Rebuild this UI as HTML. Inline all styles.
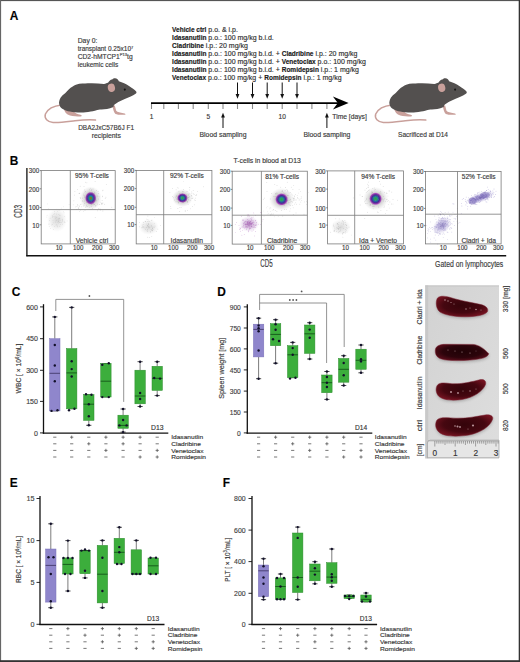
<!DOCTYPE html><html><head><meta charset="utf-8"><style>
html,body{margin:0;padding:0;background:#fff;}
svg{display:block;}
text{font-family:"Liberation Sans",sans-serif;stroke:#3a3a3a;stroke-width:0.15px;}
</style></head><body>
<svg width="520" height="662" viewBox="0 0 520 662">
<rect x="0" y="0" width="520" height="662" fill="#fff"/>
<text x="9.70" y="20.00" font-size="11.9" text-anchor="start" font-weight="bold" fill="#000" >A</text>
<text x="77.70" y="43.40" font-size="6.8" text-anchor="start" font-weight="normal" fill="#3a3a3a" >Day 0:</text>
<text x="77.70" y="51.20" font-size="6.8" text-anchor="start" font-weight="normal" fill="#3a3a3a" textLength="55.60" lengthAdjust="spacingAndGlyphs" >transplant 0.25x10<tspan dy="-2.6" font-size="4.2">7</tspan></text>
<text x="77.70" y="59.00" font-size="6.8" text-anchor="start" font-weight="normal" fill="#3a3a3a" textLength="55.00" lengthAdjust="spacingAndGlyphs" >CD2-hMTCP1<tspan dy="-2.6" font-size="4.2">P13</tspan><tspan dy="2.6">tg</tspan></text>
<text x="77.70" y="66.80" font-size="6.8" text-anchor="start" font-weight="normal" fill="#3a3a3a" textLength="40.60" lengthAdjust="spacingAndGlyphs" >leukemic cells</text>
<text x="106.10" y="129.80" font-size="6.8" text-anchor="middle" font-weight="normal" fill="#3a3a3a" textLength="55.80" lengthAdjust="spacingAndGlyphs" >DBA2JxC57B6J F1</text>
<text x="106.30" y="137.70" font-size="6.8" text-anchor="middle" font-weight="normal" fill="#3a3a3a" textLength="29.20" lengthAdjust="spacingAndGlyphs" >recipients</text>
<text x="172.10" y="31.50" font-size="7.0" text-anchor="start" font-weight="normal" fill="#2a2a2a" ><tspan font-weight="bold" font-size="6.5" fill="#111">Vehicle ctrl</tspan> p.o. &amp; i.p.</text>
<text x="172.10" y="39.57" font-size="7.0" text-anchor="start" font-weight="normal" fill="#2a2a2a" ><tspan font-weight="bold" font-size="6.5" fill="#111">Idasanutlin</tspan> p.o.: 100 mg/kg b.i.d.</text>
<text x="172.10" y="47.64" font-size="7.0" text-anchor="start" font-weight="normal" fill="#2a2a2a" ><tspan font-weight="bold" font-size="6.5" fill="#111">Cladribine</tspan> i.p.: 20 mg/kg</text>
<text x="172.10" y="55.71" font-size="7.0" text-anchor="start" font-weight="normal" fill="#2a2a2a" ><tspan font-weight="bold" font-size="6.5" fill="#111">Idasanutlin</tspan> p.o.: 100 mg/kg b.i.d. + <tspan font-weight="bold" font-size="6.5" fill="#111">Cladribine</tspan> i.p.: 20 mg/kg</text>
<text x="172.10" y="63.78" font-size="7.0" text-anchor="start" font-weight="normal" fill="#2a2a2a" ><tspan font-weight="bold" font-size="6.5" fill="#111">Idasanutlin</tspan> p.o.: 100 mg/kg b.i.d. + <tspan font-weight="bold" font-size="6.5" fill="#111">Venetoclax</tspan> p.o.: 100 mg/kg</text>
<text x="172.10" y="71.85" font-size="7.0" text-anchor="start" font-weight="normal" fill="#2a2a2a" ><tspan font-weight="bold" font-size="6.5" fill="#111">Idasanutlin</tspan> p.o.: 100 mg/kg b.i.d. + <tspan font-weight="bold" font-size="6.5" fill="#111">Romidepsin</tspan> i.p.: 1 mg/kg</text>
<text x="172.10" y="79.92" font-size="7.0" text-anchor="start" font-weight="normal" fill="#2a2a2a" ><tspan font-weight="bold" font-size="6.5" fill="#111">Venetoclax</tspan> p.o.: 100 mg/kg + <tspan font-weight="bold" font-size="6.5" fill="#111">Romidepsin</tspan> i.p.: 1 mg/kg</text>
<line x1="151.50" y1="103.00" x2="151.50" y2="109.00" stroke="#8a8a8a" stroke-width="1.1" />
<line x1="163.80" y1="103.00" x2="163.80" y2="109.00" stroke="#8a8a8a" stroke-width="1.1" />
<line x1="178.40" y1="103.00" x2="178.40" y2="109.00" stroke="#8a8a8a" stroke-width="1.1" />
<line x1="193.20" y1="103.00" x2="193.20" y2="109.00" stroke="#8a8a8a" stroke-width="1.1" />
<line x1="208.30" y1="103.00" x2="208.30" y2="109.00" stroke="#8a8a8a" stroke-width="1.1" />
<line x1="223.00" y1="103.00" x2="223.00" y2="109.00" stroke="#8a8a8a" stroke-width="1.1" />
<line x1="237.50" y1="103.00" x2="237.50" y2="109.00" stroke="#8a8a8a" stroke-width="1.1" />
<line x1="252.50" y1="103.00" x2="252.50" y2="109.00" stroke="#8a8a8a" stroke-width="1.1" />
<line x1="267.20" y1="103.00" x2="267.20" y2="109.00" stroke="#8a8a8a" stroke-width="1.1" />
<line x1="282.20" y1="103.00" x2="282.20" y2="109.00" stroke="#8a8a8a" stroke-width="1.1" />
<line x1="297.00" y1="103.00" x2="297.00" y2="109.00" stroke="#8a8a8a" stroke-width="1.1" />
<line x1="311.90" y1="103.00" x2="311.90" y2="109.00" stroke="#8a8a8a" stroke-width="1.1" />
<line x1="326.90" y1="103.00" x2="326.90" y2="109.00" stroke="#8a8a8a" stroke-width="1.1" />
<line x1="151.00" y1="103.10" x2="340.00" y2="103.10" stroke="#000" stroke-width="1.7" />
<polygon points="332.9,96.6 348.6,103.1 332.9,109.5 337.8,103.1" fill="#000"/>
<line x1="237.50" y1="82.50" x2="237.50" y2="95.00" stroke="#111" stroke-width="1.0" />
<polygon points="235.60,94 239.40,94 237.50,98.8" fill="#111"/>
<line x1="252.50" y1="82.50" x2="252.50" y2="95.00" stroke="#111" stroke-width="1.0" />
<polygon points="250.60,94 254.40,94 252.50,98.8" fill="#111"/>
<line x1="267.20" y1="82.50" x2="267.20" y2="95.00" stroke="#111" stroke-width="1.0" />
<polygon points="265.30,94 269.10,94 267.20,98.8" fill="#111"/>
<line x1="282.20" y1="82.50" x2="282.20" y2="95.00" stroke="#111" stroke-width="1.0" />
<polygon points="280.30,94 284.10,94 282.20,98.8" fill="#111"/>
<line x1="297.00" y1="82.50" x2="297.00" y2="95.00" stroke="#111" stroke-width="1.0" />
<polygon points="295.10,94 298.90,94 297.00,98.8" fill="#111"/>
<line x1="223.00" y1="117.00" x2="223.00" y2="128.00" stroke="#111" stroke-width="1.0" />
<polygon points="221.10,117.6 224.90,117.6 223.00,112.8" fill="#111"/>
<line x1="326.90" y1="117.00" x2="326.90" y2="128.00" stroke="#111" stroke-width="1.0" />
<polygon points="325.00,117.6 328.80,117.6 326.90,112.8" fill="#111"/>
<text x="151.50" y="118.60" font-size="6.6" text-anchor="middle" font-weight="normal" fill="#3a3a3a" >1</text>
<text x="208.30" y="118.60" font-size="6.6" text-anchor="middle" font-weight="normal" fill="#3a3a3a" >5</text>
<text x="282.20" y="118.60" font-size="6.6" text-anchor="middle" font-weight="normal" fill="#3a3a3a" >10</text>
<text x="332.30" y="118.80" font-size="6.8" text-anchor="start" font-weight="normal" fill="#3a3a3a" textLength="34.50" lengthAdjust="spacingAndGlyphs" >Time [days]</text>
<text x="223.00" y="137.20" font-size="6.8" text-anchor="middle" font-weight="normal" fill="#3a3a3a" textLength="47.00" lengthAdjust="spacingAndGlyphs" >Blood sampling</text>
<text x="326.90" y="137.20" font-size="6.8" text-anchor="middle" font-weight="normal" fill="#3a3a3a" textLength="47.00" lengthAdjust="spacingAndGlyphs" >Blood sampling</text>
<text x="423.00" y="137.20" font-size="6.8" text-anchor="middle" font-weight="normal" fill="#3a3a3a" textLength="50.00" lengthAdjust="spacingAndGlyphs" >Sacrificed at D14</text>
<g transform="translate(0,0)"><path d="M61.5,105.1 C54,106 47.5,109.5 45.4,114 C44,118.5 47.5,122 53,122.4 C60,122.8 68,121.5 75,120.7 C82,120 90,119.5 95.5,120.1" fill="none" stroke="#c9a09b" stroke-width="1.5" stroke-linecap="round"/><path d="M63.5,108 C64.5,112 66.5,114.5 70,115.5 C73,116.3 77,116.6 80.5,116.6 C82.2,116.4 82.2,115.3 80.5,114.8 C77.5,114 75,113 73.5,111.2 L72.5,109.5 Z" fill="#c9a09b"/><path d="M112.5,105 L114.8,105.5 L116.2,110.8 C117.5,112.2 120,112.8 123.5,113.2 C125.5,113.5 126,114.3 125,114.7 C121,115 117.5,114.8 115.5,114 C114,112.5 113.2,110 112.5,106 Z" fill="#c9a09b"/><path d="M59,102.8 C59.5,99 61,96 65.4,93 C68,90 70,88 72.3,86.7 C75,85 77,84.2 79.2,83.8 C85,83.2 89,83.1 91.9,83.2 C96,83.3 100,83.5 104,84 C106,83.5 107,82.5 108,82.7 C109.5,80.5 111,79 112.3,79.5 C112.5,78.6 114,78 115,78.2 C117,78.4 118.5,79.6 118.8,81.2 C122.5,82.2 126,84 129,86 C132,88 134.5,89.8 136,91.2 C136.8,92 136.6,93.2 135.6,93.8 C134,95 132.5,95.9 130.7,96.6 C127,98 123.5,99.5 120.4,101 C117.5,102.4 115,104 113.8,105.3 L113.4,107 C108,109.6 104,109.4 100,109.4 C96,110.2 93.5,111.2 90.8,111.5 C87,112 84,112.6 81.5,112.6 C76,112.6 73,112 70,111.5 C67,111 65.5,110.5 64.2,109.7 C62,108.7 60.8,108 60.2,106.8 C59.5,105.5 59,104.2 59,102.8 Z" fill="#53504f"/><ellipse cx="111.4" cy="87.8" rx="3.6" ry="4.2" fill="#c9a09b" transform="rotate(-12 111.4 87.8)"/><circle cx="124.8" cy="89.6" r="1.05" fill="#141414"/></g>
<g transform="translate(330.3,0)"><path d="M61.5,105.1 C54,106 47.5,109.5 45.4,114 C44,118.5 47.5,122 53,122.4 C60,122.8 68,121.5 75,120.7 C82,120 90,119.5 95.5,120.1" fill="none" stroke="#c9a09b" stroke-width="1.5" stroke-linecap="round"/><path d="M63.5,108 C64.5,112 66.5,114.5 70,115.5 C73,116.3 77,116.6 80.5,116.6 C82.2,116.4 82.2,115.3 80.5,114.8 C77.5,114 75,113 73.5,111.2 L72.5,109.5 Z" fill="#c9a09b"/><path d="M112.5,105 L114.8,105.5 L116.2,110.8 C117.5,112.2 120,112.8 123.5,113.2 C125.5,113.5 126,114.3 125,114.7 C121,115 117.5,114.8 115.5,114 C114,112.5 113.2,110 112.5,106 Z" fill="#c9a09b"/><path d="M59,102.8 C59.5,99 61,96 65.4,93 C68,90 70,88 72.3,86.7 C75,85 77,84.2 79.2,83.8 C85,83.2 89,83.1 91.9,83.2 C96,83.3 100,83.5 104,84 C106,83.5 107,82.5 108,82.7 C109.5,80.5 111,79 112.3,79.5 C112.5,78.6 114,78 115,78.2 C117,78.4 118.5,79.6 118.8,81.2 C122.5,82.2 126,84 129,86 C132,88 134.5,89.8 136,91.2 C136.8,92 136.6,93.2 135.6,93.8 C134,95 132.5,95.9 130.7,96.6 C127,98 123.5,99.5 120.4,101 C117.5,102.4 115,104 113.8,105.3 L113.4,107 C108,109.6 104,109.4 100,109.4 C96,110.2 93.5,111.2 90.8,111.5 C87,112 84,112.6 81.5,112.6 C76,112.6 73,112 70,111.5 C67,111 65.5,110.5 64.2,109.7 C62,108.7 60.8,108 60.2,106.8 C59.5,105.5 59,104.2 59,102.8 Z" fill="#53504f"/><ellipse cx="111.4" cy="87.8" rx="3.6" ry="4.2" fill="#c9a09b" transform="rotate(-12 111.4 87.8)"/><circle cx="124.8" cy="89.6" r="1.05" fill="#141414"/></g>
<text x="9.70" y="165.20" font-size="11.9" text-anchor="start" font-weight="bold" fill="#000" >B</text>
<text x="267.10" y="163.40" font-size="6.8" text-anchor="middle" font-weight="normal" fill="#3a3a3a" textLength="67.30" lengthAdjust="spacingAndGlyphs" >T-cells in blood at D13</text>
<line x1="26.90" y1="168.00" x2="26.90" y2="256.30" stroke="#111" stroke-width="1.3" />
<line x1="26.30" y1="255.70" x2="506.20" y2="255.70" stroke="#111" stroke-width="1.4" />
<text x="0.00" y="0.00" font-size="10.2" text-anchor="middle" font-weight="normal" fill="#3a3a3a" textLength="12.70" lengthAdjust="spacingAndGlyphs" transform="translate(21.90,211.30) rotate(-90)">CD3</text>
<text x="266.40" y="266.80" font-size="10.2" text-anchor="middle" font-weight="normal" fill="#3a3a3a" textLength="12.40" lengthAdjust="spacingAndGlyphs" >CD5</text>
<text x="503.30" y="266.50" font-size="8.5" text-anchor="end" font-weight="normal" fill="#3a3a3a" textLength="68.20" lengthAdjust="spacingAndGlyphs" >Gated on lymphocytes</text>
<defs><radialGradient id="blob"><stop offset="0" stop-color="#9a6a20"/><stop offset="0.15" stop-color="#6a7a30"/><stop offset="0.28" stop-color="#1a9a7a"/><stop offset="0.42" stop-color="#2a5aa8"/><stop offset="0.6" stop-color="#5a2a9a"/><stop offset="0.8" stop-color="#9a40b0"/><stop offset="1" stop-color="#c080d0" stop-opacity="0"/></radialGradient><radialGradient id="blobg"><stop offset="0" stop-color="#30a040"/><stop offset="0.25" stop-color="#22a070"/><stop offset="0.42" stop-color="#2a5aa8"/><stop offset="0.6" stop-color="#4a2a90"/><stop offset="0.8" stop-color="#a040b8"/><stop offset="1" stop-color="#d080d8" stop-opacity="0"/></radialGradient><radialGradient id="halo"><stop offset="0.4" stop-color="#666" stop-opacity="0.4"/><stop offset="0.7" stop-color="#888" stop-opacity="0.2"/><stop offset="1" stop-color="#aaa" stop-opacity="0"/></radialGradient><radialGradient id="gcloud"><stop offset="0" stop-color="#a8a8a8" stop-opacity="0.45"/><stop offset="0.6" stop-color="#c0c0c0" stop-opacity="0.25"/><stop offset="1" stop-color="#d0d0d0" stop-opacity="0"/></radialGradient><radialGradient id="pcloud"><stop offset="0" stop-color="#8a3a9a" stop-opacity="0.7"/><stop offset="0.5" stop-color="#b080c0" stop-opacity="0.4"/><stop offset="1" stop-color="#c8b0d8" stop-opacity="0"/></radialGradient><radialGradient id="vcloud"><stop offset="0" stop-color="#5a4aa0" stop-opacity="0.75"/><stop offset="0.5" stop-color="#8070c0" stop-opacity="0.45"/><stop offset="1" stop-color="#b0a8d8" stop-opacity="0"/></radialGradient></defs>
<ellipse cx="57" cy="220" rx="10" ry="12" fill="url(#gcloud)"/>
<circle cx="55.7" cy="222.1" r="0.35" fill="#999" opacity="0.45"/><circle cx="55.9" cy="217.1" r="0.35" fill="#999" opacity="0.45"/><circle cx="52.3" cy="217.7" r="0.35" fill="#999" opacity="0.45"/><circle cx="62.6" cy="221.5" r="0.35" fill="#999" opacity="0.45"/><circle cx="62.2" cy="220.5" r="0.35" fill="#999" opacity="0.45"/><circle cx="59.0" cy="220.1" r="0.35" fill="#999" opacity="0.45"/><circle cx="48.7" cy="224.1" r="0.35" fill="#999" opacity="0.45"/><circle cx="59.5" cy="222.0" r="0.35" fill="#999" opacity="0.45"/><circle cx="48.5" cy="208.5" r="0.35" fill="#999" opacity="0.45"/><circle cx="52.6" cy="216.2" r="0.35" fill="#999" opacity="0.45"/><circle cx="58.5" cy="218.7" r="0.35" fill="#999" opacity="0.45"/><circle cx="59.6" cy="215.1" r="0.35" fill="#999" opacity="0.45"/><circle cx="58.5" cy="221.4" r="0.35" fill="#999" opacity="0.45"/><circle cx="53.7" cy="229.3" r="0.35" fill="#999" opacity="0.45"/><circle cx="59.8" cy="226.2" r="0.35" fill="#999" opacity="0.45"/><circle cx="53.9" cy="214.6" r="0.35" fill="#999" opacity="0.45"/><circle cx="55.3" cy="218.4" r="0.35" fill="#999" opacity="0.45"/><circle cx="60.2" cy="220.5" r="0.35" fill="#999" opacity="0.45"/><circle cx="54.8" cy="213.3" r="0.35" fill="#999" opacity="0.45"/><circle cx="54.4" cy="226.3" r="0.35" fill="#999" opacity="0.45"/><circle cx="53.0" cy="220.5" r="0.35" fill="#999" opacity="0.45"/><circle cx="59.1" cy="210.1" r="0.35" fill="#999" opacity="0.45"/><circle cx="57.2" cy="226.8" r="0.35" fill="#999" opacity="0.45"/><circle cx="46.9" cy="217.1" r="0.35" fill="#999" opacity="0.45"/><circle cx="56.5" cy="214.1" r="0.35" fill="#999" opacity="0.45"/><circle cx="59.5" cy="218.6" r="0.35" fill="#999" opacity="0.45"/><circle cx="49.7" cy="224.0" r="0.35" fill="#999" opacity="0.45"/><circle cx="60.3" cy="224.7" r="0.35" fill="#999" opacity="0.45"/><circle cx="64.2" cy="221.2" r="0.35" fill="#999" opacity="0.45"/><circle cx="57.6" cy="211.2" r="0.35" fill="#999" opacity="0.45"/><circle cx="60.1" cy="215.3" r="0.35" fill="#999" opacity="0.45"/><circle cx="54.7" cy="211.4" r="0.35" fill="#999" opacity="0.45"/><circle cx="52.2" cy="215.8" r="0.35" fill="#999" opacity="0.45"/><circle cx="63.4" cy="206.8" r="0.35" fill="#999" opacity="0.45"/><circle cx="49.7" cy="220.4" r="0.35" fill="#999" opacity="0.45"/><circle cx="64.2" cy="222.5" r="0.35" fill="#999" opacity="0.45"/><circle cx="47.5" cy="203.9" r="0.35" fill="#999" opacity="0.45"/><circle cx="58.8" cy="214.6" r="0.35" fill="#999" opacity="0.45"/><circle cx="51.4" cy="224.9" r="0.35" fill="#999" opacity="0.45"/><circle cx="62.5" cy="219.9" r="0.35" fill="#999" opacity="0.45"/><circle cx="58.2" cy="221.6" r="0.35" fill="#999" opacity="0.45"/><circle cx="65.0" cy="222.7" r="0.35" fill="#999" opacity="0.45"/><circle cx="59.6" cy="222.3" r="0.35" fill="#999" opacity="0.45"/><circle cx="49.2" cy="226.7" r="0.35" fill="#999" opacity="0.45"/><circle cx="61.8" cy="222.2" r="0.35" fill="#999" opacity="0.45"/><circle cx="47.1" cy="215.2" r="0.35" fill="#999" opacity="0.45"/><circle cx="61.2" cy="208.1" r="0.35" fill="#999" opacity="0.45"/><circle cx="56.1" cy="225.1" r="0.35" fill="#999" opacity="0.45"/><circle cx="50.4" cy="228.7" r="0.35" fill="#999" opacity="0.45"/><circle cx="59.8" cy="218.1" r="0.35" fill="#999" opacity="0.45"/><circle cx="58.6" cy="222.9" r="0.35" fill="#999" opacity="0.45"/><circle cx="57.6" cy="225.9" r="0.35" fill="#999" opacity="0.45"/><circle cx="53.7" cy="216.5" r="0.35" fill="#999" opacity="0.45"/><circle cx="62.2" cy="219.2" r="0.35" fill="#999" opacity="0.45"/><circle cx="52.6" cy="224.7" r="0.35" fill="#999" opacity="0.45"/><circle cx="64.3" cy="216.3" r="0.35" fill="#999" opacity="0.45"/><circle cx="50.1" cy="218.2" r="0.35" fill="#999" opacity="0.45"/><circle cx="56.3" cy="217.2" r="0.35" fill="#999" opacity="0.45"/><circle cx="64.0" cy="212.8" r="0.35" fill="#999" opacity="0.45"/><circle cx="63.3" cy="211.4" r="0.35" fill="#999" opacity="0.45"/><circle cx="53.1" cy="222.8" r="0.35" fill="#999" opacity="0.45"/><circle cx="62.6" cy="224.2" r="0.35" fill="#999" opacity="0.45"/><circle cx="58.7" cy="219.9" r="0.35" fill="#999" opacity="0.45"/><circle cx="57.8" cy="222.5" r="0.35" fill="#999" opacity="0.45"/><circle cx="56.1" cy="220.7" r="0.35" fill="#999" opacity="0.45"/><circle cx="59.9" cy="219.0" r="0.35" fill="#999" opacity="0.45"/><circle cx="60.8" cy="222.4" r="0.35" fill="#999" opacity="0.45"/><circle cx="67.1" cy="220.9" r="0.35" fill="#999" opacity="0.45"/><circle cx="54.9" cy="216.8" r="0.35" fill="#999" opacity="0.45"/><circle cx="56.9" cy="224.5" r="0.35" fill="#999" opacity="0.45"/>
<circle cx="78.7" cy="207.4" r="0.35" fill="#999" opacity="0.5"/><circle cx="87.3" cy="197.0" r="0.35" fill="#999" opacity="0.5"/><circle cx="75.5" cy="206.9" r="0.35" fill="#999" opacity="0.5"/><circle cx="81.6" cy="206.8" r="0.35" fill="#999" opacity="0.5"/><circle cx="78.3" cy="208.3" r="0.35" fill="#999" opacity="0.5"/><circle cx="81.1" cy="204.2" r="0.35" fill="#999" opacity="0.5"/><circle cx="89.7" cy="207.2" r="0.35" fill="#999" opacity="0.5"/><circle cx="77.8" cy="205.7" r="0.35" fill="#999" opacity="0.5"/><circle cx="79.1" cy="205.8" r="0.35" fill="#999" opacity="0.5"/><circle cx="69.1" cy="204.3" r="0.35" fill="#999" opacity="0.5"/><circle cx="84.0" cy="201.9" r="0.35" fill="#999" opacity="0.5"/><circle cx="79.7" cy="209.3" r="0.35" fill="#999" opacity="0.5"/><circle cx="83.4" cy="211.2" r="0.35" fill="#999" opacity="0.5"/><circle cx="73.2" cy="204.8" r="0.35" fill="#999" opacity="0.5"/><circle cx="78.6" cy="208.2" r="0.35" fill="#999" opacity="0.5"/><circle cx="84.4" cy="196.6" r="0.35" fill="#999" opacity="0.5"/><circle cx="84.4" cy="200.9" r="0.35" fill="#999" opacity="0.5"/><circle cx="82.7" cy="200.8" r="0.35" fill="#999" opacity="0.5"/><circle cx="80.7" cy="210.2" r="0.35" fill="#999" opacity="0.5"/><circle cx="79.4" cy="206.7" r="0.35" fill="#999" opacity="0.5"/><circle cx="83.2" cy="206.5" r="0.35" fill="#999" opacity="0.5"/><circle cx="79.6" cy="211.4" r="0.35" fill="#999" opacity="0.5"/><circle cx="84.2" cy="205.0" r="0.35" fill="#999" opacity="0.5"/><circle cx="91.0" cy="202.0" r="0.35" fill="#999" opacity="0.5"/><circle cx="83.7" cy="205.1" r="0.35" fill="#999" opacity="0.5"/>
<ellipse cx="90.7" cy="198.2" rx="11.0" ry="11.9" fill="url(#halo)"/>
<circle cx="92.7" cy="203.8" r="0.4" fill="#777" opacity="0.45"/><circle cx="93.4" cy="203.3" r="0.4" fill="#777" opacity="0.45"/><circle cx="80.2" cy="186.2" r="0.4" fill="#777" opacity="0.45"/><circle cx="96.3" cy="190.6" r="0.4" fill="#777" opacity="0.45"/><circle cx="84.0" cy="186.6" r="0.4" fill="#777" opacity="0.45"/><circle cx="101.2" cy="204.1" r="0.4" fill="#777" opacity="0.45"/><circle cx="102.8" cy="190.8" r="0.4" fill="#777" opacity="0.45"/><circle cx="91.7" cy="189.2" r="0.4" fill="#777" opacity="0.45"/><circle cx="97.5" cy="210.8" r="0.4" fill="#777" opacity="0.45"/><circle cx="85.0" cy="210.6" r="0.4" fill="#777" opacity="0.45"/><circle cx="99.1" cy="196.8" r="0.4" fill="#777" opacity="0.45"/><circle cx="76.8" cy="209.3" r="0.4" fill="#777" opacity="0.45"/><circle cx="91.0" cy="193.4" r="0.4" fill="#777" opacity="0.45"/><circle cx="94.7" cy="201.4" r="0.4" fill="#777" opacity="0.45"/><circle cx="103.0" cy="190.1" r="0.4" fill="#777" opacity="0.45"/><circle cx="100.3" cy="210.0" r="0.4" fill="#777" opacity="0.45"/><circle cx="102.6" cy="196.8" r="0.4" fill="#777" opacity="0.45"/><circle cx="86.1" cy="206.3" r="0.4" fill="#777" opacity="0.45"/><circle cx="92.6" cy="199.2" r="0.4" fill="#777" opacity="0.45"/><circle cx="102.4" cy="196.1" r="0.4" fill="#777" opacity="0.45"/><circle cx="74.4" cy="195.1" r="0.4" fill="#777" opacity="0.45"/><circle cx="77.7" cy="204.7" r="0.4" fill="#777" opacity="0.45"/><circle cx="94.1" cy="193.4" r="0.4" fill="#777" opacity="0.45"/><circle cx="91.6" cy="204.8" r="0.4" fill="#777" opacity="0.45"/><circle cx="92.3" cy="208.7" r="0.4" fill="#777" opacity="0.45"/><circle cx="91.2" cy="206.4" r="0.4" fill="#777" opacity="0.45"/><circle cx="102.9" cy="211.0" r="0.4" fill="#777" opacity="0.45"/><circle cx="86.6" cy="205.2" r="0.4" fill="#777" opacity="0.45"/><circle cx="77.6" cy="189.6" r="0.4" fill="#777" opacity="0.45"/><circle cx="76.9" cy="206.7" r="0.4" fill="#777" opacity="0.45"/><circle cx="82.4" cy="198.1" r="0.4" fill="#777" opacity="0.45"/><circle cx="90.3" cy="198.0" r="0.4" fill="#777" opacity="0.45"/><circle cx="87.2" cy="200.1" r="0.4" fill="#777" opacity="0.45"/><circle cx="105.2" cy="198.6" r="0.4" fill="#777" opacity="0.45"/><circle cx="95.7" cy="206.1" r="0.4" fill="#777" opacity="0.45"/><circle cx="90.2" cy="188.2" r="0.4" fill="#777" opacity="0.45"/><circle cx="87.5" cy="206.7" r="0.4" fill="#777" opacity="0.45"/><circle cx="79.3" cy="193.5" r="0.4" fill="#777" opacity="0.45"/><circle cx="99.3" cy="204.5" r="0.4" fill="#777" opacity="0.45"/><circle cx="91.8" cy="204.6" r="0.4" fill="#777" opacity="0.45"/><circle cx="93.0" cy="188.9" r="0.4" fill="#777" opacity="0.45"/><circle cx="79.9" cy="193.1" r="0.4" fill="#777" opacity="0.45"/><circle cx="98.7" cy="193.7" r="0.4" fill="#777" opacity="0.45"/><circle cx="84.9" cy="192.1" r="0.4" fill="#777" opacity="0.45"/><circle cx="80.2" cy="197.3" r="0.4" fill="#777" opacity="0.45"/><circle cx="82.8" cy="201.1" r="0.4" fill="#777" opacity="0.45"/><circle cx="73.9" cy="200.8" r="0.4" fill="#777" opacity="0.45"/><circle cx="86.9" cy="182.8" r="0.4" fill="#777" opacity="0.45"/><circle cx="97.2" cy="196.0" r="0.4" fill="#777" opacity="0.45"/><circle cx="74.9" cy="191.3" r="0.4" fill="#777" opacity="0.45"/><circle cx="93.9" cy="194.6" r="0.4" fill="#777" opacity="0.45"/><circle cx="97.6" cy="204.1" r="0.4" fill="#777" opacity="0.45"/><circle cx="96.7" cy="200.8" r="0.4" fill="#777" opacity="0.45"/><circle cx="101.8" cy="203.4" r="0.4" fill="#777" opacity="0.45"/><circle cx="95.1" cy="181.7" r="0.4" fill="#777" opacity="0.45"/><circle cx="98.5" cy="208.6" r="0.4" fill="#777" opacity="0.45"/><circle cx="89.5" cy="194.5" r="0.4" fill="#777" opacity="0.45"/><circle cx="106.3" cy="184.3" r="0.4" fill="#777" opacity="0.45"/><circle cx="95.2" cy="217.4" r="0.4" fill="#777" opacity="0.45"/><circle cx="84.7" cy="203.7" r="0.4" fill="#777" opacity="0.45"/><circle cx="105.9" cy="197.2" r="0.4" fill="#777" opacity="0.45"/><circle cx="95.9" cy="205.3" r="0.4" fill="#777" opacity="0.45"/><circle cx="84.9" cy="197.5" r="0.4" fill="#777" opacity="0.45"/><circle cx="93.9" cy="204.7" r="0.4" fill="#777" opacity="0.45"/><circle cx="91.4" cy="196.7" r="0.4" fill="#777" opacity="0.45"/><circle cx="84.0" cy="195.4" r="0.4" fill="#777" opacity="0.45"/><circle cx="98.4" cy="199.0" r="0.4" fill="#777" opacity="0.45"/><circle cx="85.3" cy="191.5" r="0.4" fill="#777" opacity="0.45"/><circle cx="111.8" cy="207.2" r="0.4" fill="#777" opacity="0.45"/><circle cx="96.5" cy="177.7" r="0.4" fill="#777" opacity="0.45"/>
<ellipse cx="90.7" cy="198.2" rx="5.8" ry="6.6" fill="url(#blob)"/>
<circle cx="95.7" cy="200.9" r="0.35" fill="#777" opacity="0.5"/><circle cx="102.1" cy="200.6" r="0.35" fill="#777" opacity="0.5"/><circle cx="91.6" cy="201.1" r="0.35" fill="#777" opacity="0.5"/><circle cx="80.3" cy="204.2" r="0.35" fill="#777" opacity="0.5"/><circle cx="93.9" cy="193.8" r="0.35" fill="#777" opacity="0.5"/><circle cx="100.0" cy="208.9" r="0.35" fill="#777" opacity="0.5"/><circle cx="83.6" cy="194.0" r="0.35" fill="#777" opacity="0.5"/><circle cx="93.7" cy="199.1" r="0.35" fill="#777" opacity="0.5"/><circle cx="89.6" cy="192.2" r="0.35" fill="#777" opacity="0.5"/><circle cx="104.7" cy="204.2" r="0.35" fill="#777" opacity="0.5"/><circle cx="84.8" cy="189.9" r="0.35" fill="#777" opacity="0.5"/><circle cx="102.2" cy="203.9" r="0.35" fill="#777" opacity="0.5"/><circle cx="102.9" cy="202.9" r="0.35" fill="#777" opacity="0.5"/><circle cx="86.8" cy="199.6" r="0.35" fill="#777" opacity="0.5"/><circle cx="79.0" cy="193.5" r="0.35" fill="#777" opacity="0.5"/><circle cx="91.6" cy="201.1" r="0.35" fill="#777" opacity="0.5"/><circle cx="87.6" cy="197.3" r="0.35" fill="#777" opacity="0.5"/><circle cx="94.8" cy="200.3" r="0.35" fill="#777" opacity="0.5"/><circle cx="95.8" cy="199.3" r="0.35" fill="#777" opacity="0.5"/><circle cx="90.1" cy="202.7" r="0.35" fill="#777" opacity="0.5"/><circle cx="92.3" cy="193.0" r="0.35" fill="#777" opacity="0.5"/><circle cx="88.2" cy="198.0" r="0.35" fill="#777" opacity="0.5"/><circle cx="91.3" cy="198.9" r="0.35" fill="#777" opacity="0.5"/><circle cx="92.0" cy="199.1" r="0.35" fill="#777" opacity="0.5"/><circle cx="91.2" cy="190.4" r="0.35" fill="#777" opacity="0.5"/><circle cx="94.5" cy="204.3" r="0.35" fill="#777" opacity="0.5"/><circle cx="94.6" cy="196.9" r="0.35" fill="#777" opacity="0.5"/><circle cx="94.7" cy="192.2" r="0.35" fill="#777" opacity="0.5"/><circle cx="80.6" cy="198.4" r="0.35" fill="#777" opacity="0.5"/><circle cx="86.4" cy="202.4" r="0.35" fill="#777" opacity="0.5"/><circle cx="85.5" cy="182.2" r="0.35" fill="#777" opacity="0.5"/><circle cx="85.8" cy="207.5" r="0.35" fill="#777" opacity="0.5"/><circle cx="89.7" cy="189.8" r="0.35" fill="#777" opacity="0.5"/><circle cx="87.4" cy="201.1" r="0.35" fill="#777" opacity="0.5"/><circle cx="95.0" cy="199.1" r="0.35" fill="#777" opacity="0.5"/><circle cx="100.9" cy="202.2" r="0.35" fill="#777" opacity="0.5"/><circle cx="91.9" cy="201.6" r="0.35" fill="#777" opacity="0.5"/><circle cx="101.9" cy="203.8" r="0.35" fill="#777" opacity="0.5"/><circle cx="98.1" cy="191.5" r="0.35" fill="#777" opacity="0.5"/><circle cx="91.1" cy="202.4" r="0.35" fill="#777" opacity="0.5"/>
<rect x="41.2" y="170.6" width="74.00" height="73.30" fill="none" stroke="#7a7a7a" stroke-width="0.8"/>
<line x1="70.30" y1="170.60" x2="70.30" y2="243.90" stroke="#7a7a7a" stroke-width="0.8" />
<line x1="41.20" y1="209.60" x2="115.20" y2="209.60" stroke="#7a7a7a" stroke-width="0.8" />
<text x="39.20" y="173.30" font-size="7.4" text-anchor="end" font-weight="normal" fill="#3a3a3a" textLength="10.41" lengthAdjust="spacingAndGlyphs" >300</text>
<line x1="39.70" y1="170.60" x2="41.20" y2="170.60" stroke="#555" stroke-width="0.7" />
<text x="39.20" y="191.50" font-size="7.4" text-anchor="end" font-weight="normal" fill="#3a3a3a" textLength="10.41" lengthAdjust="spacingAndGlyphs" >200</text>
<line x1="39.70" y1="188.80" x2="41.20" y2="188.80" stroke="#555" stroke-width="0.7" />
<text x="39.20" y="210.20" font-size="7.4" text-anchor="end" font-weight="normal" fill="#3a3a3a" textLength="10.41" lengthAdjust="spacingAndGlyphs" >100</text>
<line x1="39.70" y1="207.50" x2="41.20" y2="207.50" stroke="#555" stroke-width="0.7" />
<text x="39.20" y="227.50" font-size="7.4" text-anchor="end" font-weight="normal" fill="#3a3a3a" textLength="6.94" lengthAdjust="spacingAndGlyphs" >10</text>
<line x1="39.70" y1="224.80" x2="41.20" y2="224.80" stroke="#555" stroke-width="0.7" />
<text x="59.10" y="250.20" font-size="7.2" text-anchor="middle" font-weight="normal" fill="#3a3a3a" textLength="6.94" lengthAdjust="spacingAndGlyphs" >10</text>
<text x="78.20" y="250.20" font-size="7.2" text-anchor="middle" font-weight="normal" fill="#3a3a3a" textLength="10.41" lengthAdjust="spacingAndGlyphs" >100</text>
<text x="97.20" y="250.20" font-size="7.2" text-anchor="middle" font-weight="normal" fill="#3a3a3a" textLength="10.41" lengthAdjust="spacingAndGlyphs" >200</text>
<text x="114.10" y="250.20" font-size="7.2" text-anchor="middle" font-weight="normal" fill="#3a3a3a" textLength="10.41" lengthAdjust="spacingAndGlyphs" >300</text>
<text x="92.00" y="178.40" font-size="6.4" text-anchor="middle" font-weight="normal" fill="#3a3a3a" textLength="33.80" lengthAdjust="spacingAndGlyphs" >95% T-cells</text>
<text x="92.00" y="242.50" font-size="6.6" text-anchor="middle" font-weight="normal" fill="#3a3a3a" textLength="32.55" lengthAdjust="spacingAndGlyphs" >Vehicle ctrl</text>
<ellipse cx="148.8" cy="227" rx="10" ry="8" fill="url(#gcloud)"/>
<circle cx="147.3" cy="231.3" r="0.35" fill="#888" opacity="0.5"/><circle cx="151.8" cy="230.6" r="0.35" fill="#888" opacity="0.5"/><circle cx="147.7" cy="237.2" r="0.35" fill="#888" opacity="0.5"/><circle cx="155.0" cy="226.1" r="0.35" fill="#888" opacity="0.5"/><circle cx="149.3" cy="237.4" r="0.35" fill="#888" opacity="0.5"/><circle cx="147.1" cy="230.5" r="0.35" fill="#888" opacity="0.5"/><circle cx="153.7" cy="227.0" r="0.35" fill="#888" opacity="0.5"/><circle cx="143.0" cy="227.8" r="0.35" fill="#888" opacity="0.5"/><circle cx="150.6" cy="231.5" r="0.35" fill="#888" opacity="0.5"/><circle cx="152.7" cy="227.1" r="0.35" fill="#888" opacity="0.5"/><circle cx="153.1" cy="229.2" r="0.35" fill="#888" opacity="0.5"/><circle cx="149.8" cy="227.2" r="0.35" fill="#888" opacity="0.5"/><circle cx="147.6" cy="229.7" r="0.35" fill="#888" opacity="0.5"/><circle cx="143.5" cy="224.5" r="0.35" fill="#888" opacity="0.5"/><circle cx="148.8" cy="221.1" r="0.35" fill="#888" opacity="0.5"/><circle cx="146.6" cy="219.0" r="0.35" fill="#888" opacity="0.5"/><circle cx="145.4" cy="229.3" r="0.35" fill="#888" opacity="0.5"/><circle cx="151.6" cy="226.8" r="0.35" fill="#888" opacity="0.5"/><circle cx="147.6" cy="221.3" r="0.35" fill="#888" opacity="0.5"/><circle cx="157.9" cy="229.1" r="0.35" fill="#888" opacity="0.5"/><circle cx="154.3" cy="223.5" r="0.35" fill="#888" opacity="0.5"/><circle cx="147.9" cy="219.7" r="0.35" fill="#888" opacity="0.5"/><circle cx="152.7" cy="230.7" r="0.35" fill="#888" opacity="0.5"/><circle cx="139.3" cy="226.8" r="0.35" fill="#888" opacity="0.5"/><circle cx="152.0" cy="220.0" r="0.35" fill="#888" opacity="0.5"/><circle cx="139.7" cy="222.7" r="0.35" fill="#888" opacity="0.5"/><circle cx="145.7" cy="221.4" r="0.35" fill="#888" opacity="0.5"/><circle cx="149.0" cy="228.0" r="0.35" fill="#888" opacity="0.5"/><circle cx="152.0" cy="229.8" r="0.35" fill="#888" opacity="0.5"/><circle cx="156.3" cy="231.7" r="0.35" fill="#888" opacity="0.5"/><circle cx="142.2" cy="225.0" r="0.35" fill="#888" opacity="0.5"/><circle cx="143.5" cy="222.7" r="0.35" fill="#888" opacity="0.5"/><circle cx="148.4" cy="227.0" r="0.35" fill="#888" opacity="0.5"/><circle cx="151.3" cy="220.7" r="0.35" fill="#888" opacity="0.5"/><circle cx="142.6" cy="226.9" r="0.35" fill="#888" opacity="0.5"/><circle cx="147.8" cy="225.8" r="0.35" fill="#888" opacity="0.5"/><circle cx="148.5" cy="224.0" r="0.35" fill="#888" opacity="0.5"/><circle cx="152.3" cy="228.4" r="0.35" fill="#888" opacity="0.5"/><circle cx="148.4" cy="224.3" r="0.35" fill="#888" opacity="0.5"/><circle cx="147.9" cy="216.1" r="0.35" fill="#888" opacity="0.5"/><circle cx="143.9" cy="227.1" r="0.35" fill="#888" opacity="0.5"/><circle cx="141.3" cy="227.8" r="0.35" fill="#888" opacity="0.5"/><circle cx="149.5" cy="221.5" r="0.35" fill="#888" opacity="0.5"/><circle cx="147.5" cy="225.7" r="0.35" fill="#888" opacity="0.5"/><circle cx="151.1" cy="229.4" r="0.35" fill="#888" opacity="0.5"/><circle cx="148.6" cy="223.6" r="0.35" fill="#888" opacity="0.5"/><circle cx="148.1" cy="226.7" r="0.35" fill="#888" opacity="0.5"/><circle cx="152.5" cy="228.2" r="0.35" fill="#888" opacity="0.5"/><circle cx="145.2" cy="221.6" r="0.35" fill="#888" opacity="0.5"/><circle cx="146.9" cy="224.0" r="0.35" fill="#888" opacity="0.5"/><circle cx="143.2" cy="226.5" r="0.35" fill="#888" opacity="0.5"/><circle cx="146.3" cy="227.4" r="0.35" fill="#888" opacity="0.5"/><circle cx="151.4" cy="225.3" r="0.35" fill="#888" opacity="0.5"/><circle cx="160.4" cy="225.7" r="0.35" fill="#888" opacity="0.5"/><circle cx="154.3" cy="227.5" r="0.35" fill="#888" opacity="0.5"/><circle cx="154.4" cy="217.5" r="0.35" fill="#888" opacity="0.5"/><circle cx="145.0" cy="228.0" r="0.35" fill="#888" opacity="0.5"/><circle cx="151.8" cy="236.3" r="0.35" fill="#888" opacity="0.5"/><circle cx="150.4" cy="232.1" r="0.35" fill="#888" opacity="0.5"/><circle cx="152.6" cy="230.8" r="0.35" fill="#888" opacity="0.5"/>
<ellipse cx="182.4" cy="198" rx="10.4" ry="9.0" fill="url(#halo)"/>
<circle cx="187.0" cy="197.1" r="0.4" fill="#777" opacity="0.45"/><circle cx="187.0" cy="191.5" r="0.4" fill="#777" opacity="0.45"/><circle cx="191.8" cy="191.9" r="0.4" fill="#777" opacity="0.45"/><circle cx="185.2" cy="210.7" r="0.4" fill="#777" opacity="0.45"/><circle cx="181.8" cy="198.1" r="0.4" fill="#777" opacity="0.45"/><circle cx="191.7" cy="198.2" r="0.4" fill="#777" opacity="0.45"/><circle cx="177.6" cy="199.5" r="0.4" fill="#777" opacity="0.45"/><circle cx="187.6" cy="202.3" r="0.4" fill="#777" opacity="0.45"/><circle cx="177.9" cy="208.5" r="0.4" fill="#777" opacity="0.45"/><circle cx="195.3" cy="198.1" r="0.4" fill="#777" opacity="0.45"/><circle cx="185.3" cy="195.4" r="0.4" fill="#777" opacity="0.45"/><circle cx="193.5" cy="193.8" r="0.4" fill="#777" opacity="0.45"/><circle cx="188.2" cy="195.1" r="0.4" fill="#777" opacity="0.45"/><circle cx="178.4" cy="202.3" r="0.4" fill="#777" opacity="0.45"/><circle cx="192.9" cy="197.9" r="0.4" fill="#777" opacity="0.45"/><circle cx="178.6" cy="202.9" r="0.4" fill="#777" opacity="0.45"/><circle cx="183.0" cy="199.9" r="0.4" fill="#777" opacity="0.45"/><circle cx="194.3" cy="204.8" r="0.4" fill="#777" opacity="0.45"/><circle cx="179.7" cy="211.7" r="0.4" fill="#777" opacity="0.45"/><circle cx="183.4" cy="202.7" r="0.4" fill="#777" opacity="0.45"/><circle cx="178.8" cy="197.7" r="0.4" fill="#777" opacity="0.45"/><circle cx="170.9" cy="208.7" r="0.4" fill="#777" opacity="0.45"/><circle cx="193.2" cy="190.7" r="0.4" fill="#777" opacity="0.45"/><circle cx="172.6" cy="188.3" r="0.4" fill="#777" opacity="0.45"/><circle cx="191.8" cy="195.2" r="0.4" fill="#777" opacity="0.45"/><circle cx="183.0" cy="196.1" r="0.4" fill="#777" opacity="0.45"/><circle cx="182.5" cy="191.5" r="0.4" fill="#777" opacity="0.45"/><circle cx="183.6" cy="189.4" r="0.4" fill="#777" opacity="0.45"/><circle cx="182.9" cy="199.9" r="0.4" fill="#777" opacity="0.45"/><circle cx="186.7" cy="196.6" r="0.4" fill="#777" opacity="0.45"/><circle cx="176.9" cy="199.0" r="0.4" fill="#777" opacity="0.45"/><circle cx="179.9" cy="207.4" r="0.4" fill="#777" opacity="0.45"/><circle cx="188.9" cy="197.3" r="0.4" fill="#777" opacity="0.45"/><circle cx="180.0" cy="193.8" r="0.4" fill="#777" opacity="0.45"/><circle cx="176.7" cy="195.9" r="0.4" fill="#777" opacity="0.45"/><circle cx="185.5" cy="201.1" r="0.4" fill="#777" opacity="0.45"/><circle cx="187.5" cy="210.6" r="0.4" fill="#777" opacity="0.45"/><circle cx="178.4" cy="198.1" r="0.4" fill="#777" opacity="0.45"/><circle cx="203.4" cy="186.8" r="0.4" fill="#777" opacity="0.45"/><circle cx="179.7" cy="199.0" r="0.4" fill="#777" opacity="0.45"/><circle cx="184.5" cy="200.4" r="0.4" fill="#777" opacity="0.45"/><circle cx="181.7" cy="200.2" r="0.4" fill="#777" opacity="0.45"/><circle cx="183.8" cy="202.6" r="0.4" fill="#777" opacity="0.45"/><circle cx="169.9" cy="192.7" r="0.4" fill="#777" opacity="0.45"/><circle cx="183.4" cy="191.8" r="0.4" fill="#777" opacity="0.45"/><circle cx="175.9" cy="201.8" r="0.4" fill="#777" opacity="0.45"/><circle cx="178.8" cy="201.8" r="0.4" fill="#777" opacity="0.45"/><circle cx="188.7" cy="199.8" r="0.4" fill="#777" opacity="0.45"/><circle cx="187.0" cy="197.4" r="0.4" fill="#777" opacity="0.45"/><circle cx="173.3" cy="197.8" r="0.4" fill="#777" opacity="0.45"/><circle cx="186.6" cy="194.8" r="0.4" fill="#777" opacity="0.45"/><circle cx="182.7" cy="202.5" r="0.4" fill="#777" opacity="0.45"/><circle cx="177.1" cy="201.8" r="0.4" fill="#777" opacity="0.45"/><circle cx="196.7" cy="194.7" r="0.4" fill="#777" opacity="0.45"/><circle cx="184.4" cy="197.1" r="0.4" fill="#777" opacity="0.45"/><circle cx="194.4" cy="199.9" r="0.4" fill="#777" opacity="0.45"/><circle cx="189.8" cy="193.9" r="0.4" fill="#777" opacity="0.45"/><circle cx="183.3" cy="197.9" r="0.4" fill="#777" opacity="0.45"/><circle cx="170.7" cy="206.6" r="0.4" fill="#777" opacity="0.45"/><circle cx="189.8" cy="187.5" r="0.4" fill="#777" opacity="0.45"/><circle cx="188.7" cy="197.2" r="0.4" fill="#777" opacity="0.45"/><circle cx="186.6" cy="200.2" r="0.4" fill="#777" opacity="0.45"/><circle cx="172.7" cy="196.7" r="0.4" fill="#777" opacity="0.45"/><circle cx="194.1" cy="194.6" r="0.4" fill="#777" opacity="0.45"/><circle cx="176.1" cy="189.8" r="0.4" fill="#777" opacity="0.45"/><circle cx="174.7" cy="200.0" r="0.4" fill="#777" opacity="0.45"/><circle cx="195.5" cy="200.6" r="0.4" fill="#777" opacity="0.45"/><circle cx="185.2" cy="211.4" r="0.4" fill="#777" opacity="0.45"/><circle cx="179.7" cy="194.0" r="0.4" fill="#777" opacity="0.45"/><circle cx="187.2" cy="201.3" r="0.4" fill="#777" opacity="0.45"/>
<ellipse cx="182.4" cy="198" rx="5.5" ry="5.0" fill="url(#blobg)"/>
<circle cx="178.9" cy="191.7" r="0.35" fill="#888" opacity="0.5"/><circle cx="188.0" cy="198.1" r="0.35" fill="#888" opacity="0.5"/><circle cx="176.9" cy="196.1" r="0.35" fill="#888" opacity="0.5"/><circle cx="182.2" cy="199.1" r="0.35" fill="#888" opacity="0.5"/><circle cx="185.2" cy="196.6" r="0.35" fill="#888" opacity="0.5"/><circle cx="183.5" cy="201.7" r="0.35" fill="#888" opacity="0.5"/><circle cx="195.7" cy="195.3" r="0.35" fill="#888" opacity="0.5"/><circle cx="191.9" cy="193.6" r="0.35" fill="#888" opacity="0.5"/><circle cx="186.5" cy="200.4" r="0.35" fill="#888" opacity="0.5"/><circle cx="196.6" cy="195.3" r="0.35" fill="#888" opacity="0.5"/><circle cx="185.5" cy="197.9" r="0.35" fill="#888" opacity="0.5"/><circle cx="175.5" cy="197.1" r="0.35" fill="#888" opacity="0.5"/><circle cx="181.3" cy="198.7" r="0.35" fill="#888" opacity="0.5"/><circle cx="178.1" cy="188.1" r="0.35" fill="#888" opacity="0.5"/><circle cx="186.3" cy="198.2" r="0.35" fill="#888" opacity="0.5"/><circle cx="182.2" cy="201.0" r="0.35" fill="#888" opacity="0.5"/><circle cx="184.1" cy="194.3" r="0.35" fill="#888" opacity="0.5"/><circle cx="189.3" cy="189.9" r="0.35" fill="#888" opacity="0.5"/><circle cx="181.3" cy="196.9" r="0.35" fill="#888" opacity="0.5"/><circle cx="191.9" cy="196.3" r="0.35" fill="#888" opacity="0.5"/><circle cx="188.2" cy="194.1" r="0.35" fill="#888" opacity="0.5"/><circle cx="188.1" cy="204.5" r="0.35" fill="#888" opacity="0.5"/><circle cx="181.2" cy="207.6" r="0.35" fill="#888" opacity="0.5"/><circle cx="181.5" cy="197.1" r="0.35" fill="#888" opacity="0.5"/><circle cx="187.2" cy="201.6" r="0.35" fill="#888" opacity="0.5"/><circle cx="177.3" cy="187.5" r="0.35" fill="#888" opacity="0.5"/><circle cx="190.2" cy="200.6" r="0.35" fill="#888" opacity="0.5"/><circle cx="190.4" cy="208.8" r="0.35" fill="#888" opacity="0.5"/><circle cx="187.4" cy="198.1" r="0.35" fill="#888" opacity="0.5"/><circle cx="192.5" cy="198.7" r="0.35" fill="#888" opacity="0.5"/><circle cx="197.6" cy="191.4" r="0.35" fill="#888" opacity="0.5"/><circle cx="183.4" cy="181.5" r="0.35" fill="#888" opacity="0.5"/><circle cx="191.7" cy="195.3" r="0.35" fill="#888" opacity="0.5"/><circle cx="192.5" cy="206.7" r="0.35" fill="#888" opacity="0.5"/><circle cx="186.0" cy="195.9" r="0.35" fill="#888" opacity="0.5"/><circle cx="182.5" cy="193.2" r="0.35" fill="#888" opacity="0.5"/><circle cx="181.6" cy="199.9" r="0.35" fill="#888" opacity="0.5"/><circle cx="186.3" cy="197.3" r="0.35" fill="#888" opacity="0.5"/><circle cx="184.8" cy="201.1" r="0.35" fill="#888" opacity="0.5"/><circle cx="189.5" cy="196.4" r="0.35" fill="#888" opacity="0.5"/>
<rect x="136.2" y="170.4" width="75.70" height="73.50" fill="none" stroke="#7a7a7a" stroke-width="0.8"/>
<line x1="163.70" y1="170.40" x2="163.70" y2="243.90" stroke="#7a7a7a" stroke-width="0.8" />
<line x1="136.20" y1="214.70" x2="211.90" y2="214.70" stroke="#7a7a7a" stroke-width="0.8" />
<text x="134.20" y="173.10" font-size="7.4" text-anchor="end" font-weight="normal" fill="#3a3a3a" textLength="10.41" lengthAdjust="spacingAndGlyphs" >300</text>
<line x1="134.70" y1="170.40" x2="136.20" y2="170.40" stroke="#555" stroke-width="0.7" />
<text x="134.20" y="191.30" font-size="7.4" text-anchor="end" font-weight="normal" fill="#3a3a3a" textLength="10.41" lengthAdjust="spacingAndGlyphs" >200</text>
<line x1="134.70" y1="188.60" x2="136.20" y2="188.60" stroke="#555" stroke-width="0.7" />
<text x="134.20" y="210.00" font-size="7.4" text-anchor="end" font-weight="normal" fill="#3a3a3a" textLength="10.41" lengthAdjust="spacingAndGlyphs" >100</text>
<line x1="134.70" y1="207.30" x2="136.20" y2="207.30" stroke="#555" stroke-width="0.7" />
<text x="134.20" y="227.30" font-size="7.4" text-anchor="end" font-weight="normal" fill="#3a3a3a" textLength="6.94" lengthAdjust="spacingAndGlyphs" >10</text>
<line x1="134.70" y1="224.60" x2="136.20" y2="224.60" stroke="#555" stroke-width="0.7" />
<text x="154.10" y="250.20" font-size="7.2" text-anchor="middle" font-weight="normal" fill="#3a3a3a" textLength="6.94" lengthAdjust="spacingAndGlyphs" >10</text>
<text x="173.20" y="250.20" font-size="7.2" text-anchor="middle" font-weight="normal" fill="#3a3a3a" textLength="10.41" lengthAdjust="spacingAndGlyphs" >100</text>
<text x="192.20" y="250.20" font-size="7.2" text-anchor="middle" font-weight="normal" fill="#3a3a3a" textLength="10.41" lengthAdjust="spacingAndGlyphs" >200</text>
<text x="209.10" y="250.20" font-size="7.2" text-anchor="middle" font-weight="normal" fill="#3a3a3a" textLength="10.41" lengthAdjust="spacingAndGlyphs" >300</text>
<text x="186.80" y="178.20" font-size="6.4" text-anchor="middle" font-weight="normal" fill="#3a3a3a" textLength="33.80" lengthAdjust="spacingAndGlyphs" >92% T-cells</text>
<text x="186.80" y="242.50" font-size="6.6" text-anchor="middle" font-weight="normal" fill="#3a3a3a" textLength="32.56" lengthAdjust="spacingAndGlyphs" >Idasanutlin</text>
<ellipse cx="249" cy="224" rx="10" ry="8" fill="url(#pcloud)"/>
<circle cx="252.7" cy="223.3" r="0.35" fill="#9a3aa8" opacity="0.6"/><circle cx="242.7" cy="230.5" r="0.35" fill="#9a3aa8" opacity="0.6"/><circle cx="251.6" cy="219.7" r="0.35" fill="#9a3aa8" opacity="0.6"/><circle cx="254.9" cy="225.6" r="0.35" fill="#9a3aa8" opacity="0.6"/><circle cx="240.4" cy="231.2" r="0.35" fill="#9a3aa8" opacity="0.6"/><circle cx="250.8" cy="228.0" r="0.35" fill="#9a3aa8" opacity="0.6"/><circle cx="250.1" cy="223.3" r="0.35" fill="#9a3aa8" opacity="0.6"/><circle cx="240.5" cy="228.4" r="0.35" fill="#9a3aa8" opacity="0.6"/><circle cx="249.2" cy="222.7" r="0.35" fill="#9a3aa8" opacity="0.6"/><circle cx="250.9" cy="224.4" r="0.35" fill="#9a3aa8" opacity="0.6"/><circle cx="252.7" cy="222.3" r="0.35" fill="#9a3aa8" opacity="0.6"/><circle cx="248.8" cy="214.4" r="0.35" fill="#9a3aa8" opacity="0.6"/><circle cx="246.7" cy="227.0" r="0.35" fill="#9a3aa8" opacity="0.6"/><circle cx="256.4" cy="222.4" r="0.35" fill="#9a3aa8" opacity="0.6"/><circle cx="248.3" cy="231.1" r="0.35" fill="#9a3aa8" opacity="0.6"/><circle cx="247.2" cy="227.3" r="0.35" fill="#9a3aa8" opacity="0.6"/><circle cx="258.2" cy="224.2" r="0.35" fill="#9a3aa8" opacity="0.6"/><circle cx="255.7" cy="220.8" r="0.35" fill="#9a3aa8" opacity="0.6"/><circle cx="250.1" cy="223.7" r="0.35" fill="#9a3aa8" opacity="0.6"/><circle cx="249.6" cy="229.1" r="0.35" fill="#9a3aa8" opacity="0.6"/><circle cx="262.1" cy="221.0" r="0.35" fill="#9a3aa8" opacity="0.6"/><circle cx="245.8" cy="226.2" r="0.35" fill="#9a3aa8" opacity="0.6"/><circle cx="243.2" cy="226.2" r="0.35" fill="#9a3aa8" opacity="0.6"/><circle cx="252.1" cy="222.8" r="0.35" fill="#9a3aa8" opacity="0.6"/><circle cx="251.9" cy="217.0" r="0.35" fill="#9a3aa8" opacity="0.6"/><circle cx="253.2" cy="217.0" r="0.35" fill="#9a3aa8" opacity="0.6"/><circle cx="245.2" cy="221.5" r="0.35" fill="#9a3aa8" opacity="0.6"/><circle cx="246.8" cy="227.9" r="0.35" fill="#9a3aa8" opacity="0.6"/><circle cx="249.4" cy="222.2" r="0.35" fill="#9a3aa8" opacity="0.6"/><circle cx="252.0" cy="231.1" r="0.35" fill="#9a3aa8" opacity="0.6"/><circle cx="249.0" cy="225.6" r="0.35" fill="#9a3aa8" opacity="0.6"/><circle cx="255.8" cy="225.2" r="0.35" fill="#9a3aa8" opacity="0.6"/><circle cx="241.9" cy="235.2" r="0.35" fill="#9a3aa8" opacity="0.6"/><circle cx="261.1" cy="215.1" r="0.35" fill="#9a3aa8" opacity="0.6"/><circle cx="248.8" cy="225.9" r="0.35" fill="#9a3aa8" opacity="0.6"/><circle cx="254.3" cy="227.0" r="0.35" fill="#9a3aa8" opacity="0.6"/><circle cx="247.5" cy="219.3" r="0.35" fill="#9a3aa8" opacity="0.6"/><circle cx="249.6" cy="228.7" r="0.35" fill="#9a3aa8" opacity="0.6"/><circle cx="243.0" cy="219.4" r="0.35" fill="#9a3aa8" opacity="0.6"/><circle cx="248.9" cy="215.3" r="0.35" fill="#9a3aa8" opacity="0.6"/><circle cx="247.6" cy="222.0" r="0.35" fill="#9a3aa8" opacity="0.6"/><circle cx="251.5" cy="220.8" r="0.35" fill="#9a3aa8" opacity="0.6"/><circle cx="244.1" cy="222.2" r="0.35" fill="#9a3aa8" opacity="0.6"/><circle cx="248.7" cy="221.0" r="0.35" fill="#9a3aa8" opacity="0.6"/><circle cx="249.1" cy="227.4" r="0.35" fill="#9a3aa8" opacity="0.6"/><circle cx="255.5" cy="231.7" r="0.35" fill="#9a3aa8" opacity="0.6"/><circle cx="244.7" cy="222.1" r="0.35" fill="#9a3aa8" opacity="0.6"/><circle cx="235.3" cy="232.5" r="0.35" fill="#9a3aa8" opacity="0.6"/><circle cx="245.0" cy="223.8" r="0.35" fill="#9a3aa8" opacity="0.6"/><circle cx="251.9" cy="217.9" r="0.35" fill="#9a3aa8" opacity="0.6"/><circle cx="251.6" cy="223.9" r="0.35" fill="#9a3aa8" opacity="0.6"/><circle cx="239.0" cy="225.3" r="0.35" fill="#9a3aa8" opacity="0.6"/><circle cx="255.6" cy="215.6" r="0.35" fill="#9a3aa8" opacity="0.6"/><circle cx="253.4" cy="224.9" r="0.35" fill="#9a3aa8" opacity="0.6"/><circle cx="251.6" cy="226.0" r="0.35" fill="#9a3aa8" opacity="0.6"/><circle cx="256.2" cy="223.0" r="0.35" fill="#9a3aa8" opacity="0.6"/><circle cx="253.8" cy="222.2" r="0.35" fill="#9a3aa8" opacity="0.6"/><circle cx="253.0" cy="220.3" r="0.35" fill="#9a3aa8" opacity="0.6"/><circle cx="248.4" cy="231.8" r="0.35" fill="#9a3aa8" opacity="0.6"/><circle cx="251.5" cy="223.3" r="0.35" fill="#9a3aa8" opacity="0.6"/><circle cx="242.7" cy="220.4" r="0.35" fill="#9a3aa8" opacity="0.6"/><circle cx="250.1" cy="228.2" r="0.35" fill="#9a3aa8" opacity="0.6"/><circle cx="251.3" cy="226.4" r="0.35" fill="#9a3aa8" opacity="0.6"/><circle cx="248.8" cy="230.1" r="0.35" fill="#9a3aa8" opacity="0.6"/><circle cx="246.9" cy="221.5" r="0.35" fill="#9a3aa8" opacity="0.6"/><circle cx="253.9" cy="224.3" r="0.35" fill="#9a3aa8" opacity="0.6"/><circle cx="247.5" cy="221.4" r="0.35" fill="#9a3aa8" opacity="0.6"/><circle cx="247.6" cy="226.8" r="0.35" fill="#9a3aa8" opacity="0.6"/><circle cx="250.9" cy="218.6" r="0.35" fill="#9a3aa8" opacity="0.6"/><circle cx="251.3" cy="224.8" r="0.35" fill="#9a3aa8" opacity="0.6"/><circle cx="243.5" cy="227.5" r="0.35" fill="#9a3aa8" opacity="0.6"/><circle cx="247.5" cy="222.5" r="0.35" fill="#9a3aa8" opacity="0.6"/><circle cx="253.4" cy="229.9" r="0.35" fill="#9a3aa8" opacity="0.6"/><circle cx="245.2" cy="226.0" r="0.35" fill="#9a3aa8" opacity="0.6"/><circle cx="244.2" cy="234.4" r="0.35" fill="#9a3aa8" opacity="0.6"/><circle cx="246.3" cy="229.4" r="0.35" fill="#9a3aa8" opacity="0.6"/><circle cx="245.4" cy="227.7" r="0.35" fill="#9a3aa8" opacity="0.6"/><circle cx="261.2" cy="212.6" r="0.35" fill="#9a3aa8" opacity="0.6"/><circle cx="246.6" cy="226.3" r="0.35" fill="#9a3aa8" opacity="0.6"/><circle cx="248.5" cy="221.0" r="0.35" fill="#9a3aa8" opacity="0.6"/><circle cx="260.8" cy="224.4" r="0.35" fill="#9a3aa8" opacity="0.6"/><circle cx="240.0" cy="227.8" r="0.35" fill="#9a3aa8" opacity="0.6"/><circle cx="239.5" cy="229.2" r="0.35" fill="#9a3aa8" opacity="0.6"/><circle cx="245.8" cy="224.7" r="0.35" fill="#9a3aa8" opacity="0.6"/><circle cx="255.9" cy="224.5" r="0.35" fill="#9a3aa8" opacity="0.6"/><circle cx="241.3" cy="216.4" r="0.35" fill="#9a3aa8" opacity="0.6"/><circle cx="255.5" cy="227.3" r="0.35" fill="#9a3aa8" opacity="0.6"/><circle cx="244.5" cy="227.9" r="0.35" fill="#9a3aa8" opacity="0.6"/><circle cx="251.7" cy="226.9" r="0.35" fill="#9a3aa8" opacity="0.6"/><circle cx="236.6" cy="222.6" r="0.35" fill="#9a3aa8" opacity="0.6"/><circle cx="254.0" cy="227.3" r="0.35" fill="#9a3aa8" opacity="0.6"/><circle cx="253.8" cy="212.9" r="0.35" fill="#9a3aa8" opacity="0.6"/><circle cx="249.9" cy="226.2" r="0.35" fill="#9a3aa8" opacity="0.6"/><circle cx="263.0" cy="219.7" r="0.35" fill="#9a3aa8" opacity="0.6"/><circle cx="247.2" cy="224.2" r="0.35" fill="#9a3aa8" opacity="0.6"/><circle cx="253.9" cy="222.0" r="0.35" fill="#9a3aa8" opacity="0.6"/><circle cx="255.3" cy="220.5" r="0.35" fill="#9a3aa8" opacity="0.6"/><circle cx="250.5" cy="221.6" r="0.35" fill="#9a3aa8" opacity="0.6"/><circle cx="249.9" cy="220.9" r="0.35" fill="#9a3aa8" opacity="0.6"/><circle cx="240.2" cy="228.9" r="0.35" fill="#9a3aa8" opacity="0.6"/><circle cx="250.7" cy="221.5" r="0.35" fill="#9a3aa8" opacity="0.6"/><circle cx="250.1" cy="228.5" r="0.35" fill="#9a3aa8" opacity="0.6"/><circle cx="243.6" cy="223.5" r="0.35" fill="#9a3aa8" opacity="0.6"/><circle cx="252.0" cy="226.4" r="0.35" fill="#9a3aa8" opacity="0.6"/><circle cx="247.2" cy="214.5" r="0.35" fill="#9a3aa8" opacity="0.6"/><circle cx="255.8" cy="225.5" r="0.35" fill="#9a3aa8" opacity="0.6"/><circle cx="249.1" cy="222.7" r="0.35" fill="#9a3aa8" opacity="0.6"/><circle cx="250.4" cy="222.1" r="0.35" fill="#9a3aa8" opacity="0.6"/><circle cx="243.4" cy="220.7" r="0.35" fill="#9a3aa8" opacity="0.6"/><circle cx="245.7" cy="221.2" r="0.35" fill="#9a3aa8" opacity="0.6"/><circle cx="242.6" cy="226.9" r="0.35" fill="#9a3aa8" opacity="0.6"/><circle cx="241.8" cy="227.0" r="0.35" fill="#9a3aa8" opacity="0.6"/><circle cx="243.4" cy="225.6" r="0.35" fill="#9a3aa8" opacity="0.6"/><circle cx="256.6" cy="224.9" r="0.35" fill="#9a3aa8" opacity="0.6"/><circle cx="245.0" cy="224.2" r="0.35" fill="#9a3aa8" opacity="0.6"/><circle cx="249.8" cy="216.2" r="0.35" fill="#9a3aa8" opacity="0.6"/><circle cx="245.7" cy="224.7" r="0.35" fill="#9a3aa8" opacity="0.6"/><circle cx="246.4" cy="224.4" r="0.35" fill="#9a3aa8" opacity="0.6"/><circle cx="253.0" cy="227.4" r="0.35" fill="#9a3aa8" opacity="0.6"/><circle cx="254.0" cy="226.6" r="0.35" fill="#9a3aa8" opacity="0.6"/><circle cx="247.4" cy="223.9" r="0.35" fill="#9a3aa8" opacity="0.6"/><circle cx="247.5" cy="222.6" r="0.35" fill="#9a3aa8" opacity="0.6"/><circle cx="248.0" cy="216.2" r="0.35" fill="#9a3aa8" opacity="0.6"/><circle cx="247.2" cy="223.9" r="0.35" fill="#9a3aa8" opacity="0.6"/><circle cx="243.6" cy="223.9" r="0.35" fill="#9a3aa8" opacity="0.6"/><circle cx="251.8" cy="223.3" r="0.35" fill="#9a3aa8" opacity="0.6"/><circle cx="260.4" cy="212.3" r="0.35" fill="#9a3aa8" opacity="0.6"/><circle cx="247.9" cy="215.8" r="0.35" fill="#9a3aa8" opacity="0.6"/><circle cx="254.4" cy="235.9" r="0.35" fill="#9a3aa8" opacity="0.6"/><circle cx="235.2" cy="224.6" r="0.35" fill="#9a3aa8" opacity="0.6"/>
<ellipse cx="281.6" cy="199.4" rx="12.5" ry="11.5" fill="url(#halo)"/>
<circle cx="287.1" cy="197.1" r="0.4" fill="#777" opacity="0.45"/><circle cx="287.3" cy="182.2" r="0.4" fill="#777" opacity="0.45"/><circle cx="289.9" cy="202.3" r="0.4" fill="#777" opacity="0.45"/><circle cx="282.8" cy="194.9" r="0.4" fill="#777" opacity="0.45"/><circle cx="288.1" cy="195.7" r="0.4" fill="#777" opacity="0.45"/><circle cx="284.5" cy="195.5" r="0.4" fill="#777" opacity="0.45"/><circle cx="263.3" cy="199.2" r="0.4" fill="#777" opacity="0.45"/><circle cx="284.3" cy="205.2" r="0.4" fill="#777" opacity="0.45"/><circle cx="275.1" cy="199.1" r="0.4" fill="#777" opacity="0.45"/><circle cx="287.9" cy="200.5" r="0.4" fill="#777" opacity="0.45"/><circle cx="293.3" cy="214.7" r="0.4" fill="#777" opacity="0.45"/><circle cx="274.8" cy="184.6" r="0.4" fill="#777" opacity="0.45"/><circle cx="289.9" cy="211.1" r="0.4" fill="#777" opacity="0.45"/><circle cx="290.5" cy="205.7" r="0.4" fill="#777" opacity="0.45"/><circle cx="277.3" cy="193.9" r="0.4" fill="#777" opacity="0.45"/><circle cx="290.2" cy="192.4" r="0.4" fill="#777" opacity="0.45"/><circle cx="267.0" cy="191.7" r="0.4" fill="#777" opacity="0.45"/><circle cx="304.0" cy="214.2" r="0.4" fill="#777" opacity="0.45"/><circle cx="276.7" cy="193.8" r="0.4" fill="#777" opacity="0.45"/><circle cx="284.6" cy="193.6" r="0.4" fill="#777" opacity="0.45"/><circle cx="293.8" cy="198.8" r="0.4" fill="#777" opacity="0.45"/><circle cx="273.3" cy="209.5" r="0.4" fill="#777" opacity="0.45"/><circle cx="277.6" cy="201.1" r="0.4" fill="#777" opacity="0.45"/><circle cx="282.5" cy="197.0" r="0.4" fill="#777" opacity="0.45"/><circle cx="285.4" cy="194.1" r="0.4" fill="#777" opacity="0.45"/><circle cx="266.8" cy="182.4" r="0.4" fill="#777" opacity="0.45"/><circle cx="271.7" cy="193.6" r="0.4" fill="#777" opacity="0.45"/><circle cx="282.4" cy="199.8" r="0.4" fill="#777" opacity="0.45"/><circle cx="287.4" cy="200.3" r="0.4" fill="#777" opacity="0.45"/><circle cx="275.8" cy="194.0" r="0.4" fill="#777" opacity="0.45"/><circle cx="264.4" cy="198.1" r="0.4" fill="#777" opacity="0.45"/><circle cx="286.8" cy="203.5" r="0.4" fill="#777" opacity="0.45"/><circle cx="281.6" cy="198.1" r="0.4" fill="#777" opacity="0.45"/><circle cx="290.6" cy="199.5" r="0.4" fill="#777" opacity="0.45"/><circle cx="288.9" cy="203.9" r="0.4" fill="#777" opacity="0.45"/><circle cx="284.4" cy="209.4" r="0.4" fill="#777" opacity="0.45"/><circle cx="277.7" cy="196.6" r="0.4" fill="#777" opacity="0.45"/><circle cx="275.7" cy="193.3" r="0.4" fill="#777" opacity="0.45"/><circle cx="296.0" cy="212.9" r="0.4" fill="#777" opacity="0.45"/><circle cx="282.8" cy="203.8" r="0.4" fill="#777" opacity="0.45"/><circle cx="292.7" cy="205.6" r="0.4" fill="#777" opacity="0.45"/><circle cx="292.9" cy="189.7" r="0.4" fill="#777" opacity="0.45"/><circle cx="277.1" cy="202.9" r="0.4" fill="#777" opacity="0.45"/><circle cx="294.9" cy="200.2" r="0.4" fill="#777" opacity="0.45"/><circle cx="275.2" cy="196.7" r="0.4" fill="#777" opacity="0.45"/><circle cx="276.9" cy="192.8" r="0.4" fill="#777" opacity="0.45"/><circle cx="295.5" cy="194.6" r="0.4" fill="#777" opacity="0.45"/><circle cx="282.8" cy="216.0" r="0.4" fill="#777" opacity="0.45"/><circle cx="292.8" cy="202.0" r="0.4" fill="#777" opacity="0.45"/><circle cx="277.4" cy="202.6" r="0.4" fill="#777" opacity="0.45"/><circle cx="296.5" cy="204.2" r="0.4" fill="#777" opacity="0.45"/><circle cx="293.4" cy="200.2" r="0.4" fill="#777" opacity="0.45"/><circle cx="287.0" cy="197.9" r="0.4" fill="#777" opacity="0.45"/><circle cx="286.3" cy="209.4" r="0.4" fill="#777" opacity="0.45"/><circle cx="270.3" cy="198.9" r="0.4" fill="#777" opacity="0.45"/><circle cx="284.7" cy="195.0" r="0.4" fill="#777" opacity="0.45"/><circle cx="280.0" cy="205.4" r="0.4" fill="#777" opacity="0.45"/><circle cx="299.8" cy="204.2" r="0.4" fill="#777" opacity="0.45"/><circle cx="285.4" cy="187.5" r="0.4" fill="#777" opacity="0.45"/><circle cx="299.1" cy="200.0" r="0.4" fill="#777" opacity="0.45"/><circle cx="282.3" cy="190.8" r="0.4" fill="#777" opacity="0.45"/><circle cx="282.1" cy="191.0" r="0.4" fill="#777" opacity="0.45"/><circle cx="283.2" cy="203.0" r="0.4" fill="#777" opacity="0.45"/><circle cx="282.9" cy="201.5" r="0.4" fill="#777" opacity="0.45"/><circle cx="275.3" cy="210.4" r="0.4" fill="#777" opacity="0.45"/><circle cx="277.0" cy="185.4" r="0.4" fill="#777" opacity="0.45"/><circle cx="281.0" cy="193.5" r="0.4" fill="#777" opacity="0.45"/><circle cx="273.9" cy="196.7" r="0.4" fill="#777" opacity="0.45"/><circle cx="285.1" cy="190.3" r="0.4" fill="#777" opacity="0.45"/><circle cx="281.4" cy="210.4" r="0.4" fill="#777" opacity="0.45"/>
<ellipse cx="281.6" cy="199.4" rx="6.6" ry="6.4" fill="url(#blobg)"/>
<circle cx="297.5" cy="197.3" r="0.35" fill="#888" opacity="0.5"/><circle cx="293.0" cy="197.5" r="0.35" fill="#888" opacity="0.5"/><circle cx="291.6" cy="201.3" r="0.35" fill="#888" opacity="0.5"/><circle cx="291.3" cy="187.2" r="0.35" fill="#888" opacity="0.5"/><circle cx="291.8" cy="194.0" r="0.35" fill="#888" opacity="0.5"/><circle cx="297.2" cy="195.3" r="0.35" fill="#888" opacity="0.5"/><circle cx="293.2" cy="207.8" r="0.35" fill="#888" opacity="0.5"/><circle cx="283.6" cy="192.9" r="0.35" fill="#888" opacity="0.5"/><circle cx="280.7" cy="187.2" r="0.35" fill="#888" opacity="0.5"/><circle cx="277.0" cy="199.6" r="0.35" fill="#888" opacity="0.5"/><circle cx="286.9" cy="189.6" r="0.35" fill="#888" opacity="0.5"/><circle cx="280.1" cy="200.8" r="0.35" fill="#888" opacity="0.5"/><circle cx="285.8" cy="196.3" r="0.35" fill="#888" opacity="0.5"/><circle cx="294.6" cy="204.1" r="0.35" fill="#888" opacity="0.5"/><circle cx="307.5" cy="202.6" r="0.35" fill="#888" opacity="0.5"/><circle cx="293.1" cy="198.8" r="0.35" fill="#888" opacity="0.5"/><circle cx="306.4" cy="204.4" r="0.35" fill="#888" opacity="0.5"/><circle cx="289.5" cy="200.1" r="0.35" fill="#888" opacity="0.5"/><circle cx="294.3" cy="198.2" r="0.35" fill="#888" opacity="0.5"/><circle cx="288.0" cy="192.0" r="0.35" fill="#888" opacity="0.5"/><circle cx="287.7" cy="191.1" r="0.35" fill="#888" opacity="0.5"/><circle cx="301.8" cy="200.4" r="0.35" fill="#888" opacity="0.5"/><circle cx="282.4" cy="204.3" r="0.35" fill="#888" opacity="0.5"/><circle cx="299.1" cy="189.4" r="0.35" fill="#888" opacity="0.5"/><circle cx="306.7" cy="201.6" r="0.35" fill="#888" opacity="0.5"/><circle cx="308.5" cy="192.5" r="0.35" fill="#888" opacity="0.5"/><circle cx="296.2" cy="199.9" r="0.35" fill="#888" opacity="0.5"/><circle cx="293.6" cy="198.8" r="0.35" fill="#888" opacity="0.5"/><circle cx="300.4" cy="191.3" r="0.35" fill="#888" opacity="0.5"/><circle cx="282.1" cy="191.7" r="0.35" fill="#888" opacity="0.5"/><circle cx="287.5" cy="195.3" r="0.35" fill="#888" opacity="0.5"/><circle cx="294.9" cy="199.2" r="0.35" fill="#888" opacity="0.5"/><circle cx="292.3" cy="195.0" r="0.35" fill="#888" opacity="0.5"/><circle cx="288.5" cy="202.3" r="0.35" fill="#888" opacity="0.5"/><circle cx="298.1" cy="198.5" r="0.35" fill="#888" opacity="0.5"/><circle cx="289.4" cy="205.0" r="0.35" fill="#888" opacity="0.5"/><circle cx="287.2" cy="200.9" r="0.35" fill="#888" opacity="0.5"/><circle cx="301.2" cy="196.8" r="0.35" fill="#888" opacity="0.5"/><circle cx="298.6" cy="193.0" r="0.35" fill="#888" opacity="0.5"/><circle cx="300.1" cy="198.9" r="0.35" fill="#888" opacity="0.5"/><circle cx="279.3" cy="201.0" r="0.35" fill="#888" opacity="0.5"/><circle cx="284.9" cy="203.8" r="0.35" fill="#888" opacity="0.5"/><circle cx="286.6" cy="197.3" r="0.35" fill="#888" opacity="0.5"/><circle cx="294.3" cy="196.5" r="0.35" fill="#888" opacity="0.5"/><circle cx="294.1" cy="195.5" r="0.35" fill="#888" opacity="0.5"/><circle cx="297.4" cy="198.0" r="0.35" fill="#888" opacity="0.5"/><circle cx="293.7" cy="185.6" r="0.35" fill="#888" opacity="0.5"/><circle cx="301.3" cy="198.1" r="0.35" fill="#888" opacity="0.5"/><circle cx="277.7" cy="198.4" r="0.35" fill="#888" opacity="0.5"/><circle cx="295.7" cy="202.8" r="0.35" fill="#888" opacity="0.5"/><circle cx="283.3" cy="205.0" r="0.35" fill="#888" opacity="0.5"/><circle cx="290.7" cy="208.8" r="0.35" fill="#888" opacity="0.5"/><circle cx="290.8" cy="201.1" r="0.35" fill="#888" opacity="0.5"/><circle cx="289.1" cy="193.0" r="0.35" fill="#888" opacity="0.5"/><circle cx="300.8" cy="202.1" r="0.35" fill="#888" opacity="0.5"/><circle cx="304.3" cy="201.9" r="0.35" fill="#888" opacity="0.5"/><circle cx="287.4" cy="190.5" r="0.35" fill="#888" opacity="0.5"/><circle cx="286.8" cy="195.0" r="0.35" fill="#888" opacity="0.5"/><circle cx="285.5" cy="200.6" r="0.35" fill="#888" opacity="0.5"/><circle cx="294.6" cy="196.8" r="0.35" fill="#888" opacity="0.5"/>
<circle cx="270.7" cy="211.6" r="0.35" fill="#aaa" opacity="0.5"/><circle cx="270.9" cy="214.3" r="0.35" fill="#aaa" opacity="0.5"/><circle cx="273.8" cy="209.9" r="0.35" fill="#aaa" opacity="0.5"/><circle cx="264.0" cy="216.3" r="0.35" fill="#aaa" opacity="0.5"/><circle cx="270.5" cy="215.3" r="0.35" fill="#aaa" opacity="0.5"/><circle cx="263.4" cy="211.0" r="0.35" fill="#aaa" opacity="0.5"/><circle cx="270.1" cy="207.7" r="0.35" fill="#aaa" opacity="0.5"/><circle cx="267.9" cy="214.2" r="0.35" fill="#aaa" opacity="0.5"/><circle cx="274.3" cy="216.8" r="0.35" fill="#aaa" opacity="0.5"/><circle cx="266.5" cy="207.8" r="0.35" fill="#aaa" opacity="0.5"/><circle cx="272.1" cy="214.8" r="0.35" fill="#aaa" opacity="0.5"/><circle cx="270.8" cy="208.1" r="0.35" fill="#aaa" opacity="0.5"/><circle cx="273.1" cy="214.4" r="0.35" fill="#aaa" opacity="0.5"/><circle cx="272.2" cy="210.5" r="0.35" fill="#aaa" opacity="0.5"/><circle cx="271.2" cy="214.4" r="0.35" fill="#aaa" opacity="0.5"/><circle cx="267.8" cy="206.5" r="0.35" fill="#aaa" opacity="0.5"/><circle cx="271.3" cy="213.4" r="0.35" fill="#aaa" opacity="0.5"/><circle cx="270.1" cy="214.7" r="0.35" fill="#aaa" opacity="0.5"/><circle cx="267.7" cy="211.8" r="0.35" fill="#aaa" opacity="0.5"/><circle cx="268.8" cy="213.7" r="0.35" fill="#aaa" opacity="0.5"/><circle cx="276.4" cy="211.2" r="0.35" fill="#aaa" opacity="0.5"/><circle cx="278.2" cy="216.6" r="0.35" fill="#aaa" opacity="0.5"/><circle cx="273.2" cy="213.8" r="0.35" fill="#aaa" opacity="0.5"/><circle cx="277.1" cy="211.5" r="0.35" fill="#aaa" opacity="0.5"/><circle cx="269.6" cy="208.8" r="0.35" fill="#aaa" opacity="0.5"/>
<rect x="232.2" y="171.2" width="75.10" height="72.90" fill="none" stroke="#7a7a7a" stroke-width="0.8"/>
<line x1="261.40" y1="171.20" x2="261.40" y2="244.10" stroke="#7a7a7a" stroke-width="0.8" />
<line x1="232.20" y1="215.20" x2="307.30" y2="215.20" stroke="#7a7a7a" stroke-width="0.8" />
<text x="230.20" y="173.90" font-size="7.4" text-anchor="end" font-weight="normal" fill="#3a3a3a" textLength="10.41" lengthAdjust="spacingAndGlyphs" >300</text>
<line x1="230.70" y1="171.20" x2="232.20" y2="171.20" stroke="#555" stroke-width="0.7" />
<text x="230.20" y="192.10" font-size="7.4" text-anchor="end" font-weight="normal" fill="#3a3a3a" textLength="10.41" lengthAdjust="spacingAndGlyphs" >200</text>
<line x1="230.70" y1="189.40" x2="232.20" y2="189.40" stroke="#555" stroke-width="0.7" />
<text x="230.20" y="210.80" font-size="7.4" text-anchor="end" font-weight="normal" fill="#3a3a3a" textLength="10.41" lengthAdjust="spacingAndGlyphs" >100</text>
<line x1="230.70" y1="208.10" x2="232.20" y2="208.10" stroke="#555" stroke-width="0.7" />
<text x="230.20" y="228.10" font-size="7.4" text-anchor="end" font-weight="normal" fill="#3a3a3a" textLength="6.94" lengthAdjust="spacingAndGlyphs" >10</text>
<line x1="230.70" y1="225.40" x2="232.20" y2="225.40" stroke="#555" stroke-width="0.7" />
<text x="250.10" y="250.40" font-size="7.2" text-anchor="middle" font-weight="normal" fill="#3a3a3a" textLength="6.94" lengthAdjust="spacingAndGlyphs" >10</text>
<text x="269.20" y="250.40" font-size="7.2" text-anchor="middle" font-weight="normal" fill="#3a3a3a" textLength="10.41" lengthAdjust="spacingAndGlyphs" >100</text>
<text x="288.20" y="250.40" font-size="7.2" text-anchor="middle" font-weight="normal" fill="#3a3a3a" textLength="10.41" lengthAdjust="spacingAndGlyphs" >200</text>
<text x="305.10" y="250.40" font-size="7.2" text-anchor="middle" font-weight="normal" fill="#3a3a3a" textLength="10.41" lengthAdjust="spacingAndGlyphs" >300</text>
<text x="282.05" y="179.00" font-size="6.4" text-anchor="middle" font-weight="normal" fill="#3a3a3a" textLength="33.80" lengthAdjust="spacingAndGlyphs" >81% T-cells</text>
<text x="282.05" y="242.70" font-size="6.6" text-anchor="middle" font-weight="normal" fill="#3a3a3a" textLength="30.31" lengthAdjust="spacingAndGlyphs" >Cladribine</text>
<ellipse cx="341" cy="227" rx="10" ry="8" fill="url(#gcloud)"/>
<circle cx="343.4" cy="232.4" r="0.35" fill="#888" opacity="0.5"/><circle cx="343.7" cy="228.7" r="0.35" fill="#888" opacity="0.5"/><circle cx="340.0" cy="227.7" r="0.35" fill="#888" opacity="0.5"/><circle cx="333.9" cy="231.2" r="0.35" fill="#888" opacity="0.5"/><circle cx="339.0" cy="222.6" r="0.35" fill="#888" opacity="0.5"/><circle cx="337.2" cy="223.7" r="0.35" fill="#888" opacity="0.5"/><circle cx="345.3" cy="231.2" r="0.35" fill="#888" opacity="0.5"/><circle cx="334.2" cy="230.7" r="0.35" fill="#888" opacity="0.5"/><circle cx="345.4" cy="224.7" r="0.35" fill="#888" opacity="0.5"/><circle cx="333.6" cy="224.0" r="0.35" fill="#888" opacity="0.5"/><circle cx="337.8" cy="228.4" r="0.35" fill="#888" opacity="0.5"/><circle cx="339.2" cy="218.9" r="0.35" fill="#888" opacity="0.5"/><circle cx="342.2" cy="220.9" r="0.35" fill="#888" opacity="0.5"/><circle cx="345.5" cy="222.2" r="0.35" fill="#888" opacity="0.5"/><circle cx="337.5" cy="223.6" r="0.35" fill="#888" opacity="0.5"/><circle cx="338.3" cy="232.2" r="0.35" fill="#888" opacity="0.5"/><circle cx="345.3" cy="229.4" r="0.35" fill="#888" opacity="0.5"/><circle cx="342.6" cy="220.8" r="0.35" fill="#888" opacity="0.5"/><circle cx="338.4" cy="224.8" r="0.35" fill="#888" opacity="0.5"/><circle cx="336.1" cy="229.0" r="0.35" fill="#888" opacity="0.5"/><circle cx="337.3" cy="224.2" r="0.35" fill="#888" opacity="0.5"/><circle cx="335.8" cy="218.8" r="0.35" fill="#888" opacity="0.5"/><circle cx="344.0" cy="232.3" r="0.35" fill="#888" opacity="0.5"/><circle cx="341.9" cy="223.1" r="0.35" fill="#888" opacity="0.5"/><circle cx="327.5" cy="227.7" r="0.35" fill="#888" opacity="0.5"/><circle cx="347.1" cy="228.2" r="0.35" fill="#888" opacity="0.5"/><circle cx="345.6" cy="232.9" r="0.35" fill="#888" opacity="0.5"/><circle cx="346.6" cy="225.2" r="0.35" fill="#888" opacity="0.5"/><circle cx="346.3" cy="230.1" r="0.35" fill="#888" opacity="0.5"/><circle cx="333.3" cy="225.4" r="0.35" fill="#888" opacity="0.5"/><circle cx="333.9" cy="226.6" r="0.35" fill="#888" opacity="0.5"/><circle cx="343.9" cy="222.7" r="0.35" fill="#888" opacity="0.5"/><circle cx="330.7" cy="232.2" r="0.35" fill="#888" opacity="0.5"/><circle cx="342.9" cy="232.9" r="0.35" fill="#888" opacity="0.5"/><circle cx="334.4" cy="231.2" r="0.35" fill="#888" opacity="0.5"/><circle cx="351.4" cy="235.0" r="0.35" fill="#888" opacity="0.5"/><circle cx="339.9" cy="228.1" r="0.35" fill="#888" opacity="0.5"/><circle cx="340.2" cy="231.0" r="0.35" fill="#888" opacity="0.5"/><circle cx="346.2" cy="227.3" r="0.35" fill="#888" opacity="0.5"/><circle cx="334.2" cy="230.0" r="0.35" fill="#888" opacity="0.5"/><circle cx="338.7" cy="229.5" r="0.35" fill="#888" opacity="0.5"/><circle cx="342.3" cy="233.5" r="0.35" fill="#888" opacity="0.5"/><circle cx="346.7" cy="225.2" r="0.35" fill="#888" opacity="0.5"/><circle cx="342.7" cy="234.1" r="0.35" fill="#888" opacity="0.5"/><circle cx="338.3" cy="228.7" r="0.35" fill="#888" opacity="0.5"/><circle cx="347.0" cy="232.0" r="0.35" fill="#888" opacity="0.5"/><circle cx="343.6" cy="221.7" r="0.35" fill="#888" opacity="0.5"/><circle cx="334.7" cy="228.0" r="0.35" fill="#888" opacity="0.5"/><circle cx="342.9" cy="237.2" r="0.35" fill="#888" opacity="0.5"/><circle cx="336.7" cy="231.6" r="0.35" fill="#888" opacity="0.5"/><circle cx="344.9" cy="220.3" r="0.35" fill="#888" opacity="0.5"/><circle cx="336.9" cy="227.7" r="0.35" fill="#888" opacity="0.5"/><circle cx="338.5" cy="226.4" r="0.35" fill="#888" opacity="0.5"/><circle cx="343.4" cy="223.8" r="0.35" fill="#888" opacity="0.5"/><circle cx="343.3" cy="224.5" r="0.35" fill="#888" opacity="0.5"/><circle cx="338.3" cy="229.1" r="0.35" fill="#888" opacity="0.5"/><circle cx="338.1" cy="228.1" r="0.35" fill="#888" opacity="0.5"/><circle cx="349.0" cy="227.1" r="0.35" fill="#888" opacity="0.5"/><circle cx="340.3" cy="229.9" r="0.35" fill="#888" opacity="0.5"/><circle cx="339.2" cy="231.3" r="0.35" fill="#888" opacity="0.5"/>
<ellipse cx="375.6" cy="198.8" rx="12.5" ry="11.9" fill="url(#halo)"/>
<circle cx="365.6" cy="203.7" r="0.4" fill="#777" opacity="0.45"/><circle cx="372.2" cy="192.5" r="0.4" fill="#777" opacity="0.45"/><circle cx="391.8" cy="192.1" r="0.4" fill="#777" opacity="0.45"/><circle cx="391.7" cy="204.0" r="0.4" fill="#777" opacity="0.45"/><circle cx="389.1" cy="191.1" r="0.4" fill="#777" opacity="0.45"/><circle cx="386.9" cy="210.3" r="0.4" fill="#777" opacity="0.45"/><circle cx="375.6" cy="197.8" r="0.4" fill="#777" opacity="0.45"/><circle cx="397.7" cy="200.2" r="0.4" fill="#777" opacity="0.45"/><circle cx="373.0" cy="193.8" r="0.4" fill="#777" opacity="0.45"/><circle cx="380.4" cy="201.4" r="0.4" fill="#777" opacity="0.45"/><circle cx="378.1" cy="212.4" r="0.4" fill="#777" opacity="0.45"/><circle cx="373.8" cy="202.5" r="0.4" fill="#777" opacity="0.45"/><circle cx="389.1" cy="190.8" r="0.4" fill="#777" opacity="0.45"/><circle cx="385.5" cy="213.3" r="0.4" fill="#777" opacity="0.45"/><circle cx="365.0" cy="190.1" r="0.4" fill="#777" opacity="0.45"/><circle cx="367.7" cy="184.2" r="0.4" fill="#777" opacity="0.45"/><circle cx="380.5" cy="184.1" r="0.4" fill="#777" opacity="0.45"/><circle cx="380.9" cy="210.3" r="0.4" fill="#777" opacity="0.45"/><circle cx="362.7" cy="196.3" r="0.4" fill="#777" opacity="0.45"/><circle cx="360.1" cy="205.0" r="0.4" fill="#777" opacity="0.45"/><circle cx="370.3" cy="196.7" r="0.4" fill="#777" opacity="0.45"/><circle cx="377.1" cy="203.1" r="0.4" fill="#777" opacity="0.45"/><circle cx="373.6" cy="198.9" r="0.4" fill="#777" opacity="0.45"/><circle cx="371.9" cy="199.7" r="0.4" fill="#777" opacity="0.45"/><circle cx="366.5" cy="199.3" r="0.4" fill="#777" opacity="0.45"/><circle cx="360.0" cy="194.9" r="0.4" fill="#777" opacity="0.45"/><circle cx="393.0" cy="199.4" r="0.4" fill="#777" opacity="0.45"/><circle cx="365.8" cy="200.8" r="0.4" fill="#777" opacity="0.45"/><circle cx="368.3" cy="185.7" r="0.4" fill="#777" opacity="0.45"/><circle cx="370.3" cy="204.6" r="0.4" fill="#777" opacity="0.45"/><circle cx="379.9" cy="198.0" r="0.4" fill="#777" opacity="0.45"/><circle cx="368.6" cy="190.3" r="0.4" fill="#777" opacity="0.45"/><circle cx="388.2" cy="200.7" r="0.4" fill="#777" opacity="0.45"/><circle cx="368.4" cy="182.1" r="0.4" fill="#777" opacity="0.45"/><circle cx="364.8" cy="218.4" r="0.4" fill="#777" opacity="0.45"/><circle cx="366.7" cy="198.2" r="0.4" fill="#777" opacity="0.45"/><circle cx="378.4" cy="197.6" r="0.4" fill="#777" opacity="0.45"/><circle cx="374.2" cy="187.9" r="0.4" fill="#777" opacity="0.45"/><circle cx="367.6" cy="212.2" r="0.4" fill="#777" opacity="0.45"/><circle cx="370.1" cy="205.5" r="0.4" fill="#777" opacity="0.45"/><circle cx="362.1" cy="196.6" r="0.4" fill="#777" opacity="0.45"/><circle cx="378.8" cy="207.0" r="0.4" fill="#777" opacity="0.45"/><circle cx="367.0" cy="203.5" r="0.4" fill="#777" opacity="0.45"/><circle cx="379.9" cy="193.0" r="0.4" fill="#777" opacity="0.45"/><circle cx="380.7" cy="191.7" r="0.4" fill="#777" opacity="0.45"/><circle cx="369.8" cy="198.7" r="0.4" fill="#777" opacity="0.45"/><circle cx="353.3" cy="197.9" r="0.4" fill="#777" opacity="0.45"/><circle cx="368.0" cy="187.2" r="0.4" fill="#777" opacity="0.45"/><circle cx="373.0" cy="204.8" r="0.4" fill="#777" opacity="0.45"/><circle cx="373.1" cy="208.8" r="0.4" fill="#777" opacity="0.45"/><circle cx="366.7" cy="188.4" r="0.4" fill="#777" opacity="0.45"/><circle cx="389.9" cy="202.0" r="0.4" fill="#777" opacity="0.45"/><circle cx="384.7" cy="192.3" r="0.4" fill="#777" opacity="0.45"/><circle cx="383.5" cy="200.9" r="0.4" fill="#777" opacity="0.45"/><circle cx="382.2" cy="199.0" r="0.4" fill="#777" opacity="0.45"/><circle cx="387.0" cy="193.7" r="0.4" fill="#777" opacity="0.45"/><circle cx="368.3" cy="187.1" r="0.4" fill="#777" opacity="0.45"/><circle cx="386.6" cy="193.0" r="0.4" fill="#777" opacity="0.45"/><circle cx="367.6" cy="191.4" r="0.4" fill="#777" opacity="0.45"/><circle cx="372.8" cy="188.7" r="0.4" fill="#777" opacity="0.45"/><circle cx="374.1" cy="193.8" r="0.4" fill="#777" opacity="0.45"/><circle cx="371.9" cy="191.2" r="0.4" fill="#777" opacity="0.45"/><circle cx="376.9" cy="195.1" r="0.4" fill="#777" opacity="0.45"/><circle cx="377.6" cy="200.8" r="0.4" fill="#777" opacity="0.45"/><circle cx="379.5" cy="181.5" r="0.4" fill="#777" opacity="0.45"/><circle cx="372.0" cy="192.5" r="0.4" fill="#777" opacity="0.45"/><circle cx="383.2" cy="186.3" r="0.4" fill="#777" opacity="0.45"/><circle cx="370.5" cy="196.5" r="0.4" fill="#777" opacity="0.45"/><circle cx="373.7" cy="206.7" r="0.4" fill="#777" opacity="0.45"/><circle cx="372.8" cy="206.4" r="0.4" fill="#777" opacity="0.45"/>
<ellipse cx="375.6" cy="198.8" rx="6.6" ry="6.6" fill="url(#blobg)"/>
<circle cx="369.2" cy="189.9" r="0.35" fill="#888" opacity="0.5"/><circle cx="385.3" cy="201.2" r="0.35" fill="#888" opacity="0.5"/><circle cx="380.9" cy="199.6" r="0.35" fill="#888" opacity="0.5"/><circle cx="380.9" cy="192.9" r="0.35" fill="#888" opacity="0.5"/><circle cx="383.7" cy="196.3" r="0.35" fill="#888" opacity="0.5"/><circle cx="383.9" cy="199.4" r="0.35" fill="#888" opacity="0.5"/><circle cx="366.2" cy="192.6" r="0.35" fill="#888" opacity="0.5"/><circle cx="384.8" cy="198.3" r="0.35" fill="#888" opacity="0.5"/><circle cx="375.6" cy="200.2" r="0.35" fill="#888" opacity="0.5"/><circle cx="375.4" cy="196.3" r="0.35" fill="#888" opacity="0.5"/><circle cx="378.6" cy="199.7" r="0.35" fill="#888" opacity="0.5"/><circle cx="387.1" cy="199.2" r="0.35" fill="#888" opacity="0.5"/><circle cx="389.3" cy="208.0" r="0.35" fill="#888" opacity="0.5"/><circle cx="388.3" cy="204.3" r="0.35" fill="#888" opacity="0.5"/><circle cx="378.8" cy="199.7" r="0.35" fill="#888" opacity="0.5"/><circle cx="377.1" cy="195.3" r="0.35" fill="#888" opacity="0.5"/><circle cx="377.6" cy="195.8" r="0.35" fill="#888" opacity="0.5"/><circle cx="387.8" cy="201.7" r="0.35" fill="#888" opacity="0.5"/><circle cx="375.3" cy="189.4" r="0.35" fill="#888" opacity="0.5"/><circle cx="377.7" cy="196.9" r="0.35" fill="#888" opacity="0.5"/><circle cx="371.5" cy="193.3" r="0.35" fill="#888" opacity="0.5"/><circle cx="364.5" cy="201.8" r="0.35" fill="#888" opacity="0.5"/><circle cx="377.6" cy="211.9" r="0.35" fill="#888" opacity="0.5"/><circle cx="377.8" cy="198.3" r="0.35" fill="#888" opacity="0.5"/><circle cx="386.7" cy="199.7" r="0.35" fill="#888" opacity="0.5"/><circle cx="379.0" cy="197.1" r="0.35" fill="#888" opacity="0.5"/><circle cx="374.4" cy="206.5" r="0.35" fill="#888" opacity="0.5"/><circle cx="384.0" cy="207.6" r="0.35" fill="#888" opacity="0.5"/><circle cx="375.9" cy="199.2" r="0.35" fill="#888" opacity="0.5"/><circle cx="372.7" cy="203.8" r="0.35" fill="#888" opacity="0.5"/><circle cx="369.6" cy="201.8" r="0.35" fill="#888" opacity="0.5"/><circle cx="384.6" cy="206.1" r="0.35" fill="#888" opacity="0.5"/><circle cx="372.4" cy="204.4" r="0.35" fill="#888" opacity="0.5"/><circle cx="373.7" cy="195.2" r="0.35" fill="#888" opacity="0.5"/><circle cx="370.1" cy="204.8" r="0.35" fill="#888" opacity="0.5"/><circle cx="387.9" cy="196.0" r="0.35" fill="#888" opacity="0.5"/><circle cx="373.4" cy="197.3" r="0.35" fill="#888" opacity="0.5"/><circle cx="393.0" cy="204.0" r="0.35" fill="#888" opacity="0.5"/><circle cx="374.7" cy="190.0" r="0.35" fill="#888" opacity="0.5"/><circle cx="374.0" cy="204.9" r="0.35" fill="#888" opacity="0.5"/>
<rect x="327.6" y="170.9" width="75.80" height="73.00" fill="none" stroke="#7a7a7a" stroke-width="0.8"/>
<line x1="354.70" y1="170.90" x2="354.70" y2="243.90" stroke="#7a7a7a" stroke-width="0.8" />
<line x1="327.60" y1="215.30" x2="403.40" y2="215.30" stroke="#7a7a7a" stroke-width="0.8" />
<text x="325.60" y="173.60" font-size="7.4" text-anchor="end" font-weight="normal" fill="#3a3a3a" textLength="10.41" lengthAdjust="spacingAndGlyphs" >300</text>
<line x1="326.10" y1="170.90" x2="327.60" y2="170.90" stroke="#555" stroke-width="0.7" />
<text x="325.60" y="191.80" font-size="7.4" text-anchor="end" font-weight="normal" fill="#3a3a3a" textLength="10.41" lengthAdjust="spacingAndGlyphs" >200</text>
<line x1="326.10" y1="189.10" x2="327.60" y2="189.10" stroke="#555" stroke-width="0.7" />
<text x="325.60" y="210.50" font-size="7.4" text-anchor="end" font-weight="normal" fill="#3a3a3a" textLength="10.41" lengthAdjust="spacingAndGlyphs" >100</text>
<line x1="326.10" y1="207.80" x2="327.60" y2="207.80" stroke="#555" stroke-width="0.7" />
<text x="325.60" y="227.80" font-size="7.4" text-anchor="end" font-weight="normal" fill="#3a3a3a" textLength="6.94" lengthAdjust="spacingAndGlyphs" >10</text>
<line x1="326.10" y1="225.10" x2="327.60" y2="225.10" stroke="#555" stroke-width="0.7" />
<text x="345.50" y="250.20" font-size="7.2" text-anchor="middle" font-weight="normal" fill="#3a3a3a" textLength="6.94" lengthAdjust="spacingAndGlyphs" >10</text>
<text x="364.60" y="250.20" font-size="7.2" text-anchor="middle" font-weight="normal" fill="#3a3a3a" textLength="10.41" lengthAdjust="spacingAndGlyphs" >100</text>
<text x="383.60" y="250.20" font-size="7.2" text-anchor="middle" font-weight="normal" fill="#3a3a3a" textLength="10.41" lengthAdjust="spacingAndGlyphs" >200</text>
<text x="400.50" y="250.20" font-size="7.2" text-anchor="middle" font-weight="normal" fill="#3a3a3a" textLength="10.41" lengthAdjust="spacingAndGlyphs" >300</text>
<text x="378.05" y="178.70" font-size="6.4" text-anchor="middle" font-weight="normal" fill="#3a3a3a" textLength="33.80" lengthAdjust="spacingAndGlyphs" >94% T-cells</text>
<text x="378.05" y="242.50" font-size="6.6" text-anchor="middle" font-weight="normal" fill="#3a3a3a" textLength="37.99" lengthAdjust="spacingAndGlyphs" >Ida + Veneto</text>
<circle cx="451.9" cy="215.4" r="0.4" fill="#6a5ab0" opacity="0.45"/><circle cx="436.4" cy="226.8" r="0.4" fill="#6a5ab0" opacity="0.45"/><circle cx="434.1" cy="238.0" r="0.4" fill="#6a5ab0" opacity="0.45"/><circle cx="439.2" cy="234.7" r="0.4" fill="#6a5ab0" opacity="0.45"/><circle cx="428.1" cy="228.8" r="0.4" fill="#6a5ab0" opacity="0.45"/><circle cx="441.2" cy="221.1" r="0.4" fill="#6a5ab0" opacity="0.45"/><circle cx="446.5" cy="221.7" r="0.4" fill="#6a5ab0" opacity="0.45"/><circle cx="437.2" cy="233.4" r="0.4" fill="#6a5ab0" opacity="0.45"/><circle cx="440.7" cy="214.0" r="0.4" fill="#6a5ab0" opacity="0.45"/><circle cx="454.1" cy="218.5" r="0.4" fill="#6a5ab0" opacity="0.45"/><circle cx="440.4" cy="214.6" r="0.4" fill="#6a5ab0" opacity="0.45"/><circle cx="436.7" cy="227.5" r="0.4" fill="#6a5ab0" opacity="0.45"/><circle cx="443.5" cy="214.6" r="0.4" fill="#6a5ab0" opacity="0.45"/><circle cx="430.4" cy="221.9" r="0.4" fill="#6a5ab0" opacity="0.45"/><circle cx="441.7" cy="227.9" r="0.4" fill="#6a5ab0" opacity="0.45"/><circle cx="430.4" cy="231.3" r="0.4" fill="#6a5ab0" opacity="0.45"/><circle cx="450.0" cy="229.0" r="0.4" fill="#6a5ab0" opacity="0.45"/><circle cx="444.8" cy="221.0" r="0.4" fill="#6a5ab0" opacity="0.45"/><circle cx="432.2" cy="227.5" r="0.4" fill="#6a5ab0" opacity="0.45"/><circle cx="438.7" cy="229.2" r="0.4" fill="#6a5ab0" opacity="0.45"/><circle cx="447.1" cy="232.0" r="0.4" fill="#6a5ab0" opacity="0.45"/><circle cx="440.2" cy="219.9" r="0.4" fill="#6a5ab0" opacity="0.45"/><circle cx="453.9" cy="221.6" r="0.4" fill="#6a5ab0" opacity="0.45"/><circle cx="440.3" cy="222.2" r="0.4" fill="#6a5ab0" opacity="0.45"/><circle cx="428.0" cy="230.5" r="0.4" fill="#6a5ab0" opacity="0.45"/><circle cx="444.7" cy="217.9" r="0.4" fill="#6a5ab0" opacity="0.45"/><circle cx="435.0" cy="232.5" r="0.4" fill="#6a5ab0" opacity="0.45"/><circle cx="445.3" cy="226.5" r="0.4" fill="#6a5ab0" opacity="0.45"/><circle cx="450.3" cy="227.6" r="0.4" fill="#6a5ab0" opacity="0.45"/><circle cx="440.3" cy="233.2" r="0.4" fill="#6a5ab0" opacity="0.45"/><circle cx="438.6" cy="232.8" r="0.4" fill="#6a5ab0" opacity="0.45"/><circle cx="443.8" cy="225.5" r="0.4" fill="#6a5ab0" opacity="0.45"/><circle cx="447.5" cy="220.7" r="0.4" fill="#6a5ab0" opacity="0.45"/><circle cx="451.2" cy="223.4" r="0.4" fill="#6a5ab0" opacity="0.45"/><circle cx="441.0" cy="222.6" r="0.4" fill="#6a5ab0" opacity="0.45"/><circle cx="436.0" cy="227.0" r="0.4" fill="#6a5ab0" opacity="0.45"/><circle cx="440.8" cy="226.3" r="0.4" fill="#6a5ab0" opacity="0.45"/><circle cx="461.2" cy="213.5" r="0.4" fill="#6a5ab0" opacity="0.45"/><circle cx="443.7" cy="218.4" r="0.4" fill="#6a5ab0" opacity="0.45"/><circle cx="436.9" cy="227.6" r="0.4" fill="#6a5ab0" opacity="0.45"/><circle cx="439.8" cy="220.5" r="0.4" fill="#6a5ab0" opacity="0.45"/><circle cx="449.5" cy="215.5" r="0.4" fill="#6a5ab0" opacity="0.45"/><circle cx="440.7" cy="211.3" r="0.4" fill="#6a5ab0" opacity="0.45"/><circle cx="442.9" cy="226.5" r="0.4" fill="#6a5ab0" opacity="0.45"/><circle cx="445.0" cy="226.8" r="0.4" fill="#6a5ab0" opacity="0.45"/><circle cx="444.1" cy="224.7" r="0.4" fill="#6a5ab0" opacity="0.45"/><circle cx="428.8" cy="231.8" r="0.4" fill="#6a5ab0" opacity="0.45"/><circle cx="430.6" cy="239.1" r="0.4" fill="#6a5ab0" opacity="0.45"/><circle cx="443.1" cy="223.2" r="0.4" fill="#6a5ab0" opacity="0.45"/><circle cx="435.4" cy="227.1" r="0.4" fill="#6a5ab0" opacity="0.45"/><circle cx="458.2" cy="223.1" r="0.4" fill="#6a5ab0" opacity="0.45"/><circle cx="445.8" cy="230.6" r="0.4" fill="#6a5ab0" opacity="0.45"/><circle cx="426.7" cy="225.6" r="0.4" fill="#6a5ab0" opacity="0.45"/><circle cx="436.4" cy="224.4" r="0.4" fill="#6a5ab0" opacity="0.45"/><circle cx="439.4" cy="228.8" r="0.4" fill="#6a5ab0" opacity="0.45"/><circle cx="457.3" cy="208.3" r="0.4" fill="#6a5ab0" opacity="0.45"/><circle cx="443.2" cy="226.2" r="0.4" fill="#6a5ab0" opacity="0.45"/><circle cx="444.8" cy="229.1" r="0.4" fill="#6a5ab0" opacity="0.45"/><circle cx="448.2" cy="212.1" r="0.4" fill="#6a5ab0" opacity="0.45"/><circle cx="442.1" cy="223.6" r="0.4" fill="#6a5ab0" opacity="0.45"/><circle cx="439.1" cy="217.8" r="0.4" fill="#6a5ab0" opacity="0.45"/><circle cx="424.5" cy="225.0" r="0.4" fill="#6a5ab0" opacity="0.45"/><circle cx="445.6" cy="223.6" r="0.4" fill="#6a5ab0" opacity="0.45"/><circle cx="434.8" cy="216.0" r="0.4" fill="#6a5ab0" opacity="0.45"/><circle cx="437.4" cy="224.3" r="0.4" fill="#6a5ab0" opacity="0.45"/><circle cx="430.9" cy="228.7" r="0.4" fill="#6a5ab0" opacity="0.45"/><circle cx="447.8" cy="224.1" r="0.4" fill="#6a5ab0" opacity="0.45"/><circle cx="443.5" cy="227.5" r="0.4" fill="#6a5ab0" opacity="0.45"/><circle cx="438.8" cy="228.6" r="0.4" fill="#6a5ab0" opacity="0.45"/><circle cx="444.0" cy="227.3" r="0.4" fill="#6a5ab0" opacity="0.45"/><circle cx="441.1" cy="225.2" r="0.4" fill="#6a5ab0" opacity="0.45"/><circle cx="439.2" cy="223.6" r="0.4" fill="#6a5ab0" opacity="0.45"/><circle cx="456.5" cy="216.6" r="0.4" fill="#6a5ab0" opacity="0.45"/><circle cx="451.8" cy="232.1" r="0.4" fill="#6a5ab0" opacity="0.45"/><circle cx="445.1" cy="212.7" r="0.4" fill="#6a5ab0" opacity="0.45"/><circle cx="448.7" cy="225.3" r="0.4" fill="#6a5ab0" opacity="0.45"/><circle cx="457.1" cy="221.4" r="0.4" fill="#6a5ab0" opacity="0.45"/><circle cx="442.6" cy="217.2" r="0.4" fill="#6a5ab0" opacity="0.45"/><circle cx="437.9" cy="230.6" r="0.4" fill="#6a5ab0" opacity="0.45"/><circle cx="441.6" cy="219.1" r="0.4" fill="#6a5ab0" opacity="0.45"/><circle cx="438.5" cy="225.7" r="0.4" fill="#6a5ab0" opacity="0.45"/><circle cx="443.4" cy="226.4" r="0.4" fill="#6a5ab0" opacity="0.45"/><circle cx="436.4" cy="222.0" r="0.4" fill="#6a5ab0" opacity="0.45"/><circle cx="454.3" cy="225.5" r="0.4" fill="#6a5ab0" opacity="0.45"/><circle cx="444.7" cy="229.8" r="0.4" fill="#6a5ab0" opacity="0.45"/><circle cx="446.7" cy="225.8" r="0.4" fill="#6a5ab0" opacity="0.45"/><circle cx="442.3" cy="220.2" r="0.4" fill="#6a5ab0" opacity="0.45"/><circle cx="448.5" cy="226.5" r="0.4" fill="#6a5ab0" opacity="0.45"/><circle cx="443.2" cy="237.3" r="0.4" fill="#6a5ab0" opacity="0.45"/><circle cx="459.9" cy="222.3" r="0.4" fill="#6a5ab0" opacity="0.45"/><circle cx="455.8" cy="218.7" r="0.4" fill="#6a5ab0" opacity="0.45"/><circle cx="438.1" cy="224.7" r="0.4" fill="#6a5ab0" opacity="0.45"/><circle cx="437.7" cy="229.8" r="0.4" fill="#6a5ab0" opacity="0.45"/><circle cx="444.0" cy="228.1" r="0.4" fill="#6a5ab0" opacity="0.45"/><circle cx="437.8" cy="244.0" r="0.4" fill="#6a5ab0" opacity="0.45"/><circle cx="455.0" cy="214.3" r="0.4" fill="#6a5ab0" opacity="0.45"/><circle cx="447.4" cy="224.0" r="0.4" fill="#6a5ab0" opacity="0.45"/><circle cx="442.9" cy="223.3" r="0.4" fill="#6a5ab0" opacity="0.45"/><circle cx="438.6" cy="222.8" r="0.4" fill="#6a5ab0" opacity="0.45"/><circle cx="442.9" cy="224.4" r="0.4" fill="#6a5ab0" opacity="0.45"/><circle cx="441.1" cy="220.6" r="0.4" fill="#6a5ab0" opacity="0.45"/><circle cx="442.4" cy="225.4" r="0.4" fill="#6a5ab0" opacity="0.45"/><circle cx="442.1" cy="218.4" r="0.4" fill="#6a5ab0" opacity="0.45"/><circle cx="447.6" cy="227.1" r="0.4" fill="#6a5ab0" opacity="0.45"/><circle cx="444.2" cy="221.1" r="0.4" fill="#6a5ab0" opacity="0.45"/><circle cx="438.4" cy="226.9" r="0.4" fill="#6a5ab0" opacity="0.45"/><circle cx="451.2" cy="227.8" r="0.4" fill="#6a5ab0" opacity="0.45"/><circle cx="439.0" cy="223.7" r="0.4" fill="#6a5ab0" opacity="0.45"/><circle cx="444.8" cy="224.4" r="0.4" fill="#6a5ab0" opacity="0.45"/><circle cx="434.4" cy="227.0" r="0.4" fill="#6a5ab0" opacity="0.45"/><circle cx="443.6" cy="228.5" r="0.4" fill="#6a5ab0" opacity="0.45"/><circle cx="431.9" cy="227.3" r="0.4" fill="#6a5ab0" opacity="0.45"/><circle cx="440.9" cy="218.3" r="0.4" fill="#6a5ab0" opacity="0.45"/><circle cx="443.8" cy="226.2" r="0.4" fill="#6a5ab0" opacity="0.45"/><circle cx="438.1" cy="222.0" r="0.4" fill="#6a5ab0" opacity="0.45"/><circle cx="440.6" cy="224.4" r="0.4" fill="#6a5ab0" opacity="0.45"/><circle cx="441.2" cy="220.6" r="0.4" fill="#6a5ab0" opacity="0.45"/><circle cx="442.9" cy="213.7" r="0.4" fill="#6a5ab0" opacity="0.45"/><circle cx="441.0" cy="226.3" r="0.4" fill="#6a5ab0" opacity="0.45"/><circle cx="445.6" cy="218.4" r="0.4" fill="#6a5ab0" opacity="0.45"/><circle cx="443.3" cy="220.6" r="0.4" fill="#6a5ab0" opacity="0.45"/><circle cx="451.8" cy="228.5" r="0.4" fill="#6a5ab0" opacity="0.45"/><circle cx="441.1" cy="229.0" r="0.4" fill="#6a5ab0" opacity="0.45"/><circle cx="439.8" cy="233.6" r="0.4" fill="#6a5ab0" opacity="0.45"/><circle cx="449.1" cy="219.7" r="0.4" fill="#6a5ab0" opacity="0.45"/><circle cx="436.8" cy="232.4" r="0.4" fill="#6a5ab0" opacity="0.45"/><circle cx="452.1" cy="224.0" r="0.4" fill="#6a5ab0" opacity="0.45"/><circle cx="440.8" cy="214.5" r="0.4" fill="#6a5ab0" opacity="0.45"/><circle cx="442.7" cy="234.1" r="0.4" fill="#6a5ab0" opacity="0.45"/><circle cx="438.6" cy="235.6" r="0.4" fill="#6a5ab0" opacity="0.45"/><circle cx="455.3" cy="219.2" r="0.4" fill="#6a5ab0" opacity="0.45"/><circle cx="447.4" cy="218.7" r="0.4" fill="#6a5ab0" opacity="0.45"/><circle cx="434.6" cy="230.9" r="0.4" fill="#6a5ab0" opacity="0.45"/><circle cx="440.7" cy="226.2" r="0.4" fill="#6a5ab0" opacity="0.45"/><circle cx="445.5" cy="221.5" r="0.4" fill="#6a5ab0" opacity="0.45"/><circle cx="444.5" cy="226.1" r="0.4" fill="#6a5ab0" opacity="0.45"/><circle cx="447.9" cy="232.5" r="0.4" fill="#6a5ab0" opacity="0.45"/><circle cx="444.8" cy="223.6" r="0.4" fill="#6a5ab0" opacity="0.45"/><circle cx="438.8" cy="224.0" r="0.4" fill="#6a5ab0" opacity="0.45"/><circle cx="450.2" cy="219.5" r="0.4" fill="#6a5ab0" opacity="0.45"/><circle cx="434.0" cy="228.4" r="0.4" fill="#6a5ab0" opacity="0.45"/><circle cx="439.8" cy="224.4" r="0.4" fill="#6a5ab0" opacity="0.45"/><circle cx="444.5" cy="215.7" r="0.4" fill="#6a5ab0" opacity="0.45"/><circle cx="445.3" cy="223.6" r="0.4" fill="#6a5ab0" opacity="0.45"/><circle cx="435.4" cy="231.3" r="0.4" fill="#6a5ab0" opacity="0.45"/><circle cx="443.1" cy="227.8" r="0.4" fill="#6a5ab0" opacity="0.45"/><circle cx="440.4" cy="228.7" r="0.4" fill="#6a5ab0" opacity="0.45"/><circle cx="428.9" cy="229.3" r="0.4" fill="#6a5ab0" opacity="0.45"/><circle cx="449.9" cy="225.6" r="0.4" fill="#6a5ab0" opacity="0.45"/><circle cx="440.0" cy="223.2" r="0.4" fill="#6a5ab0" opacity="0.45"/><circle cx="441.5" cy="212.2" r="0.4" fill="#6a5ab0" opacity="0.45"/><circle cx="439.6" cy="231.8" r="0.4" fill="#6a5ab0" opacity="0.45"/><circle cx="442.4" cy="218.3" r="0.4" fill="#6a5ab0" opacity="0.45"/><circle cx="435.8" cy="240.1" r="0.4" fill="#6a5ab0" opacity="0.45"/><circle cx="440.0" cy="221.2" r="0.4" fill="#6a5ab0" opacity="0.45"/><circle cx="445.2" cy="228.6" r="0.4" fill="#6a5ab0" opacity="0.45"/><circle cx="430.7" cy="242.1" r="0.4" fill="#6a5ab0" opacity="0.45"/><circle cx="439.6" cy="213.9" r="0.4" fill="#6a5ab0" opacity="0.45"/><circle cx="440.7" cy="214.9" r="0.4" fill="#6a5ab0" opacity="0.45"/><circle cx="449.8" cy="221.4" r="0.4" fill="#6a5ab0" opacity="0.45"/><circle cx="453.0" cy="212.2" r="0.4" fill="#6a5ab0" opacity="0.45"/><circle cx="445.4" cy="229.4" r="0.4" fill="#6a5ab0" opacity="0.45"/><circle cx="436.1" cy="225.8" r="0.4" fill="#6a5ab0" opacity="0.45"/><circle cx="439.6" cy="226.9" r="0.4" fill="#6a5ab0" opacity="0.45"/><circle cx="437.3" cy="232.5" r="0.4" fill="#6a5ab0" opacity="0.45"/><circle cx="445.4" cy="223.1" r="0.4" fill="#6a5ab0" opacity="0.45"/><circle cx="450.7" cy="215.9" r="0.4" fill="#6a5ab0" opacity="0.45"/><circle cx="447.7" cy="217.0" r="0.4" fill="#6a5ab0" opacity="0.45"/><circle cx="440.1" cy="214.3" r="0.4" fill="#6a5ab0" opacity="0.45"/><circle cx="442.6" cy="223.8" r="0.4" fill="#6a5ab0" opacity="0.45"/><circle cx="437.2" cy="225.4" r="0.4" fill="#6a5ab0" opacity="0.45"/><circle cx="437.7" cy="224.3" r="0.4" fill="#6a5ab0" opacity="0.45"/><circle cx="427.5" cy="233.7" r="0.4" fill="#6a5ab0" opacity="0.45"/><circle cx="437.2" cy="226.0" r="0.4" fill="#6a5ab0" opacity="0.45"/><circle cx="435.5" cy="230.0" r="0.4" fill="#6a5ab0" opacity="0.45"/><circle cx="445.7" cy="220.7" r="0.4" fill="#6a5ab0" opacity="0.45"/><circle cx="443.5" cy="233.0" r="0.4" fill="#6a5ab0" opacity="0.45"/><circle cx="450.6" cy="224.2" r="0.4" fill="#6a5ab0" opacity="0.45"/><circle cx="447.6" cy="218.6" r="0.4" fill="#6a5ab0" opacity="0.45"/><circle cx="444.8" cy="230.3" r="0.4" fill="#6a5ab0" opacity="0.45"/><circle cx="438.4" cy="227.6" r="0.4" fill="#6a5ab0" opacity="0.45"/><circle cx="445.4" cy="225.0" r="0.4" fill="#6a5ab0" opacity="0.45"/><circle cx="443.6" cy="230.5" r="0.4" fill="#6a5ab0" opacity="0.45"/><circle cx="443.3" cy="229.0" r="0.4" fill="#6a5ab0" opacity="0.45"/><circle cx="450.3" cy="222.8" r="0.4" fill="#6a5ab0" opacity="0.45"/><circle cx="442.5" cy="217.4" r="0.4" fill="#6a5ab0" opacity="0.45"/><circle cx="432.5" cy="229.4" r="0.4" fill="#6a5ab0" opacity="0.45"/><circle cx="449.6" cy="228.9" r="0.4" fill="#6a5ab0" opacity="0.45"/><circle cx="436.0" cy="232.5" r="0.4" fill="#6a5ab0" opacity="0.45"/><circle cx="434.7" cy="226.7" r="0.4" fill="#6a5ab0" opacity="0.45"/><circle cx="442.6" cy="229.4" r="0.4" fill="#6a5ab0" opacity="0.45"/><circle cx="447.0" cy="228.9" r="0.4" fill="#6a5ab0" opacity="0.45"/><circle cx="439.2" cy="233.6" r="0.4" fill="#6a5ab0" opacity="0.45"/><circle cx="447.6" cy="221.2" r="0.4" fill="#6a5ab0" opacity="0.45"/><circle cx="442.9" cy="220.9" r="0.4" fill="#6a5ab0" opacity="0.45"/><circle cx="434.4" cy="229.1" r="0.4" fill="#6a5ab0" opacity="0.45"/><circle cx="447.6" cy="239.6" r="0.4" fill="#6a5ab0" opacity="0.45"/><circle cx="444.5" cy="234.1" r="0.4" fill="#6a5ab0" opacity="0.45"/><circle cx="444.2" cy="225.6" r="0.4" fill="#6a5ab0" opacity="0.45"/><circle cx="443.8" cy="218.8" r="0.4" fill="#6a5ab0" opacity="0.45"/><circle cx="448.5" cy="222.4" r="0.4" fill="#6a5ab0" opacity="0.45"/><circle cx="435.2" cy="235.0" r="0.4" fill="#6a5ab0" opacity="0.45"/><circle cx="446.6" cy="224.5" r="0.4" fill="#6a5ab0" opacity="0.45"/><circle cx="449.8" cy="216.2" r="0.4" fill="#6a5ab0" opacity="0.45"/><circle cx="447.3" cy="225.8" r="0.4" fill="#6a5ab0" opacity="0.45"/><circle cx="440.7" cy="234.3" r="0.4" fill="#6a5ab0" opacity="0.45"/><circle cx="429.5" cy="227.4" r="0.4" fill="#6a5ab0" opacity="0.45"/><circle cx="441.5" cy="218.7" r="0.4" fill="#6a5ab0" opacity="0.45"/><circle cx="436.0" cy="219.7" r="0.4" fill="#6a5ab0" opacity="0.45"/><circle cx="438.8" cy="220.7" r="0.4" fill="#6a5ab0" opacity="0.45"/><circle cx="439.0" cy="217.9" r="0.4" fill="#6a5ab0" opacity="0.45"/><circle cx="443.7" cy="222.2" r="0.4" fill="#6a5ab0" opacity="0.45"/><circle cx="442.2" cy="224.8" r="0.4" fill="#6a5ab0" opacity="0.45"/><circle cx="438.5" cy="219.7" r="0.4" fill="#6a5ab0" opacity="0.45"/><circle cx="427.4" cy="237.9" r="0.4" fill="#6a5ab0" opacity="0.45"/><circle cx="435.2" cy="228.2" r="0.4" fill="#6a5ab0" opacity="0.45"/><circle cx="438.1" cy="215.7" r="0.4" fill="#6a5ab0" opacity="0.45"/><circle cx="435.7" cy="226.7" r="0.4" fill="#6a5ab0" opacity="0.45"/><circle cx="437.0" cy="231.7" r="0.4" fill="#6a5ab0" opacity="0.45"/><circle cx="438.6" cy="222.9" r="0.4" fill="#6a5ab0" opacity="0.45"/>
<ellipse cx="442" cy="225.4" rx="11" ry="7.5" fill="url(#vcloud)" opacity="0.8" transform="rotate(-40 442 225.4)"/>
<circle cx="473.2" cy="202.0" r="0.4" fill="#6a5ab0" opacity="0.55"/><circle cx="475.5" cy="200.7" r="0.4" fill="#6a5ab0" opacity="0.55"/><circle cx="481.8" cy="191.4" r="0.4" fill="#6a5ab0" opacity="0.55"/><circle cx="471.8" cy="200.2" r="0.4" fill="#6a5ab0" opacity="0.55"/><circle cx="483.3" cy="198.7" r="0.4" fill="#6a5ab0" opacity="0.55"/><circle cx="487.0" cy="198.2" r="0.4" fill="#6a5ab0" opacity="0.55"/><circle cx="477.0" cy="197.9" r="0.4" fill="#6a5ab0" opacity="0.55"/><circle cx="485.5" cy="194.5" r="0.4" fill="#6a5ab0" opacity="0.55"/><circle cx="486.7" cy="190.7" r="0.4" fill="#6a5ab0" opacity="0.55"/><circle cx="484.8" cy="195.4" r="0.4" fill="#6a5ab0" opacity="0.55"/><circle cx="465.9" cy="204.9" r="0.4" fill="#6a5ab0" opacity="0.55"/><circle cx="482.4" cy="196.8" r="0.4" fill="#6a5ab0" opacity="0.55"/><circle cx="471.4" cy="198.9" r="0.4" fill="#6a5ab0" opacity="0.55"/><circle cx="490.8" cy="191.6" r="0.4" fill="#6a5ab0" opacity="0.55"/><circle cx="452.9" cy="203.8" r="0.4" fill="#6a5ab0" opacity="0.55"/><circle cx="470.8" cy="200.1" r="0.4" fill="#6a5ab0" opacity="0.55"/><circle cx="476.2" cy="196.1" r="0.4" fill="#6a5ab0" opacity="0.55"/><circle cx="474.5" cy="202.3" r="0.4" fill="#6a5ab0" opacity="0.55"/><circle cx="470.7" cy="206.2" r="0.4" fill="#6a5ab0" opacity="0.55"/><circle cx="474.9" cy="196.0" r="0.4" fill="#6a5ab0" opacity="0.55"/><circle cx="486.5" cy="197.0" r="0.4" fill="#6a5ab0" opacity="0.55"/><circle cx="472.7" cy="202.0" r="0.4" fill="#6a5ab0" opacity="0.55"/><circle cx="465.2" cy="199.6" r="0.4" fill="#6a5ab0" opacity="0.55"/><circle cx="488.4" cy="194.0" r="0.4" fill="#6a5ab0" opacity="0.55"/><circle cx="470.5" cy="202.1" r="0.4" fill="#6a5ab0" opacity="0.55"/><circle cx="487.0" cy="195.2" r="0.4" fill="#6a5ab0" opacity="0.55"/><circle cx="466.0" cy="201.1" r="0.4" fill="#6a5ab0" opacity="0.55"/><circle cx="483.8" cy="198.5" r="0.4" fill="#6a5ab0" opacity="0.55"/><circle cx="493.9" cy="192.3" r="0.4" fill="#6a5ab0" opacity="0.55"/><circle cx="476.3" cy="198.6" r="0.4" fill="#6a5ab0" opacity="0.55"/><circle cx="488.4" cy="192.1" r="0.4" fill="#6a5ab0" opacity="0.55"/><circle cx="487.6" cy="187.1" r="0.4" fill="#6a5ab0" opacity="0.55"/><circle cx="485.5" cy="193.8" r="0.4" fill="#6a5ab0" opacity="0.55"/><circle cx="484.1" cy="198.2" r="0.4" fill="#6a5ab0" opacity="0.55"/><circle cx="470.9" cy="200.2" r="0.4" fill="#6a5ab0" opacity="0.55"/><circle cx="482.3" cy="198.4" r="0.4" fill="#6a5ab0" opacity="0.55"/><circle cx="472.1" cy="197.2" r="0.4" fill="#6a5ab0" opacity="0.55"/><circle cx="467.5" cy="208.9" r="0.4" fill="#6a5ab0" opacity="0.55"/><circle cx="478.3" cy="197.4" r="0.4" fill="#6a5ab0" opacity="0.55"/><circle cx="469.4" cy="203.6" r="0.4" fill="#6a5ab0" opacity="0.55"/><circle cx="477.2" cy="202.6" r="0.4" fill="#6a5ab0" opacity="0.55"/><circle cx="486.5" cy="195.4" r="0.4" fill="#6a5ab0" opacity="0.55"/><circle cx="484.6" cy="192.8" r="0.4" fill="#6a5ab0" opacity="0.55"/><circle cx="477.0" cy="196.8" r="0.4" fill="#6a5ab0" opacity="0.55"/><circle cx="470.4" cy="200.7" r="0.4" fill="#6a5ab0" opacity="0.55"/><circle cx="480.1" cy="201.6" r="0.4" fill="#6a5ab0" opacity="0.55"/><circle cx="453.9" cy="204.0" r="0.4" fill="#6a5ab0" opacity="0.55"/><circle cx="472.6" cy="198.6" r="0.4" fill="#6a5ab0" opacity="0.55"/><circle cx="483.6" cy="197.5" r="0.4" fill="#6a5ab0" opacity="0.55"/><circle cx="479.8" cy="196.2" r="0.4" fill="#6a5ab0" opacity="0.55"/><circle cx="484.1" cy="197.2" r="0.4" fill="#6a5ab0" opacity="0.55"/><circle cx="465.8" cy="201.4" r="0.4" fill="#6a5ab0" opacity="0.55"/><circle cx="468.5" cy="197.8" r="0.4" fill="#6a5ab0" opacity="0.55"/><circle cx="481.2" cy="197.3" r="0.4" fill="#6a5ab0" opacity="0.55"/><circle cx="480.1" cy="194.9" r="0.4" fill="#6a5ab0" opacity="0.55"/><circle cx="477.7" cy="195.6" r="0.4" fill="#6a5ab0" opacity="0.55"/><circle cx="483.5" cy="198.4" r="0.4" fill="#6a5ab0" opacity="0.55"/><circle cx="494.4" cy="196.5" r="0.4" fill="#6a5ab0" opacity="0.55"/><circle cx="473.5" cy="198.3" r="0.4" fill="#6a5ab0" opacity="0.55"/><circle cx="473.1" cy="200.6" r="0.4" fill="#6a5ab0" opacity="0.55"/><circle cx="495.7" cy="194.5" r="0.4" fill="#6a5ab0" opacity="0.55"/><circle cx="462.2" cy="199.6" r="0.4" fill="#6a5ab0" opacity="0.55"/><circle cx="470.6" cy="202.0" r="0.4" fill="#6a5ab0" opacity="0.55"/><circle cx="480.3" cy="198.3" r="0.4" fill="#6a5ab0" opacity="0.55"/><circle cx="492.9" cy="190.9" r="0.4" fill="#6a5ab0" opacity="0.55"/><circle cx="475.2" cy="204.7" r="0.4" fill="#6a5ab0" opacity="0.55"/><circle cx="481.9" cy="194.6" r="0.4" fill="#6a5ab0" opacity="0.55"/><circle cx="463.3" cy="198.5" r="0.4" fill="#6a5ab0" opacity="0.55"/><circle cx="461.5" cy="203.7" r="0.4" fill="#6a5ab0" opacity="0.55"/><circle cx="481.2" cy="200.0" r="0.4" fill="#6a5ab0" opacity="0.55"/><circle cx="478.4" cy="196.0" r="0.4" fill="#6a5ab0" opacity="0.55"/><circle cx="476.0" cy="204.3" r="0.4" fill="#6a5ab0" opacity="0.55"/><circle cx="466.7" cy="202.3" r="0.4" fill="#6a5ab0" opacity="0.55"/><circle cx="480.7" cy="199.0" r="0.4" fill="#6a5ab0" opacity="0.55"/><circle cx="477.3" cy="199.8" r="0.4" fill="#6a5ab0" opacity="0.55"/><circle cx="486.1" cy="195.1" r="0.4" fill="#6a5ab0" opacity="0.55"/><circle cx="476.4" cy="198.1" r="0.4" fill="#6a5ab0" opacity="0.55"/><circle cx="472.5" cy="199.3" r="0.4" fill="#6a5ab0" opacity="0.55"/><circle cx="477.9" cy="198.8" r="0.4" fill="#6a5ab0" opacity="0.55"/><circle cx="491.3" cy="197.6" r="0.4" fill="#6a5ab0" opacity="0.55"/><circle cx="477.1" cy="200.2" r="0.4" fill="#6a5ab0" opacity="0.55"/><circle cx="482.9" cy="198.8" r="0.4" fill="#6a5ab0" opacity="0.55"/><circle cx="480.4" cy="198.1" r="0.4" fill="#6a5ab0" opacity="0.55"/><circle cx="475.8" cy="196.6" r="0.4" fill="#6a5ab0" opacity="0.55"/><circle cx="487.7" cy="198.7" r="0.4" fill="#6a5ab0" opacity="0.55"/><circle cx="485.4" cy="197.0" r="0.4" fill="#6a5ab0" opacity="0.55"/><circle cx="481.6" cy="195.7" r="0.4" fill="#6a5ab0" opacity="0.55"/><circle cx="467.0" cy="203.6" r="0.4" fill="#6a5ab0" opacity="0.55"/><circle cx="481.0" cy="195.6" r="0.4" fill="#6a5ab0" opacity="0.55"/><circle cx="473.7" cy="203.2" r="0.4" fill="#6a5ab0" opacity="0.55"/><circle cx="467.8" cy="206.6" r="0.4" fill="#6a5ab0" opacity="0.55"/><circle cx="486.9" cy="202.1" r="0.4" fill="#6a5ab0" opacity="0.55"/><circle cx="474.5" cy="199.2" r="0.4" fill="#6a5ab0" opacity="0.55"/><circle cx="476.3" cy="199.2" r="0.4" fill="#6a5ab0" opacity="0.55"/><circle cx="477.8" cy="196.1" r="0.4" fill="#6a5ab0" opacity="0.55"/><circle cx="487.5" cy="192.8" r="0.4" fill="#6a5ab0" opacity="0.55"/><circle cx="476.6" cy="200.2" r="0.4" fill="#6a5ab0" opacity="0.55"/><circle cx="475.5" cy="197.7" r="0.4" fill="#6a5ab0" opacity="0.55"/><circle cx="482.4" cy="195.7" r="0.4" fill="#6a5ab0" opacity="0.55"/><circle cx="470.4" cy="200.3" r="0.4" fill="#6a5ab0" opacity="0.55"/><circle cx="479.8" cy="202.5" r="0.4" fill="#6a5ab0" opacity="0.55"/><circle cx="472.5" cy="202.7" r="0.4" fill="#6a5ab0" opacity="0.55"/><circle cx="473.7" cy="198.5" r="0.4" fill="#6a5ab0" opacity="0.55"/><circle cx="477.7" cy="199.0" r="0.4" fill="#6a5ab0" opacity="0.55"/><circle cx="488.1" cy="199.9" r="0.4" fill="#6a5ab0" opacity="0.55"/><circle cx="476.3" cy="202.6" r="0.4" fill="#6a5ab0" opacity="0.55"/><circle cx="488.3" cy="197.2" r="0.4" fill="#6a5ab0" opacity="0.55"/><circle cx="475.0" cy="201.7" r="0.4" fill="#6a5ab0" opacity="0.55"/><circle cx="479.5" cy="198.7" r="0.4" fill="#6a5ab0" opacity="0.55"/><circle cx="478.5" cy="199.9" r="0.4" fill="#6a5ab0" opacity="0.55"/><circle cx="489.4" cy="197.7" r="0.4" fill="#6a5ab0" opacity="0.55"/><circle cx="479.3" cy="200.6" r="0.4" fill="#6a5ab0" opacity="0.55"/><circle cx="490.3" cy="191.5" r="0.4" fill="#6a5ab0" opacity="0.55"/><circle cx="490.1" cy="190.4" r="0.4" fill="#6a5ab0" opacity="0.55"/><circle cx="484.6" cy="197.7" r="0.4" fill="#6a5ab0" opacity="0.55"/><circle cx="491.5" cy="194.6" r="0.4" fill="#6a5ab0" opacity="0.55"/><circle cx="475.7" cy="196.6" r="0.4" fill="#6a5ab0" opacity="0.55"/><circle cx="471.1" cy="202.6" r="0.4" fill="#6a5ab0" opacity="0.55"/><circle cx="477.6" cy="196.2" r="0.4" fill="#6a5ab0" opacity="0.55"/><circle cx="483.4" cy="194.2" r="0.4" fill="#6a5ab0" opacity="0.55"/><circle cx="476.3" cy="197.4" r="0.4" fill="#6a5ab0" opacity="0.55"/><circle cx="493.8" cy="197.2" r="0.4" fill="#6a5ab0" opacity="0.55"/><circle cx="477.5" cy="193.8" r="0.4" fill="#6a5ab0" opacity="0.55"/><circle cx="482.2" cy="197.0" r="0.4" fill="#6a5ab0" opacity="0.55"/><circle cx="483.1" cy="198.1" r="0.4" fill="#6a5ab0" opacity="0.55"/><circle cx="478.3" cy="200.7" r="0.4" fill="#6a5ab0" opacity="0.55"/><circle cx="486.5" cy="196.0" r="0.4" fill="#6a5ab0" opacity="0.55"/><circle cx="476.5" cy="197.2" r="0.4" fill="#6a5ab0" opacity="0.55"/><circle cx="484.3" cy="192.9" r="0.4" fill="#6a5ab0" opacity="0.55"/><circle cx="478.1" cy="195.9" r="0.4" fill="#6a5ab0" opacity="0.55"/><circle cx="469.9" cy="202.5" r="0.4" fill="#6a5ab0" opacity="0.55"/><circle cx="479.8" cy="197.7" r="0.4" fill="#6a5ab0" opacity="0.55"/><circle cx="485.4" cy="191.4" r="0.4" fill="#6a5ab0" opacity="0.55"/><circle cx="479.7" cy="198.4" r="0.4" fill="#6a5ab0" opacity="0.55"/><circle cx="485.4" cy="192.6" r="0.4" fill="#6a5ab0" opacity="0.55"/><circle cx="485.6" cy="196.3" r="0.4" fill="#6a5ab0" opacity="0.55"/><circle cx="491.3" cy="197.1" r="0.4" fill="#6a5ab0" opacity="0.55"/><circle cx="486.0" cy="201.8" r="0.4" fill="#6a5ab0" opacity="0.55"/><circle cx="479.6" cy="196.4" r="0.4" fill="#6a5ab0" opacity="0.55"/><circle cx="476.6" cy="195.9" r="0.4" fill="#6a5ab0" opacity="0.55"/><circle cx="478.2" cy="192.7" r="0.4" fill="#6a5ab0" opacity="0.55"/><circle cx="479.7" cy="198.8" r="0.4" fill="#6a5ab0" opacity="0.55"/><circle cx="487.2" cy="194.1" r="0.4" fill="#6a5ab0" opacity="0.55"/><circle cx="490.0" cy="192.4" r="0.4" fill="#6a5ab0" opacity="0.55"/><circle cx="477.4" cy="192.9" r="0.4" fill="#6a5ab0" opacity="0.55"/><circle cx="473.5" cy="197.3" r="0.4" fill="#6a5ab0" opacity="0.55"/><circle cx="491.5" cy="195.2" r="0.4" fill="#6a5ab0" opacity="0.55"/><circle cx="472.2" cy="201.5" r="0.4" fill="#6a5ab0" opacity="0.55"/><circle cx="483.4" cy="195.7" r="0.4" fill="#6a5ab0" opacity="0.55"/><circle cx="479.9" cy="196.7" r="0.4" fill="#6a5ab0" opacity="0.55"/><circle cx="474.5" cy="194.3" r="0.4" fill="#6a5ab0" opacity="0.55"/><circle cx="480.4" cy="201.0" r="0.4" fill="#6a5ab0" opacity="0.55"/><circle cx="490.4" cy="193.3" r="0.4" fill="#6a5ab0" opacity="0.55"/><circle cx="474.3" cy="198.8" r="0.4" fill="#6a5ab0" opacity="0.55"/><circle cx="487.0" cy="196.2" r="0.4" fill="#6a5ab0" opacity="0.55"/><circle cx="476.0" cy="199.8" r="0.4" fill="#6a5ab0" opacity="0.55"/><circle cx="478.9" cy="199.3" r="0.4" fill="#6a5ab0" opacity="0.55"/><circle cx="475.8" cy="194.7" r="0.4" fill="#6a5ab0" opacity="0.55"/><circle cx="481.1" cy="199.3" r="0.4" fill="#6a5ab0" opacity="0.55"/><circle cx="471.7" cy="199.9" r="0.4" fill="#6a5ab0" opacity="0.55"/><circle cx="486.2" cy="194.4" r="0.4" fill="#6a5ab0" opacity="0.55"/><circle cx="476.9" cy="204.2" r="0.4" fill="#6a5ab0" opacity="0.55"/><circle cx="487.0" cy="198.1" r="0.4" fill="#6a5ab0" opacity="0.55"/><circle cx="474.3" cy="203.9" r="0.4" fill="#6a5ab0" opacity="0.55"/><circle cx="467.3" cy="200.2" r="0.4" fill="#6a5ab0" opacity="0.55"/><circle cx="486.6" cy="199.1" r="0.4" fill="#6a5ab0" opacity="0.55"/><circle cx="472.6" cy="198.0" r="0.4" fill="#6a5ab0" opacity="0.55"/><circle cx="479.9" cy="192.1" r="0.4" fill="#6a5ab0" opacity="0.55"/><circle cx="485.2" cy="197.4" r="0.4" fill="#6a5ab0" opacity="0.55"/><circle cx="477.1" cy="199.9" r="0.4" fill="#6a5ab0" opacity="0.55"/><circle cx="486.0" cy="196.4" r="0.4" fill="#6a5ab0" opacity="0.55"/><circle cx="485.1" cy="200.1" r="0.4" fill="#6a5ab0" opacity="0.55"/><circle cx="476.6" cy="199.1" r="0.4" fill="#6a5ab0" opacity="0.55"/><circle cx="477.0" cy="201.4" r="0.4" fill="#6a5ab0" opacity="0.55"/><circle cx="477.4" cy="199.7" r="0.4" fill="#6a5ab0" opacity="0.55"/><circle cx="481.1" cy="197.3" r="0.4" fill="#6a5ab0" opacity="0.55"/><circle cx="492.6" cy="193.2" r="0.4" fill="#6a5ab0" opacity="0.55"/><circle cx="491.1" cy="196.2" r="0.4" fill="#6a5ab0" opacity="0.55"/><circle cx="489.6" cy="193.9" r="0.4" fill="#6a5ab0" opacity="0.55"/><circle cx="487.5" cy="197.2" r="0.4" fill="#6a5ab0" opacity="0.55"/><circle cx="475.7" cy="199.7" r="0.4" fill="#6a5ab0" opacity="0.55"/><circle cx="479.0" cy="197.7" r="0.4" fill="#6a5ab0" opacity="0.55"/><circle cx="489.0" cy="192.6" r="0.4" fill="#6a5ab0" opacity="0.55"/><circle cx="466.2" cy="197.1" r="0.4" fill="#6a5ab0" opacity="0.55"/><circle cx="476.1" cy="197.0" r="0.4" fill="#6a5ab0" opacity="0.55"/><circle cx="480.6" cy="198.9" r="0.4" fill="#6a5ab0" opacity="0.55"/><circle cx="493.2" cy="194.1" r="0.4" fill="#6a5ab0" opacity="0.55"/><circle cx="482.8" cy="194.5" r="0.4" fill="#6a5ab0" opacity="0.55"/><circle cx="485.4" cy="199.5" r="0.4" fill="#6a5ab0" opacity="0.55"/><circle cx="488.2" cy="189.4" r="0.4" fill="#6a5ab0" opacity="0.55"/><circle cx="487.8" cy="199.4" r="0.4" fill="#6a5ab0" opacity="0.55"/><circle cx="484.8" cy="191.8" r="0.4" fill="#6a5ab0" opacity="0.55"/><circle cx="478.2" cy="199.7" r="0.4" fill="#6a5ab0" opacity="0.55"/><circle cx="482.4" cy="194.5" r="0.4" fill="#6a5ab0" opacity="0.55"/><circle cx="474.3" cy="202.1" r="0.4" fill="#6a5ab0" opacity="0.55"/><circle cx="471.4" cy="204.3" r="0.4" fill="#6a5ab0" opacity="0.55"/><circle cx="480.4" cy="198.2" r="0.4" fill="#6a5ab0" opacity="0.55"/><circle cx="469.7" cy="199.2" r="0.4" fill="#6a5ab0" opacity="0.55"/><circle cx="483.8" cy="192.2" r="0.4" fill="#6a5ab0" opacity="0.55"/><circle cx="494.0" cy="189.0" r="0.4" fill="#6a5ab0" opacity="0.55"/><circle cx="471.1" cy="200.5" r="0.4" fill="#6a5ab0" opacity="0.55"/><circle cx="484.1" cy="198.2" r="0.4" fill="#6a5ab0" opacity="0.55"/><circle cx="477.1" cy="197.9" r="0.4" fill="#6a5ab0" opacity="0.55"/><circle cx="477.8" cy="196.6" r="0.4" fill="#6a5ab0" opacity="0.55"/><circle cx="461.9" cy="206.0" r="0.4" fill="#6a5ab0" opacity="0.55"/><circle cx="482.0" cy="197.3" r="0.4" fill="#6a5ab0" opacity="0.55"/><circle cx="475.6" cy="199.6" r="0.4" fill="#6a5ab0" opacity="0.55"/><circle cx="479.8" cy="197.3" r="0.4" fill="#6a5ab0" opacity="0.55"/><circle cx="486.7" cy="190.5" r="0.4" fill="#6a5ab0" opacity="0.55"/><circle cx="481.0" cy="194.2" r="0.4" fill="#6a5ab0" opacity="0.55"/><circle cx="478.9" cy="202.0" r="0.4" fill="#6a5ab0" opacity="0.55"/><circle cx="472.0" cy="199.8" r="0.4" fill="#6a5ab0" opacity="0.55"/><circle cx="476.5" cy="201.3" r="0.4" fill="#6a5ab0" opacity="0.55"/><circle cx="471.5" cy="195.6" r="0.4" fill="#6a5ab0" opacity="0.55"/><circle cx="483.5" cy="195.4" r="0.4" fill="#6a5ab0" opacity="0.55"/><circle cx="478.5" cy="201.0" r="0.4" fill="#6a5ab0" opacity="0.55"/><circle cx="473.2" cy="198.7" r="0.4" fill="#6a5ab0" opacity="0.55"/><circle cx="481.4" cy="198.2" r="0.4" fill="#6a5ab0" opacity="0.55"/><circle cx="477.1" cy="201.3" r="0.4" fill="#6a5ab0" opacity="0.55"/><circle cx="496.0" cy="191.2" r="0.4" fill="#6a5ab0" opacity="0.55"/>
<ellipse cx="480.5" cy="197.5" rx="15" ry="5" fill="url(#vcloud)" transform="rotate(-18 480.5 197.5)"/>
<ellipse cx="472.5" cy="201" rx="4" ry="3.5" fill="#6a58b0" opacity="0.5"/>
<ellipse cx="485" cy="195" rx="5" ry="3" fill="#6a58b0" opacity="0.4"/>
<rect x="425.4" y="171.5" width="75.70" height="72.40" fill="none" stroke="#7a7a7a" stroke-width="0.8"/>
<line x1="457.50" y1="171.50" x2="457.50" y2="243.90" stroke="#7a7a7a" stroke-width="0.8" />
<line x1="425.40" y1="214.20" x2="501.10" y2="214.20" stroke="#7a7a7a" stroke-width="0.8" />
<text x="423.40" y="174.20" font-size="7.4" text-anchor="end" font-weight="normal" fill="#3a3a3a" textLength="10.41" lengthAdjust="spacingAndGlyphs" >300</text>
<line x1="423.90" y1="171.50" x2="425.40" y2="171.50" stroke="#555" stroke-width="0.7" />
<text x="423.40" y="192.40" font-size="7.4" text-anchor="end" font-weight="normal" fill="#3a3a3a" textLength="10.41" lengthAdjust="spacingAndGlyphs" >200</text>
<line x1="423.90" y1="189.70" x2="425.40" y2="189.70" stroke="#555" stroke-width="0.7" />
<text x="423.40" y="211.10" font-size="7.4" text-anchor="end" font-weight="normal" fill="#3a3a3a" textLength="10.41" lengthAdjust="spacingAndGlyphs" >100</text>
<line x1="423.90" y1="208.40" x2="425.40" y2="208.40" stroke="#555" stroke-width="0.7" />
<text x="423.40" y="228.40" font-size="7.4" text-anchor="end" font-weight="normal" fill="#3a3a3a" textLength="6.94" lengthAdjust="spacingAndGlyphs" >10</text>
<line x1="423.90" y1="225.70" x2="425.40" y2="225.70" stroke="#555" stroke-width="0.7" />
<text x="443.30" y="250.20" font-size="7.2" text-anchor="middle" font-weight="normal" fill="#3a3a3a" textLength="6.94" lengthAdjust="spacingAndGlyphs" >10</text>
<text x="462.40" y="250.20" font-size="7.2" text-anchor="middle" font-weight="normal" fill="#3a3a3a" textLength="10.41" lengthAdjust="spacingAndGlyphs" >100</text>
<text x="481.40" y="250.20" font-size="7.2" text-anchor="middle" font-weight="normal" fill="#3a3a3a" textLength="10.41" lengthAdjust="spacingAndGlyphs" >200</text>
<text x="498.30" y="250.20" font-size="7.2" text-anchor="middle" font-weight="normal" fill="#3a3a3a" textLength="10.41" lengthAdjust="spacingAndGlyphs" >300</text>
<text x="478.70" y="179.30" font-size="6.4" text-anchor="middle" font-weight="normal" fill="#3a3a3a" textLength="33.80" lengthAdjust="spacingAndGlyphs" >52% T-cells</text>
<text x="478.70" y="242.50" font-size="6.6" text-anchor="middle" font-weight="normal" fill="#3a3a3a" textLength="34.61" lengthAdjust="spacingAndGlyphs" >Cladri + Ida</text>
<text x="11.70" y="295.60" font-size="11.9" text-anchor="start" font-weight="bold" fill="#000" >C</text>
<line x1="43.50" y1="304.20" x2="43.50" y2="433.70" stroke="#111" stroke-width="1.3" />
<line x1="40.00" y1="306.90" x2="43.50" y2="306.90" stroke="#111" stroke-width="0.9" />
<text x="37.90" y="309.60" font-size="7.5" text-anchor="end" font-weight="normal" fill="#444" textLength="11.70" lengthAdjust="spacingAndGlyphs" >600</text>
<line x1="40.00" y1="338.70" x2="43.50" y2="338.70" stroke="#111" stroke-width="0.9" />
<text x="37.90" y="341.40" font-size="7.5" text-anchor="end" font-weight="normal" fill="#444" textLength="11.70" lengthAdjust="spacingAndGlyphs" >450</text>
<line x1="40.00" y1="370.30" x2="43.50" y2="370.30" stroke="#111" stroke-width="0.9" />
<text x="37.90" y="373.00" font-size="7.5" text-anchor="end" font-weight="normal" fill="#444" textLength="11.70" lengthAdjust="spacingAndGlyphs" >300</text>
<line x1="40.00" y1="401.40" x2="43.50" y2="401.40" stroke="#111" stroke-width="0.9" />
<text x="37.90" y="404.10" font-size="7.5" text-anchor="end" font-weight="normal" fill="#444" textLength="11.70" lengthAdjust="spacingAndGlyphs" >150</text>
<line x1="40.00" y1="432.90" x2="43.50" y2="432.90" stroke="#111" stroke-width="0.9" />
<text x="37.90" y="435.60" font-size="7.5" text-anchor="end" font-weight="normal" fill="#444" textLength="3.90" lengthAdjust="spacingAndGlyphs" >0</text>
<line x1="42.80" y1="433.10" x2="168.30" y2="433.10" stroke="#111" stroke-width="1.4" />
<text transform="translate(21.2,368.5) rotate(-90)" text-anchor="middle" font-size="7.8" fill="#333" textLength="49.8" lengthAdjust="spacingAndGlyphs">WBC [ × 10<tspan dy="-2.6" font-size="5">6</tspan><tspan dy="2.6">/mL]</tspan></text>
<polyline points="55.8,311 55.8,299.4 123.7,299.4 123.7,401.9" fill="none" stroke="#777" stroke-width="0.8"/>
<circle cx="89.4" cy="296" r="0.9" fill="#555"/>
<text x="157.30" y="430.20" font-size="7.0" text-anchor="middle" font-weight="normal" fill="#333" textLength="12.50" lengthAdjust="spacingAndGlyphs" >D13</text>
<line x1="54.80" y1="316.90" x2="54.80" y2="338.70" stroke="#444" stroke-width="0.7" />
<line x1="52.20" y1="316.90" x2="57.40" y2="316.90" stroke="#222" stroke-width="0.8" />
<line x1="52.20" y1="410.90" x2="57.40" y2="410.90" stroke="#222" stroke-width="0.8" />
<rect x="49.60" y="338.7" width="10.4" height="72.20" fill="#8f86cc" stroke="#7a70b8" stroke-width="0.5"/>
<line x1="49.60" y1="373.30" x2="60.00" y2="373.30" stroke="#3a3060" stroke-width="0.8" />
<circle cx="54.8" cy="345" r="1.2" fill="#12102a"/>
<circle cx="54.8" cy="365.5" r="1.2" fill="#12102a"/>
<circle cx="54.8" cy="381.3" r="1.2" fill="#12102a"/>
<circle cx="51.5" cy="410.9" r="1.2" fill="#12102a"/>
<circle cx="57.5" cy="410.3" r="1.2" fill="#12102a"/>
<circle cx="54.8" cy="316.9" r="1.2" fill="#12102a"/>
<line x1="71.70" y1="307.40" x2="71.70" y2="348.60" stroke="#444" stroke-width="0.7" />
<line x1="69.10" y1="307.40" x2="74.30" y2="307.40" stroke="#222" stroke-width="0.8" />
<line x1="69.10" y1="408.80" x2="74.30" y2="408.80" stroke="#222" stroke-width="0.8" />
<rect x="66.50" y="348.6" width="10.4" height="60.20" fill="#3cae3c" stroke="#2a8a2a" stroke-width="0.5"/>
<line x1="66.50" y1="372.90" x2="76.90" y2="372.90" stroke="#0f4a14" stroke-width="0.8" />
<circle cx="71.7" cy="307.4" r="1.2" fill="#12102a"/>
<circle cx="71.7" cy="361.3" r="1.2" fill="#12102a"/>
<circle cx="71.7" cy="369.1" r="1.2" fill="#12102a"/>
<circle cx="71.7" cy="376.5" r="1.2" fill="#12102a"/>
<circle cx="69" cy="410.3" r="1.2" fill="#12102a"/>
<circle cx="74.5" cy="408.8" r="1.2" fill="#12102a"/>
<line x1="88.80" y1="420.40" x2="88.80" y2="425.30" stroke="#444" stroke-width="0.7" />
<line x1="86.20" y1="394.70" x2="91.40" y2="394.70" stroke="#222" stroke-width="0.8" />
<line x1="86.20" y1="425.30" x2="91.40" y2="425.30" stroke="#222" stroke-width="0.8" />
<rect x="83.60" y="394.7" width="10.4" height="25.70" fill="#3cae3c" stroke="#2a8a2a" stroke-width="0.5"/>
<line x1="83.60" y1="404.20" x2="94.00" y2="404.20" stroke="#0f4a14" stroke-width="0.8" />
<circle cx="86" cy="394.2" r="1.2" fill="#12102a"/>
<circle cx="91.5" cy="394.7" r="1.2" fill="#12102a"/>
<circle cx="88.8" cy="404.2" r="1.2" fill="#12102a"/>
<circle cx="88.8" cy="416.2" r="1.2" fill="#12102a"/>
<circle cx="88.8" cy="425.3" r="1.2" fill="#12102a"/>
<line x1="103.30" y1="363.50" x2="108.50" y2="363.50" stroke="#222" stroke-width="0.8" />
<line x1="103.30" y1="397.00" x2="108.50" y2="397.00" stroke="#222" stroke-width="0.8" />
<rect x="100.70" y="363.5" width="10.4" height="33.50" fill="#3cae3c" stroke="#2a8a2a" stroke-width="0.5"/>
<line x1="100.70" y1="381.20" x2="111.10" y2="381.20" stroke="#0f4a14" stroke-width="0.8" />
<circle cx="102.3" cy="364.8" r="1.2" fill="#12102a"/>
<circle cx="108.8" cy="363.3" r="1.2" fill="#12102a"/>
<circle cx="102.3" cy="397.1" r="1.2" fill="#12102a"/>
<circle cx="108.8" cy="397.1" r="1.2" fill="#12102a"/>
<line x1="123.10" y1="409.00" x2="123.10" y2="415.20" stroke="#444" stroke-width="0.7" />
<line x1="123.10" y1="428.30" x2="123.10" y2="432.10" stroke="#444" stroke-width="0.7" />
<line x1="120.50" y1="409.00" x2="125.70" y2="409.00" stroke="#222" stroke-width="0.8" />
<line x1="120.50" y1="432.10" x2="125.70" y2="432.10" stroke="#222" stroke-width="0.8" />
<rect x="117.90" y="415.2" width="10.4" height="13.10" fill="#3cae3c" stroke="#2a8a2a" stroke-width="0.5"/>
<line x1="117.90" y1="425.40" x2="128.30" y2="425.40" stroke="#0f4a14" stroke-width="0.8" />
<circle cx="123.1" cy="409" r="1.2" fill="#12102a"/>
<circle cx="123.1" cy="420" r="1.2" fill="#12102a"/>
<circle cx="119.4" cy="425.4" r="1.2" fill="#12102a"/>
<circle cx="126.6" cy="425.4" r="1.2" fill="#12102a"/>
<circle cx="123.1" cy="432.1" r="1.2" fill="#12102a"/>
<line x1="140.10" y1="361.70" x2="140.10" y2="370.20" stroke="#444" stroke-width="0.7" />
<line x1="140.10" y1="403.80" x2="140.10" y2="406.50" stroke="#444" stroke-width="0.7" />
<line x1="137.50" y1="361.70" x2="142.70" y2="361.70" stroke="#222" stroke-width="0.8" />
<line x1="137.50" y1="406.50" x2="142.70" y2="406.50" stroke="#222" stroke-width="0.8" />
<rect x="134.90" y="370.2" width="10.4" height="33.60" fill="#3cae3c" stroke="#2a8a2a" stroke-width="0.5"/>
<line x1="134.90" y1="396.00" x2="145.30" y2="396.00" stroke="#0f4a14" stroke-width="0.8" />
<circle cx="140.1" cy="361.7" r="1.2" fill="#12102a"/>
<circle cx="140.1" cy="393" r="1.2" fill="#12102a"/>
<circle cx="140.1" cy="399" r="1.2" fill="#12102a"/>
<circle cx="140.1" cy="406.5" r="1.2" fill="#12102a"/>
<line x1="157.20" y1="361.70" x2="157.20" y2="366.30" stroke="#444" stroke-width="0.7" />
<line x1="157.20" y1="390.40" x2="157.20" y2="395.60" stroke="#444" stroke-width="0.7" />
<line x1="154.60" y1="361.70" x2="159.80" y2="361.70" stroke="#222" stroke-width="0.8" />
<line x1="154.60" y1="395.60" x2="159.80" y2="395.60" stroke="#222" stroke-width="0.8" />
<rect x="152.00" y="366.3" width="10.4" height="24.10" fill="#3cae3c" stroke="#2a8a2a" stroke-width="0.5"/>
<line x1="152.00" y1="378.30" x2="162.40" y2="378.30" stroke="#0f4a14" stroke-width="0.8" />
<circle cx="157.2" cy="361.7" r="1.2" fill="#12102a"/>
<circle cx="154.2" cy="378" r="1.2" fill="#12102a"/>
<circle cx="160" cy="378.6" r="1.2" fill="#12102a"/>
<circle cx="157.2" cy="395.6" r="1.2" fill="#12102a"/>
<line x1="53.20" y1="437.20" x2="56.40" y2="437.20" stroke="#555" stroke-width="0.8" />
<line x1="70.10" y1="437.20" x2="73.30" y2="437.20" stroke="#555" stroke-width="0.8" />
<line x1="71.70" y1="435.60" x2="71.70" y2="438.80" stroke="#555" stroke-width="0.8" />
<line x1="87.20" y1="437.20" x2="90.40" y2="437.20" stroke="#555" stroke-width="0.8" />
<line x1="104.30" y1="437.20" x2="107.50" y2="437.20" stroke="#555" stroke-width="0.8" />
<line x1="105.90" y1="435.60" x2="105.90" y2="438.80" stroke="#555" stroke-width="0.8" />
<line x1="121.50" y1="437.20" x2="124.70" y2="437.20" stroke="#555" stroke-width="0.8" />
<line x1="123.10" y1="435.60" x2="123.10" y2="438.80" stroke="#555" stroke-width="0.8" />
<line x1="138.50" y1="437.20" x2="141.70" y2="437.20" stroke="#555" stroke-width="0.8" />
<line x1="140.10" y1="435.60" x2="140.10" y2="438.80" stroke="#555" stroke-width="0.8" />
<line x1="155.60" y1="437.20" x2="158.80" y2="437.20" stroke="#555" stroke-width="0.8" />
<text x="171.20" y="439.30" font-size="6.2" text-anchor="start" font-weight="normal" fill="#333" textLength="31.94" lengthAdjust="spacingAndGlyphs" >Idasanutlin</text>
<line x1="53.20" y1="443.80" x2="56.40" y2="443.80" stroke="#555" stroke-width="0.8" />
<line x1="70.10" y1="443.80" x2="73.30" y2="443.80" stroke="#555" stroke-width="0.8" />
<line x1="87.20" y1="443.80" x2="90.40" y2="443.80" stroke="#555" stroke-width="0.8" />
<line x1="88.80" y1="442.20" x2="88.80" y2="445.40" stroke="#555" stroke-width="0.8" />
<line x1="104.30" y1="443.80" x2="107.50" y2="443.80" stroke="#555" stroke-width="0.8" />
<line x1="121.50" y1="443.80" x2="124.70" y2="443.80" stroke="#555" stroke-width="0.8" />
<line x1="123.10" y1="442.20" x2="123.10" y2="445.40" stroke="#555" stroke-width="0.8" />
<line x1="138.50" y1="443.80" x2="141.70" y2="443.80" stroke="#555" stroke-width="0.8" />
<line x1="155.60" y1="443.80" x2="158.80" y2="443.80" stroke="#555" stroke-width="0.8" />
<text x="171.20" y="445.90" font-size="6.2" text-anchor="start" font-weight="normal" fill="#333" textLength="29.73" lengthAdjust="spacingAndGlyphs" >Cladribine</text>
<line x1="53.20" y1="450.40" x2="56.40" y2="450.40" stroke="#555" stroke-width="0.8" />
<line x1="70.10" y1="450.40" x2="73.30" y2="450.40" stroke="#555" stroke-width="0.8" />
<line x1="87.20" y1="450.40" x2="90.40" y2="450.40" stroke="#555" stroke-width="0.8" />
<line x1="104.30" y1="450.40" x2="107.50" y2="450.40" stroke="#555" stroke-width="0.8" />
<line x1="105.90" y1="448.80" x2="105.90" y2="452.00" stroke="#555" stroke-width="0.8" />
<line x1="121.50" y1="450.40" x2="124.70" y2="450.40" stroke="#555" stroke-width="0.8" />
<line x1="138.50" y1="450.40" x2="141.70" y2="450.40" stroke="#555" stroke-width="0.8" />
<line x1="155.60" y1="450.40" x2="158.80" y2="450.40" stroke="#555" stroke-width="0.8" />
<line x1="157.20" y1="448.80" x2="157.20" y2="452.00" stroke="#555" stroke-width="0.8" />
<text x="171.20" y="452.50" font-size="6.2" text-anchor="start" font-weight="normal" fill="#333" textLength="32.30" lengthAdjust="spacingAndGlyphs" >Venetoclax</text>
<line x1="53.20" y1="457.00" x2="56.40" y2="457.00" stroke="#555" stroke-width="0.8" />
<line x1="70.10" y1="457.00" x2="73.30" y2="457.00" stroke="#555" stroke-width="0.8" />
<line x1="87.20" y1="457.00" x2="90.40" y2="457.00" stroke="#555" stroke-width="0.8" />
<line x1="104.30" y1="457.00" x2="107.50" y2="457.00" stroke="#555" stroke-width="0.8" />
<line x1="121.50" y1="457.00" x2="124.70" y2="457.00" stroke="#555" stroke-width="0.8" />
<line x1="138.50" y1="457.00" x2="141.70" y2="457.00" stroke="#555" stroke-width="0.8" />
<line x1="140.10" y1="455.40" x2="140.10" y2="458.60" stroke="#555" stroke-width="0.8" />
<line x1="155.60" y1="457.00" x2="158.80" y2="457.00" stroke="#555" stroke-width="0.8" />
<line x1="157.20" y1="455.40" x2="157.20" y2="458.60" stroke="#555" stroke-width="0.8" />
<text x="171.20" y="459.10" font-size="6.2" text-anchor="start" font-weight="normal" fill="#333" textLength="34.86" lengthAdjust="spacingAndGlyphs" >Romidepsin</text>
<text x="217.20" y="295.60" font-size="11.9" text-anchor="start" font-weight="bold" fill="#000" >D</text>
<line x1="247.30" y1="304.20" x2="247.30" y2="433.70" stroke="#111" stroke-width="1.3" />
<line x1="243.80" y1="306.90" x2="247.30" y2="306.90" stroke="#111" stroke-width="0.9" />
<text x="240.80" y="309.60" font-size="7.5" text-anchor="end" font-weight="normal" fill="#444" textLength="11.10" lengthAdjust="spacingAndGlyphs" >900</text>
<line x1="243.80" y1="328.00" x2="247.30" y2="328.00" stroke="#111" stroke-width="0.9" />
<text x="240.80" y="330.70" font-size="7.5" text-anchor="end" font-weight="normal" fill="#444" textLength="11.10" lengthAdjust="spacingAndGlyphs" >750</text>
<line x1="243.80" y1="348.90" x2="247.30" y2="348.90" stroke="#111" stroke-width="0.9" />
<text x="240.80" y="351.60" font-size="7.5" text-anchor="end" font-weight="normal" fill="#444" textLength="11.10" lengthAdjust="spacingAndGlyphs" >600</text>
<line x1="243.80" y1="369.90" x2="247.30" y2="369.90" stroke="#111" stroke-width="0.9" />
<text x="240.80" y="372.60" font-size="7.5" text-anchor="end" font-weight="normal" fill="#444" textLength="11.10" lengthAdjust="spacingAndGlyphs" >450</text>
<line x1="243.80" y1="391.10" x2="247.30" y2="391.10" stroke="#111" stroke-width="0.9" />
<text x="240.80" y="393.80" font-size="7.5" text-anchor="end" font-weight="normal" fill="#444" textLength="11.10" lengthAdjust="spacingAndGlyphs" >300</text>
<line x1="243.80" y1="412.00" x2="247.30" y2="412.00" stroke="#111" stroke-width="0.9" />
<text x="240.80" y="414.70" font-size="7.5" text-anchor="end" font-weight="normal" fill="#444" textLength="11.10" lengthAdjust="spacingAndGlyphs" >150</text>
<line x1="243.80" y1="432.90" x2="247.30" y2="432.90" stroke="#111" stroke-width="0.9" />
<text x="240.80" y="435.60" font-size="7.5" text-anchor="end" font-weight="normal" fill="#444" textLength="3.70" lengthAdjust="spacingAndGlyphs" >0</text>
<line x1="246.60" y1="433.10" x2="372.30" y2="433.10" stroke="#111" stroke-width="1.4" />
<text x="0.00" y="0.00" font-size="7.4" text-anchor="middle" font-weight="normal" fill="#333" textLength="60.90" lengthAdjust="spacingAndGlyphs" transform="translate(223.70,368.30) rotate(-90)">Spleen weight [mg]</text>
<polyline points="259.6,310 259.6,294.4 344.2,294.4 344.2,347" fill="none" stroke="#777" stroke-width="0.8"/>
<polyline points="259.6,303 326.6,303 326.6,363" fill="none" stroke="#777" stroke-width="0.8"/>
<circle cx="301.6" cy="291.4" r="0.9" fill="#555"/>
<circle cx="289.8" cy="300" r="0.9" fill="#555"/><circle cx="293.1" cy="300" r="0.9" fill="#555"/><circle cx="296.4" cy="300" r="0.9" fill="#555"/>
<text x="361.10" y="430.30" font-size="7.0" text-anchor="middle" font-weight="normal" fill="#333" textLength="12.10" lengthAdjust="spacingAndGlyphs" >D14</text>
<line x1="258.60" y1="318.20" x2="258.60" y2="324.20" stroke="#444" stroke-width="0.7" />
<line x1="258.60" y1="356.90" x2="258.60" y2="378.70" stroke="#444" stroke-width="0.7" />
<line x1="256.00" y1="318.20" x2="261.20" y2="318.20" stroke="#222" stroke-width="0.8" />
<line x1="256.00" y1="378.70" x2="261.20" y2="378.70" stroke="#222" stroke-width="0.8" />
<rect x="253.40" y="324.2" width="10.4" height="32.70" fill="#8f86cc" stroke="#7a70b8" stroke-width="0.5"/>
<line x1="253.40" y1="329.40" x2="263.80" y2="329.40" stroke="#3a3060" stroke-width="0.8" />
<circle cx="258.6" cy="318.2" r="1.2" fill="#12102a"/>
<circle cx="258.6" cy="325.5" r="1.2" fill="#12102a"/>
<circle cx="258.6" cy="328.3" r="1.2" fill="#12102a"/>
<circle cx="258.6" cy="331.2" r="1.2" fill="#12102a"/>
<circle cx="258.6" cy="350.5" r="1.2" fill="#12102a"/>
<circle cx="258.6" cy="378.7" r="1.2" fill="#12102a"/>
<line x1="275.60" y1="319.70" x2="275.60" y2="323.70" stroke="#444" stroke-width="0.7" />
<line x1="275.60" y1="345.70" x2="275.60" y2="363.20" stroke="#444" stroke-width="0.7" />
<line x1="273.00" y1="319.70" x2="278.20" y2="319.70" stroke="#222" stroke-width="0.8" />
<line x1="273.00" y1="363.20" x2="278.20" y2="363.20" stroke="#222" stroke-width="0.8" />
<rect x="270.40" y="323.7" width="10.4" height="22.00" fill="#3cae3c" stroke="#2a8a2a" stroke-width="0.5"/>
<line x1="270.40" y1="334.40" x2="280.80" y2="334.40" stroke="#0f4a14" stroke-width="0.8" />
<circle cx="275.6" cy="319.7" r="1.2" fill="#12102a"/>
<circle cx="275.6" cy="324.2" r="1.2" fill="#12102a"/>
<circle cx="275.6" cy="329.7" r="1.2" fill="#12102a"/>
<circle cx="273" cy="339.3" r="1.2" fill="#12102a"/>
<circle cx="279" cy="341" r="1.2" fill="#12102a"/>
<circle cx="275.6" cy="363.2" r="1.2" fill="#12102a"/>
<line x1="292.70" y1="342.40" x2="292.70" y2="345.70" stroke="#444" stroke-width="0.7" />
<line x1="290.10" y1="342.40" x2="295.30" y2="342.40" stroke="#222" stroke-width="0.8" />
<line x1="290.10" y1="377.70" x2="295.30" y2="377.70" stroke="#222" stroke-width="0.8" />
<rect x="287.50" y="345.7" width="10.4" height="32.00" fill="#3cae3c" stroke="#2a8a2a" stroke-width="0.5"/>
<line x1="287.50" y1="354.80" x2="297.90" y2="354.80" stroke="#0f4a14" stroke-width="0.8" />
<circle cx="292.7" cy="342.4" r="1.2" fill="#12102a"/>
<circle cx="292.7" cy="348.1" r="1.2" fill="#12102a"/>
<circle cx="292.7" cy="354.8" r="1.2" fill="#12102a"/>
<circle cx="290" cy="378.6" r="1.2" fill="#12102a"/>
<circle cx="295.5" cy="377.7" r="1.2" fill="#12102a"/>
<line x1="309.70" y1="322.70" x2="309.70" y2="325.00" stroke="#444" stroke-width="0.7" />
<line x1="309.70" y1="353.40" x2="309.70" y2="359.00" stroke="#444" stroke-width="0.7" />
<line x1="307.10" y1="322.70" x2="312.30" y2="322.70" stroke="#222" stroke-width="0.8" />
<line x1="307.10" y1="359.00" x2="312.30" y2="359.00" stroke="#222" stroke-width="0.8" />
<rect x="304.50" y="325" width="10.4" height="28.40" fill="#3cae3c" stroke="#2a8a2a" stroke-width="0.5"/>
<line x1="304.50" y1="333.80" x2="314.90" y2="333.80" stroke="#0f4a14" stroke-width="0.8" />
<circle cx="309.7" cy="322.7" r="1.2" fill="#12102a"/>
<circle cx="309.7" cy="329.6" r="1.2" fill="#12102a"/>
<circle cx="309.7" cy="337.7" r="1.2" fill="#12102a"/>
<circle cx="309.7" cy="359" r="1.2" fill="#12102a"/>
<line x1="326.90" y1="371.50" x2="326.90" y2="375.00" stroke="#444" stroke-width="0.7" />
<line x1="326.90" y1="392.70" x2="326.90" y2="399.40" stroke="#444" stroke-width="0.7" />
<line x1="324.30" y1="371.50" x2="329.50" y2="371.50" stroke="#222" stroke-width="0.8" />
<line x1="324.30" y1="399.40" x2="329.50" y2="399.40" stroke="#222" stroke-width="0.8" />
<rect x="321.70" y="375" width="10.4" height="17.70" fill="#3cae3c" stroke="#2a8a2a" stroke-width="0.5"/>
<line x1="321.70" y1="382.70" x2="332.10" y2="382.70" stroke="#0f4a14" stroke-width="0.8" />
<circle cx="326.9" cy="371.5" r="1.2" fill="#12102a"/>
<circle cx="326.9" cy="377" r="1.2" fill="#12102a"/>
<circle cx="326.9" cy="382.7" r="1.2" fill="#12102a"/>
<circle cx="326.9" cy="387" r="1.2" fill="#12102a"/>
<circle cx="326.9" cy="399.4" r="1.2" fill="#12102a"/>
<line x1="343.70" y1="355.70" x2="343.70" y2="358.50" stroke="#444" stroke-width="0.7" />
<line x1="343.70" y1="382.20" x2="343.70" y2="385.50" stroke="#444" stroke-width="0.7" />
<line x1="341.10" y1="355.70" x2="346.30" y2="355.70" stroke="#222" stroke-width="0.8" />
<line x1="341.10" y1="385.50" x2="346.30" y2="385.50" stroke="#222" stroke-width="0.8" />
<rect x="338.50" y="358.5" width="10.4" height="23.70" fill="#3cae3c" stroke="#2a8a2a" stroke-width="0.5"/>
<line x1="338.50" y1="369.30" x2="348.90" y2="369.30" stroke="#0f4a14" stroke-width="0.8" />
<circle cx="343.7" cy="355.7" r="1.2" fill="#12102a"/>
<circle cx="343.7" cy="363" r="1.2" fill="#12102a"/>
<circle cx="343.7" cy="375.3" r="1.2" fill="#12102a"/>
<circle cx="343.7" cy="385.5" r="1.2" fill="#12102a"/>
<line x1="361.00" y1="345.00" x2="361.00" y2="349.20" stroke="#444" stroke-width="0.7" />
<line x1="361.00" y1="369.30" x2="361.00" y2="372.80" stroke="#444" stroke-width="0.7" />
<line x1="358.40" y1="345.00" x2="363.60" y2="345.00" stroke="#222" stroke-width="0.8" />
<line x1="358.40" y1="372.80" x2="363.60" y2="372.80" stroke="#222" stroke-width="0.8" />
<rect x="355.80" y="349.2" width="10.4" height="20.10" fill="#3cae3c" stroke="#2a8a2a" stroke-width="0.5"/>
<line x1="355.80" y1="360.30" x2="366.20" y2="360.30" stroke="#0f4a14" stroke-width="0.8" />
<circle cx="361" cy="345" r="1.2" fill="#12102a"/>
<circle cx="361" cy="359.2" r="1.2" fill="#12102a"/>
<circle cx="361" cy="361.4" r="1.2" fill="#12102a"/>
<circle cx="361" cy="372.8" r="1.2" fill="#12102a"/>
<line x1="257.00" y1="437.20" x2="260.20" y2="437.20" stroke="#555" stroke-width="0.8" />
<line x1="274.00" y1="437.20" x2="277.20" y2="437.20" stroke="#555" stroke-width="0.8" />
<line x1="275.60" y1="435.60" x2="275.60" y2="438.80" stroke="#555" stroke-width="0.8" />
<line x1="291.10" y1="437.20" x2="294.30" y2="437.20" stroke="#555" stroke-width="0.8" />
<line x1="308.10" y1="437.20" x2="311.30" y2="437.20" stroke="#555" stroke-width="0.8" />
<line x1="309.70" y1="435.60" x2="309.70" y2="438.80" stroke="#555" stroke-width="0.8" />
<line x1="325.30" y1="437.20" x2="328.50" y2="437.20" stroke="#555" stroke-width="0.8" />
<line x1="326.90" y1="435.60" x2="326.90" y2="438.80" stroke="#555" stroke-width="0.8" />
<line x1="342.10" y1="437.20" x2="345.30" y2="437.20" stroke="#555" stroke-width="0.8" />
<line x1="343.70" y1="435.60" x2="343.70" y2="438.80" stroke="#555" stroke-width="0.8" />
<line x1="359.40" y1="437.20" x2="362.60" y2="437.20" stroke="#555" stroke-width="0.8" />
<text x="374.80" y="439.30" font-size="6.2" text-anchor="start" font-weight="normal" fill="#333" textLength="31.94" lengthAdjust="spacingAndGlyphs" >Idasanutlin</text>
<line x1="257.00" y1="443.80" x2="260.20" y2="443.80" stroke="#555" stroke-width="0.8" />
<line x1="274.00" y1="443.80" x2="277.20" y2="443.80" stroke="#555" stroke-width="0.8" />
<line x1="291.10" y1="443.80" x2="294.30" y2="443.80" stroke="#555" stroke-width="0.8" />
<line x1="292.70" y1="442.20" x2="292.70" y2="445.40" stroke="#555" stroke-width="0.8" />
<line x1="308.10" y1="443.80" x2="311.30" y2="443.80" stroke="#555" stroke-width="0.8" />
<line x1="325.30" y1="443.80" x2="328.50" y2="443.80" stroke="#555" stroke-width="0.8" />
<line x1="326.90" y1="442.20" x2="326.90" y2="445.40" stroke="#555" stroke-width="0.8" />
<line x1="342.10" y1="443.80" x2="345.30" y2="443.80" stroke="#555" stroke-width="0.8" />
<line x1="359.40" y1="443.80" x2="362.60" y2="443.80" stroke="#555" stroke-width="0.8" />
<text x="374.80" y="445.90" font-size="6.2" text-anchor="start" font-weight="normal" fill="#333" textLength="29.73" lengthAdjust="spacingAndGlyphs" >Cladribine</text>
<line x1="257.00" y1="450.40" x2="260.20" y2="450.40" stroke="#555" stroke-width="0.8" />
<line x1="274.00" y1="450.40" x2="277.20" y2="450.40" stroke="#555" stroke-width="0.8" />
<line x1="291.10" y1="450.40" x2="294.30" y2="450.40" stroke="#555" stroke-width="0.8" />
<line x1="308.10" y1="450.40" x2="311.30" y2="450.40" stroke="#555" stroke-width="0.8" />
<line x1="309.70" y1="448.80" x2="309.70" y2="452.00" stroke="#555" stroke-width="0.8" />
<line x1="325.30" y1="450.40" x2="328.50" y2="450.40" stroke="#555" stroke-width="0.8" />
<line x1="342.10" y1="450.40" x2="345.30" y2="450.40" stroke="#555" stroke-width="0.8" />
<line x1="359.40" y1="450.40" x2="362.60" y2="450.40" stroke="#555" stroke-width="0.8" />
<line x1="361.00" y1="448.80" x2="361.00" y2="452.00" stroke="#555" stroke-width="0.8" />
<text x="374.80" y="452.50" font-size="6.2" text-anchor="start" font-weight="normal" fill="#333" textLength="32.30" lengthAdjust="spacingAndGlyphs" >Venetoclax</text>
<line x1="257.00" y1="457.00" x2="260.20" y2="457.00" stroke="#555" stroke-width="0.8" />
<line x1="274.00" y1="457.00" x2="277.20" y2="457.00" stroke="#555" stroke-width="0.8" />
<line x1="291.10" y1="457.00" x2="294.30" y2="457.00" stroke="#555" stroke-width="0.8" />
<line x1="308.10" y1="457.00" x2="311.30" y2="457.00" stroke="#555" stroke-width="0.8" />
<line x1="325.30" y1="457.00" x2="328.50" y2="457.00" stroke="#555" stroke-width="0.8" />
<line x1="342.10" y1="457.00" x2="345.30" y2="457.00" stroke="#555" stroke-width="0.8" />
<line x1="343.70" y1="455.40" x2="343.70" y2="458.60" stroke="#555" stroke-width="0.8" />
<line x1="359.40" y1="457.00" x2="362.60" y2="457.00" stroke="#555" stroke-width="0.8" />
<line x1="361.00" y1="455.40" x2="361.00" y2="458.60" stroke="#555" stroke-width="0.8" />
<text x="374.80" y="459.10" font-size="6.2" text-anchor="start" font-weight="normal" fill="#333" textLength="34.86" lengthAdjust="spacingAndGlyphs" >Romidepsin</text>
<text x="9.70" y="487.00" font-size="11.9" text-anchor="start" font-weight="bold" fill="#000" >E</text>
<line x1="40.00" y1="496.00" x2="40.00" y2="625.10" stroke="#111" stroke-width="1.3" />
<line x1="36.50" y1="498.50" x2="40.00" y2="498.50" stroke="#111" stroke-width="0.9" />
<text x="34.40" y="501.20" font-size="7.2" text-anchor="end" font-weight="normal" fill="#444" textLength="8.00" lengthAdjust="spacingAndGlyphs" >15</text>
<line x1="36.50" y1="540.60" x2="40.00" y2="540.60" stroke="#111" stroke-width="0.9" />
<text x="34.40" y="543.30" font-size="7.2" text-anchor="end" font-weight="normal" fill="#444" textLength="8.00" lengthAdjust="spacingAndGlyphs" >10</text>
<line x1="36.50" y1="582.40" x2="40.00" y2="582.40" stroke="#111" stroke-width="0.9" />
<text x="34.40" y="585.10" font-size="7.2" text-anchor="end" font-weight="normal" fill="#444" textLength="4.00" lengthAdjust="spacingAndGlyphs" >5</text>
<line x1="36.50" y1="624.30" x2="40.00" y2="624.30" stroke="#111" stroke-width="0.9" />
<text x="34.40" y="627.00" font-size="7.2" text-anchor="end" font-weight="normal" fill="#444" textLength="4.00" lengthAdjust="spacingAndGlyphs" >0</text>
<line x1="39.30" y1="624.50" x2="164.50" y2="624.50" stroke="#111" stroke-width="1.4" />
<text transform="translate(21.1,559.4) rotate(-90)" text-anchor="middle" font-size="7.8" fill="#333" textLength="47" lengthAdjust="spacingAndGlyphs">RBC [ × 10<tspan dy="-2.6" font-size="5">6</tspan><tspan dy="2.6">/mL]</tspan></text>
<text x="153.10" y="621.10" font-size="7.0" text-anchor="middle" font-weight="normal" fill="#333" textLength="12.20" lengthAdjust="spacingAndGlyphs" >D13</text>
<line x1="50.80" y1="523.80" x2="50.80" y2="549.00" stroke="#444" stroke-width="0.7" />
<line x1="50.80" y1="602.10" x2="50.80" y2="607.70" stroke="#444" stroke-width="0.7" />
<line x1="48.20" y1="523.80" x2="53.40" y2="523.80" stroke="#222" stroke-width="0.8" />
<line x1="48.20" y1="607.70" x2="53.40" y2="607.70" stroke="#222" stroke-width="0.8" />
<rect x="45.60" y="549" width="10.4" height="53.10" fill="#8f86cc" stroke="#7a70b8" stroke-width="0.5"/>
<line x1="45.60" y1="565.40" x2="56.00" y2="565.40" stroke="#3a3060" stroke-width="0.8" />
<circle cx="48.5" cy="557.3" r="1.2" fill="#12102a"/>
<circle cx="53.5" cy="557.3" r="1.2" fill="#12102a"/>
<circle cx="50.8" cy="574" r="1.2" fill="#12102a"/>
<circle cx="50.8" cy="601.2" r="1.2" fill="#12102a"/>
<circle cx="50.8" cy="607.7" r="1.2" fill="#12102a"/>
<circle cx="50.8" cy="523.8" r="1.2" fill="#12102a"/>
<line x1="67.90" y1="540.60" x2="67.90" y2="557.90" stroke="#444" stroke-width="0.7" />
<line x1="67.90" y1="574.00" x2="67.90" y2="591.00" stroke="#444" stroke-width="0.7" />
<line x1="65.30" y1="540.60" x2="70.50" y2="540.60" stroke="#222" stroke-width="0.8" />
<line x1="65.30" y1="591.00" x2="70.50" y2="591.00" stroke="#222" stroke-width="0.8" />
<rect x="62.70" y="557.9" width="10.4" height="16.10" fill="#3cae3c" stroke="#2a8a2a" stroke-width="0.5"/>
<line x1="62.70" y1="564.40" x2="73.10" y2="564.40" stroke="#0f4a14" stroke-width="0.8" />
<circle cx="63.5" cy="558" r="1.2" fill="#12102a"/>
<circle cx="67.9" cy="558" r="1.2" fill="#12102a"/>
<circle cx="72.5" cy="558" r="1.2" fill="#12102a"/>
<circle cx="65" cy="574" r="1.2" fill="#12102a"/>
<circle cx="70.5" cy="574" r="1.2" fill="#12102a"/>
<circle cx="67.9" cy="591" r="1.2" fill="#12102a"/>
<circle cx="67.9" cy="540.6" r="1.2" fill="#12102a"/>
<line x1="85.00" y1="573.70" x2="85.00" y2="577.90" stroke="#444" stroke-width="0.7" />
<line x1="82.40" y1="550.60" x2="87.60" y2="550.60" stroke="#222" stroke-width="0.8" />
<line x1="82.40" y1="577.90" x2="87.60" y2="577.90" stroke="#222" stroke-width="0.8" />
<rect x="79.80" y="550.6" width="10.4" height="23.10" fill="#3cae3c" stroke="#2a8a2a" stroke-width="0.5"/>
<line x1="79.80" y1="550.60" x2="90.20" y2="550.60" stroke="#0f4a14" stroke-width="0.8" />
<circle cx="81.5" cy="550.6" r="1.2" fill="#12102a"/>
<circle cx="85" cy="549.5" r="1.2" fill="#12102a"/>
<circle cx="89" cy="550.6" r="1.2" fill="#12102a"/>
<circle cx="85" cy="570.8" r="1.2" fill="#12102a"/>
<circle cx="85" cy="577.9" r="1.2" fill="#12102a"/>
<line x1="102.40" y1="540.40" x2="102.40" y2="545.40" stroke="#444" stroke-width="0.7" />
<line x1="102.40" y1="602.90" x2="102.40" y2="607.70" stroke="#444" stroke-width="0.7" />
<line x1="99.80" y1="540.40" x2="105.00" y2="540.40" stroke="#222" stroke-width="0.8" />
<line x1="99.80" y1="607.70" x2="105.00" y2="607.70" stroke="#222" stroke-width="0.8" />
<rect x="97.20" y="545.4" width="10.4" height="57.50" fill="#3cae3c" stroke="#2a8a2a" stroke-width="0.5"/>
<line x1="97.20" y1="574.20" x2="107.60" y2="574.20" stroke="#0f4a14" stroke-width="0.8" />
<circle cx="102.4" cy="540.4" r="1.2" fill="#12102a"/>
<circle cx="102.4" cy="557.7" r="1.2" fill="#12102a"/>
<circle cx="102.4" cy="591" r="1.2" fill="#12102a"/>
<circle cx="102.4" cy="607.7" r="1.2" fill="#12102a"/>
<line x1="119.30" y1="527.30" x2="119.30" y2="538.30" stroke="#444" stroke-width="0.7" />
<line x1="119.30" y1="563.50" x2="119.30" y2="564.00" stroke="#444" stroke-width="0.7" />
<line x1="116.70" y1="527.30" x2="121.90" y2="527.30" stroke="#222" stroke-width="0.8" />
<line x1="116.70" y1="564.00" x2="121.90" y2="564.00" stroke="#222" stroke-width="0.8" />
<rect x="114.10" y="538.3" width="10.4" height="25.20" fill="#3cae3c" stroke="#2a8a2a" stroke-width="0.5"/>
<line x1="114.10" y1="552.30" x2="124.50" y2="552.30" stroke="#0f4a14" stroke-width="0.8" />
<circle cx="119.3" cy="527.3" r="1.2" fill="#12102a"/>
<circle cx="119.3" cy="547.1" r="1.2" fill="#12102a"/>
<circle cx="119.3" cy="552.3" r="1.2" fill="#12102a"/>
<circle cx="117" cy="564" r="1.2" fill="#12102a"/>
<circle cx="121.5" cy="564" r="1.2" fill="#12102a"/>
<line x1="136.30" y1="540.40" x2="136.30" y2="549.80" stroke="#444" stroke-width="0.7" />
<line x1="133.70" y1="540.40" x2="138.90" y2="540.40" stroke="#222" stroke-width="0.8" />
<line x1="133.70" y1="574.00" x2="138.90" y2="574.00" stroke="#222" stroke-width="0.8" />
<rect x="131.10" y="549.8" width="10.4" height="24.20" fill="#3cae3c" stroke="#2a8a2a" stroke-width="0.5"/>
<line x1="131.10" y1="574.00" x2="141.50" y2="574.00" stroke="#0f4a14" stroke-width="0.8" />
<circle cx="136.3" cy="540.4" r="1.2" fill="#12102a"/>
<circle cx="132.5" cy="574" r="1.2" fill="#12102a"/>
<circle cx="136.3" cy="574" r="1.2" fill="#12102a"/>
<circle cx="140" cy="574" r="1.2" fill="#12102a"/>
<line x1="150.60" y1="558.00" x2="155.80" y2="558.00" stroke="#222" stroke-width="0.8" />
<line x1="150.60" y1="574.00" x2="155.80" y2="574.00" stroke="#222" stroke-width="0.8" />
<rect x="148.00" y="558" width="10.4" height="16.00" fill="#3cae3c" stroke="#2a8a2a" stroke-width="0.5"/>
<line x1="148.00" y1="565.80" x2="158.40" y2="565.80" stroke="#0f4a14" stroke-width="0.8" />
<circle cx="150.5" cy="557.7" r="1.2" fill="#12102a"/>
<circle cx="156" cy="557.7" r="1.2" fill="#12102a"/>
<circle cx="150.5" cy="574" r="1.2" fill="#12102a"/>
<circle cx="156" cy="574" r="1.2" fill="#12102a"/>
<line x1="49.20" y1="628.60" x2="52.40" y2="628.60" stroke="#555" stroke-width="0.8" />
<line x1="66.30" y1="628.60" x2="69.50" y2="628.60" stroke="#555" stroke-width="0.8" />
<line x1="67.90" y1="627.00" x2="67.90" y2="630.20" stroke="#555" stroke-width="0.8" />
<line x1="83.40" y1="628.60" x2="86.60" y2="628.60" stroke="#555" stroke-width="0.8" />
<line x1="100.80" y1="628.60" x2="104.00" y2="628.60" stroke="#555" stroke-width="0.8" />
<line x1="102.40" y1="627.00" x2="102.40" y2="630.20" stroke="#555" stroke-width="0.8" />
<line x1="117.70" y1="628.60" x2="120.90" y2="628.60" stroke="#555" stroke-width="0.8" />
<line x1="119.30" y1="627.00" x2="119.30" y2="630.20" stroke="#555" stroke-width="0.8" />
<line x1="134.70" y1="628.60" x2="137.90" y2="628.60" stroke="#555" stroke-width="0.8" />
<line x1="136.30" y1="627.00" x2="136.30" y2="630.20" stroke="#555" stroke-width="0.8" />
<line x1="151.60" y1="628.60" x2="154.80" y2="628.60" stroke="#555" stroke-width="0.8" />
<text x="167.70" y="630.70" font-size="6.2" text-anchor="start" font-weight="normal" fill="#333" textLength="31.94" lengthAdjust="spacingAndGlyphs" >Idasanutlin</text>
<line x1="49.20" y1="635.20" x2="52.40" y2="635.20" stroke="#555" stroke-width="0.8" />
<line x1="66.30" y1="635.20" x2="69.50" y2="635.20" stroke="#555" stroke-width="0.8" />
<line x1="83.40" y1="635.20" x2="86.60" y2="635.20" stroke="#555" stroke-width="0.8" />
<line x1="85.00" y1="633.60" x2="85.00" y2="636.80" stroke="#555" stroke-width="0.8" />
<line x1="100.80" y1="635.20" x2="104.00" y2="635.20" stroke="#555" stroke-width="0.8" />
<line x1="117.70" y1="635.20" x2="120.90" y2="635.20" stroke="#555" stroke-width="0.8" />
<line x1="119.30" y1="633.60" x2="119.30" y2="636.80" stroke="#555" stroke-width="0.8" />
<line x1="134.70" y1="635.20" x2="137.90" y2="635.20" stroke="#555" stroke-width="0.8" />
<line x1="151.60" y1="635.20" x2="154.80" y2="635.20" stroke="#555" stroke-width="0.8" />
<text x="167.70" y="637.30" font-size="6.2" text-anchor="start" font-weight="normal" fill="#333" textLength="29.73" lengthAdjust="spacingAndGlyphs" >Cladribine</text>
<line x1="49.20" y1="641.80" x2="52.40" y2="641.80" stroke="#555" stroke-width="0.8" />
<line x1="66.30" y1="641.80" x2="69.50" y2="641.80" stroke="#555" stroke-width="0.8" />
<line x1="83.40" y1="641.80" x2="86.60" y2="641.80" stroke="#555" stroke-width="0.8" />
<line x1="100.80" y1="641.80" x2="104.00" y2="641.80" stroke="#555" stroke-width="0.8" />
<line x1="102.40" y1="640.20" x2="102.40" y2="643.40" stroke="#555" stroke-width="0.8" />
<line x1="117.70" y1="641.80" x2="120.90" y2="641.80" stroke="#555" stroke-width="0.8" />
<line x1="134.70" y1="641.80" x2="137.90" y2="641.80" stroke="#555" stroke-width="0.8" />
<line x1="151.60" y1="641.80" x2="154.80" y2="641.80" stroke="#555" stroke-width="0.8" />
<line x1="153.20" y1="640.20" x2="153.20" y2="643.40" stroke="#555" stroke-width="0.8" />
<text x="167.70" y="643.90" font-size="6.2" text-anchor="start" font-weight="normal" fill="#333" textLength="32.30" lengthAdjust="spacingAndGlyphs" >Venetoclax</text>
<line x1="49.20" y1="648.40" x2="52.40" y2="648.40" stroke="#555" stroke-width="0.8" />
<line x1="66.30" y1="648.40" x2="69.50" y2="648.40" stroke="#555" stroke-width="0.8" />
<line x1="83.40" y1="648.40" x2="86.60" y2="648.40" stroke="#555" stroke-width="0.8" />
<line x1="100.80" y1="648.40" x2="104.00" y2="648.40" stroke="#555" stroke-width="0.8" />
<line x1="117.70" y1="648.40" x2="120.90" y2="648.40" stroke="#555" stroke-width="0.8" />
<line x1="134.70" y1="648.40" x2="137.90" y2="648.40" stroke="#555" stroke-width="0.8" />
<line x1="136.30" y1="646.80" x2="136.30" y2="650.00" stroke="#555" stroke-width="0.8" />
<line x1="151.60" y1="648.40" x2="154.80" y2="648.40" stroke="#555" stroke-width="0.8" />
<line x1="153.20" y1="646.80" x2="153.20" y2="650.00" stroke="#555" stroke-width="0.8" />
<text x="167.70" y="650.50" font-size="6.2" text-anchor="start" font-weight="normal" fill="#333" textLength="34.86" lengthAdjust="spacingAndGlyphs" >Romidepsin</text>
<text x="222.70" y="487.00" font-size="11.9" text-anchor="start" font-weight="bold" fill="#000" >F</text>
<line x1="252.00" y1="496.00" x2="252.00" y2="625.10" stroke="#111" stroke-width="1.3" />
<line x1="248.50" y1="498.50" x2="252.00" y2="498.50" stroke="#111" stroke-width="0.9" />
<text x="245.60" y="501.20" font-size="7.5" text-anchor="end" font-weight="normal" fill="#444" textLength="11.55" lengthAdjust="spacingAndGlyphs" >800</text>
<line x1="248.50" y1="530.10" x2="252.00" y2="530.10" stroke="#111" stroke-width="0.9" />
<text x="245.60" y="532.80" font-size="7.5" text-anchor="end" font-weight="normal" fill="#444" textLength="11.55" lengthAdjust="spacingAndGlyphs" >600</text>
<line x1="248.50" y1="561.60" x2="252.00" y2="561.60" stroke="#111" stroke-width="0.9" />
<text x="245.60" y="564.30" font-size="7.5" text-anchor="end" font-weight="normal" fill="#444" textLength="11.55" lengthAdjust="spacingAndGlyphs" >400</text>
<line x1="248.50" y1="593.30" x2="252.00" y2="593.30" stroke="#111" stroke-width="0.9" />
<text x="245.60" y="596.00" font-size="7.5" text-anchor="end" font-weight="normal" fill="#444" textLength="11.55" lengthAdjust="spacingAndGlyphs" >200</text>
<line x1="248.50" y1="624.30" x2="252.00" y2="624.30" stroke="#111" stroke-width="0.9" />
<text x="245.60" y="627.00" font-size="7.5" text-anchor="end" font-weight="normal" fill="#444" textLength="3.85" lengthAdjust="spacingAndGlyphs" >0</text>
<line x1="251.30" y1="624.50" x2="377.10" y2="624.50" stroke="#111" stroke-width="1.4" />
<text transform="translate(229.7,559.7) rotate(-90)" text-anchor="middle" font-size="7.8" fill="#333" textLength="43.9" lengthAdjust="spacingAndGlyphs">PLT [ × 10<tspan dy="-2.6" font-size="5">3</tspan><tspan dy="2.6">/mL]</tspan></text>
<text x="365.90" y="621.20" font-size="7.0" text-anchor="middle" font-weight="normal" fill="#333" textLength="12.10" lengthAdjust="spacingAndGlyphs" >D13</text>
<line x1="263.50" y1="558.70" x2="263.50" y2="565.00" stroke="#444" stroke-width="0.7" />
<line x1="263.50" y1="596.70" x2="263.50" y2="599.60" stroke="#444" stroke-width="0.7" />
<line x1="260.90" y1="558.70" x2="266.10" y2="558.70" stroke="#222" stroke-width="0.8" />
<line x1="260.90" y1="599.60" x2="266.10" y2="599.60" stroke="#222" stroke-width="0.8" />
<rect x="258.30" y="565" width="10.4" height="31.70" fill="#8f86cc" stroke="#7a70b8" stroke-width="0.5"/>
<line x1="258.30" y1="570.80" x2="268.70" y2="570.80" stroke="#3a3060" stroke-width="0.8" />
<circle cx="263.5" cy="558.7" r="1.2" fill="#12102a"/>
<circle cx="263.5" cy="566.3" r="1.2" fill="#12102a"/>
<circle cx="263.5" cy="577.5" r="1.2" fill="#12102a"/>
<circle cx="263.5" cy="583.8" r="1.2" fill="#12102a"/>
<circle cx="263.5" cy="596.7" r="1.2" fill="#12102a"/>
<circle cx="263.5" cy="599.6" r="1.2" fill="#12102a"/>
<line x1="280.50" y1="574.00" x2="280.50" y2="577.90" stroke="#444" stroke-width="0.7" />
<line x1="277.90" y1="574.00" x2="283.10" y2="574.00" stroke="#222" stroke-width="0.8" />
<line x1="277.90" y1="599.20" x2="283.10" y2="599.20" stroke="#222" stroke-width="0.8" />
<rect x="275.30" y="577.9" width="10.4" height="21.30" fill="#3cae3c" stroke="#2a8a2a" stroke-width="0.5"/>
<line x1="275.30" y1="586.50" x2="285.70" y2="586.50" stroke="#0f4a14" stroke-width="0.8" />
<circle cx="280.5" cy="574" r="1.2" fill="#12102a"/>
<circle cx="277" cy="578" r="1.2" fill="#12102a"/>
<circle cx="284" cy="578" r="1.2" fill="#12102a"/>
<circle cx="280.5" cy="586.5" r="1.2" fill="#12102a"/>
<circle cx="277" cy="599.2" r="1.2" fill="#12102a"/>
<circle cx="280.5" cy="599.2" r="1.2" fill="#12102a"/>
<circle cx="284" cy="599.2" r="1.2" fill="#12102a"/>
<line x1="297.70" y1="527.10" x2="297.70" y2="533.00" stroke="#444" stroke-width="0.7" />
<line x1="297.70" y1="592.50" x2="297.70" y2="599.60" stroke="#444" stroke-width="0.7" />
<line x1="295.10" y1="527.10" x2="300.30" y2="527.10" stroke="#222" stroke-width="0.8" />
<line x1="295.10" y1="599.60" x2="300.30" y2="599.60" stroke="#222" stroke-width="0.8" />
<rect x="292.50" y="533" width="10.4" height="59.50" fill="#3cae3c" stroke="#2a8a2a" stroke-width="0.5"/>
<line x1="292.50" y1="577.50" x2="302.90" y2="577.50" stroke="#0f4a14" stroke-width="0.8" />
<circle cx="297.7" cy="527.1" r="1.2" fill="#12102a"/>
<circle cx="297.7" cy="537.9" r="1.2" fill="#12102a"/>
<circle cx="297.7" cy="577.5" r="1.2" fill="#12102a"/>
<circle cx="297.7" cy="586.7" r="1.2" fill="#12102a"/>
<circle cx="297.7" cy="599.6" r="1.2" fill="#12102a"/>
<line x1="314.90" y1="561.70" x2="314.90" y2="564.00" stroke="#444" stroke-width="0.7" />
<line x1="314.90" y1="580.80" x2="314.90" y2="583.80" stroke="#444" stroke-width="0.7" />
<line x1="312.30" y1="561.70" x2="317.50" y2="561.70" stroke="#222" stroke-width="0.8" />
<line x1="312.30" y1="583.80" x2="317.50" y2="583.80" stroke="#222" stroke-width="0.8" />
<rect x="309.70" y="564" width="10.4" height="16.80" fill="#3cae3c" stroke="#2a8a2a" stroke-width="0.5"/>
<line x1="309.70" y1="571.20" x2="320.10" y2="571.20" stroke="#0f4a14" stroke-width="0.8" />
<circle cx="314.9" cy="561.7" r="1.2" fill="#12102a"/>
<circle cx="314.9" cy="568.3" r="1.2" fill="#12102a"/>
<circle cx="314.9" cy="574.6" r="1.2" fill="#12102a"/>
<circle cx="314.9" cy="583.8" r="1.2" fill="#12102a"/>
<line x1="331.80" y1="549.00" x2="331.80" y2="562.70" stroke="#444" stroke-width="0.7" />
<line x1="331.80" y1="583.30" x2="331.80" y2="586.70" stroke="#444" stroke-width="0.7" />
<line x1="329.20" y1="549.00" x2="334.40" y2="549.00" stroke="#222" stroke-width="0.8" />
<line x1="329.20" y1="586.70" x2="334.40" y2="586.70" stroke="#222" stroke-width="0.8" />
<rect x="326.60" y="562.7" width="10.4" height="20.60" fill="#3cae3c" stroke="#2a8a2a" stroke-width="0.5"/>
<line x1="326.60" y1="577.10" x2="337.00" y2="577.10" stroke="#0f4a14" stroke-width="0.8" />
<circle cx="331.8" cy="549" r="1.2" fill="#12102a"/>
<circle cx="331.8" cy="574.2" r="1.2" fill="#12102a"/>
<circle cx="331.8" cy="577.3" r="1.2" fill="#12102a"/>
<circle cx="331.8" cy="580.8" r="1.2" fill="#12102a"/>
<circle cx="331.8" cy="586.7" r="1.2" fill="#12102a"/>
<line x1="346.60" y1="595.00" x2="351.80" y2="595.00" stroke="#222" stroke-width="0.8" />
<line x1="346.60" y1="598.50" x2="351.80" y2="598.50" stroke="#222" stroke-width="0.8" />
<rect x="344.00" y="595" width="10.4" height="3.50" fill="#3cae3c" stroke="#2a8a2a" stroke-width="0.5"/>
<line x1="344.00" y1="596.50" x2="354.40" y2="596.50" stroke="#0f4a14" stroke-width="0.8" />
<circle cx="345" cy="596" r="1.2" fill="#12102a"/>
<circle cx="349.2" cy="596" r="1.2" fill="#12102a"/>
<circle cx="353.4" cy="596" r="1.2" fill="#12102a"/>
<circle cx="349.2" cy="599" r="1.2" fill="#12102a"/>
<line x1="366.00" y1="593.00" x2="366.00" y2="595.00" stroke="#444" stroke-width="0.7" />
<line x1="363.40" y1="593.00" x2="368.60" y2="593.00" stroke="#222" stroke-width="0.8" />
<line x1="363.40" y1="601.90" x2="368.60" y2="601.90" stroke="#222" stroke-width="0.8" />
<rect x="360.80" y="595" width="10.4" height="6.90" fill="#3cae3c" stroke="#2a8a2a" stroke-width="0.5"/>
<line x1="360.80" y1="599.40" x2="371.20" y2="599.40" stroke="#0f4a14" stroke-width="0.8" />
<circle cx="366" cy="593" r="1.2" fill="#12102a"/>
<circle cx="366" cy="596.5" r="1.2" fill="#12102a"/>
<circle cx="362" cy="601.5" r="1.2" fill="#12102a"/>
<circle cx="370" cy="601.5" r="1.2" fill="#12102a"/>
<line x1="261.90" y1="628.60" x2="265.10" y2="628.60" stroke="#555" stroke-width="0.8" />
<line x1="278.90" y1="628.60" x2="282.10" y2="628.60" stroke="#555" stroke-width="0.8" />
<line x1="280.50" y1="627.00" x2="280.50" y2="630.20" stroke="#555" stroke-width="0.8" />
<line x1="296.10" y1="628.60" x2="299.30" y2="628.60" stroke="#555" stroke-width="0.8" />
<line x1="313.30" y1="628.60" x2="316.50" y2="628.60" stroke="#555" stroke-width="0.8" />
<line x1="314.90" y1="627.00" x2="314.90" y2="630.20" stroke="#555" stroke-width="0.8" />
<line x1="330.20" y1="628.60" x2="333.40" y2="628.60" stroke="#555" stroke-width="0.8" />
<line x1="331.80" y1="627.00" x2="331.80" y2="630.20" stroke="#555" stroke-width="0.8" />
<line x1="347.60" y1="628.60" x2="350.80" y2="628.60" stroke="#555" stroke-width="0.8" />
<line x1="349.20" y1="627.00" x2="349.20" y2="630.20" stroke="#555" stroke-width="0.8" />
<line x1="364.40" y1="628.60" x2="367.60" y2="628.60" stroke="#555" stroke-width="0.8" />
<text x="380.00" y="630.70" font-size="6.2" text-anchor="start" font-weight="normal" fill="#333" textLength="31.94" lengthAdjust="spacingAndGlyphs" >Idasanutlin</text>
<line x1="261.90" y1="635.20" x2="265.10" y2="635.20" stroke="#555" stroke-width="0.8" />
<line x1="278.90" y1="635.20" x2="282.10" y2="635.20" stroke="#555" stroke-width="0.8" />
<line x1="296.10" y1="635.20" x2="299.30" y2="635.20" stroke="#555" stroke-width="0.8" />
<line x1="297.70" y1="633.60" x2="297.70" y2="636.80" stroke="#555" stroke-width="0.8" />
<line x1="313.30" y1="635.20" x2="316.50" y2="635.20" stroke="#555" stroke-width="0.8" />
<line x1="330.20" y1="635.20" x2="333.40" y2="635.20" stroke="#555" stroke-width="0.8" />
<line x1="331.80" y1="633.60" x2="331.80" y2="636.80" stroke="#555" stroke-width="0.8" />
<line x1="347.60" y1="635.20" x2="350.80" y2="635.20" stroke="#555" stroke-width="0.8" />
<line x1="364.40" y1="635.20" x2="367.60" y2="635.20" stroke="#555" stroke-width="0.8" />
<text x="380.00" y="637.30" font-size="6.2" text-anchor="start" font-weight="normal" fill="#333" textLength="29.73" lengthAdjust="spacingAndGlyphs" >Cladribine</text>
<line x1="261.90" y1="641.80" x2="265.10" y2="641.80" stroke="#555" stroke-width="0.8" />
<line x1="278.90" y1="641.80" x2="282.10" y2="641.80" stroke="#555" stroke-width="0.8" />
<line x1="296.10" y1="641.80" x2="299.30" y2="641.80" stroke="#555" stroke-width="0.8" />
<line x1="313.30" y1="641.80" x2="316.50" y2="641.80" stroke="#555" stroke-width="0.8" />
<line x1="314.90" y1="640.20" x2="314.90" y2="643.40" stroke="#555" stroke-width="0.8" />
<line x1="330.20" y1="641.80" x2="333.40" y2="641.80" stroke="#555" stroke-width="0.8" />
<line x1="347.60" y1="641.80" x2="350.80" y2="641.80" stroke="#555" stroke-width="0.8" />
<line x1="364.40" y1="641.80" x2="367.60" y2="641.80" stroke="#555" stroke-width="0.8" />
<line x1="366.00" y1="640.20" x2="366.00" y2="643.40" stroke="#555" stroke-width="0.8" />
<text x="380.00" y="643.90" font-size="6.2" text-anchor="start" font-weight="normal" fill="#333" textLength="32.30" lengthAdjust="spacingAndGlyphs" >Venetoclax</text>
<line x1="261.90" y1="648.40" x2="265.10" y2="648.40" stroke="#555" stroke-width="0.8" />
<line x1="278.90" y1="648.40" x2="282.10" y2="648.40" stroke="#555" stroke-width="0.8" />
<line x1="296.10" y1="648.40" x2="299.30" y2="648.40" stroke="#555" stroke-width="0.8" />
<line x1="313.30" y1="648.40" x2="316.50" y2="648.40" stroke="#555" stroke-width="0.8" />
<line x1="330.20" y1="648.40" x2="333.40" y2="648.40" stroke="#555" stroke-width="0.8" />
<line x1="347.60" y1="648.40" x2="350.80" y2="648.40" stroke="#555" stroke-width="0.8" />
<line x1="349.20" y1="646.80" x2="349.20" y2="650.00" stroke="#555" stroke-width="0.8" />
<line x1="364.40" y1="648.40" x2="367.60" y2="648.40" stroke="#555" stroke-width="0.8" />
<line x1="366.00" y1="646.80" x2="366.00" y2="650.00" stroke="#555" stroke-width="0.8" />
<text x="380.00" y="650.50" font-size="6.2" text-anchor="start" font-weight="normal" fill="#333" textLength="34.86" lengthAdjust="spacingAndGlyphs" >Romidepsin</text>
<defs><linearGradient id="photo" x1="0" y1="0" x2="1" y2="1"><stop offset="0" stop-color="#d2d2d2"/><stop offset="1" stop-color="#dedede"/></linearGradient><radialGradient id="sp" cx="0.5" cy="0.45" r="0.6"><stop offset="0" stop-color="#34040a"/><stop offset="0.6" stop-color="#450710"/><stop offset="1" stop-color="#781422"/></radialGradient><radialGradient id="sp2" cx="0.5" cy="0.45" r="0.6"><stop offset="0" stop-color="#200206"/><stop offset="0.6" stop-color="#2c040b"/><stop offset="1" stop-color="#5e0e1c"/></radialGradient></defs>
<rect x="425.2" y="285.4" width="73.8" height="173" fill="url(#photo)"/>
<rect x="425.2" y="285.4" width="3" height="173" fill="#c6c6c6" opacity="0.8"/>
<rect x="425.2" y="285.4" width="73.8" height="1.2" fill="#c6c6c6" opacity="0.8"/>
<defs><filter id="shb" x="-20%" y="-40%" width="140%" height="180%"><feGaussianBlur stdDeviation="1.4"/></filter></defs>
<path d="M437.5,298 C440,295.3 446,296 452,298 C460,300.6 472,302.6 481,304.6 C486,305.8 488.5,308.5 487.5,311.5 C485.5,315 476,316.8 465,316.8 C454,316.8 445,315 440,312 C436,309 435.3,301.5 437.5,298 Z" fill="#707070" opacity="0.45" filter="url(#shb)" transform="translate(0.3,1.6)"/>
<path d="M437.5,298 C440,295.3 446,296 452,298 C460,300.6 472,302.6 481,304.6 C486,305.8 488.5,308.5 487.5,311.5 C485.5,315 476,316.8 465,316.8 C454,316.8 445,315 440,312 C436,309 435.3,301.5 437.5,298 Z" fill="url(#sp)" stroke="#7a2030" stroke-width="0.7" stroke-opacity="0.7"/>
<path d="M437,346.5 C439,344.8 442,344.3 446,344.3 L473,344.4 C479,345 484,348.5 488.8,353.8 C488,356.2 485,357.8 481,358.6 C474,360 466,360.6 458,360.6 C450,360.6 443,360.2 439,358 C436,356.3 435,353 435.3,350 C435.5,348.5 436,347.3 437,346.5 Z" fill="#707070" opacity="0.45" filter="url(#shb)" transform="translate(0.3,1.6)"/>
<path d="M437,346.5 C439,344.8 442,344.3 446,344.3 L473,344.4 C479,345 484,348.5 488.8,353.8 C488,356.2 485,357.8 481,358.6 C474,360 466,360.6 458,360.6 C450,360.6 443,360.2 439,358 C436,356.3 435,353 435.3,350 C435.5,348.5 436,347.3 437,346.5 Z" fill="url(#sp2)" stroke="#7a2030" stroke-width="0.7" stroke-opacity="0.7"/>
<path d="M437.5,385 C440,382 446,383 452,383.8 C462,384.2 472,381.8 479.5,379.8 C484,378.8 486.5,381 485.5,384.5 C483,391 474,397.5 462,399.5 C452,401 443,400 439,396.5 C435.8,393.5 435.2,388 437.5,385 Z" fill="#707070" opacity="0.45" filter="url(#shb)" transform="translate(0.3,1.6)"/>
<path d="M437.5,385 C440,382 446,383 452,383.8 C462,384.2 472,381.8 479.5,379.8 C484,378.8 486.5,381 485.5,384.5 C483,391 474,397.5 462,399.5 C452,401 443,400 439,396.5 C435.8,393.5 435.2,388 437.5,385 Z" fill="url(#sp)" stroke="#7a2030" stroke-width="0.7" stroke-opacity="0.7"/>
<path d="M437,420 C440,416.5 448,417.8 456,418.2 C466,418.6 476,416.5 485,415 C490.5,414.3 493.8,416.2 492.5,419.5 C490,426.5 481,432.5 469,435 C457,437 445,436.5 440,433 C435.5,430 434.5,424 437,420 Z" fill="#707070" opacity="0.45" filter="url(#shb)" transform="translate(0.3,1.6)"/>
<path d="M437,420 C440,416.5 448,417.8 456,418.2 C466,418.6 476,416.5 485,415 C490.5,414.3 493.8,416.2 492.5,419.5 C490,426.5 481,432.5 469,435 C457,437 445,436.5 440,433 C435.5,430 434.5,424 437,420 Z" fill="url(#sp)" stroke="#7a2030" stroke-width="0.7" stroke-opacity="0.7"/>
<circle cx="445" cy="300" r="0.8" fill="#e0c0c6" opacity="0.75"/>
<circle cx="448" cy="301" r="0.7" fill="#e0c0c6" opacity="0.75"/>
<circle cx="451" cy="302.5" r="0.6" fill="#e0c0c6" opacity="0.75"/>
<circle cx="454" cy="304" r="0.5" fill="#e0c0c6" opacity="0.75"/>
<circle cx="466" cy="309" r="0.7" fill="#e0c0c6" opacity="0.75"/>
<circle cx="470" cy="308" r="0.5" fill="#e0c0c6" opacity="0.75"/>
<circle cx="476" cy="309.5" r="0.8" fill="#e0c0c6" opacity="0.75"/>
<circle cx="481" cy="310" r="0.5" fill="#e0c0c6" opacity="0.75"/>
<circle cx="448" cy="350" r="0.5" fill="#e0c0c6" opacity="0.75"/>
<circle cx="455" cy="351" r="0.5" fill="#e0c0c6" opacity="0.75"/>
<circle cx="462" cy="352" r="0.6" fill="#e0c0c6" opacity="0.75"/>
<circle cx="470" cy="353" r="0.6" fill="#e0c0c6" opacity="0.75"/>
<circle cx="476" cy="351" r="0.4" fill="#e0c0c6" opacity="0.75"/>
<circle cx="451" cy="392" r="1.0" fill="#e0c0c6" opacity="0.75"/>
<circle cx="458" cy="393" r="0.9" fill="#e0c0c6" opacity="0.75"/>
<circle cx="463" cy="391" r="0.5" fill="#e0c0c6" opacity="0.75"/>
<circle cx="470" cy="391" r="0.7" fill="#e0c0c6" opacity="0.75"/>
<circle cx="476" cy="389" r="0.5" fill="#e0c0c6" opacity="0.75"/>
<circle cx="455" cy="426" r="0.8" fill="#e0c0c6" opacity="0.75"/>
<circle cx="457.5" cy="426.5" r="1.0" fill="#e0c0c6" opacity="0.75"/>
<circle cx="460" cy="427" r="0.9" fill="#e0c0c6" opacity="0.75"/>
<circle cx="473" cy="425.5" r="1.1" fill="#e0c0c6" opacity="0.75"/>
<circle cx="468" cy="429" r="0.5" fill="#e0c0c6" opacity="0.75"/>
<path d="M427.4,457.8 L427.4,443 Q427.4,440.2 430.4,440.2 L499,440.2 L499,457.8 Z" fill="#e6e6e6" stroke="#9a9a9a" stroke-width="0.7"/>
<line x1="428.00" y1="440.80" x2="499.00" y2="440.80" stroke="#b0b0b0" stroke-width="1.0" />
<line x1="434.80" y1="441.00" x2="434.80" y2="446.50" stroke="#555" stroke-width="0.5" />
<line x1="436.84" y1="441.00" x2="436.84" y2="443.60" stroke="#555" stroke-width="0.5" />
<line x1="438.88" y1="441.00" x2="438.88" y2="443.60" stroke="#555" stroke-width="0.5" />
<line x1="440.92" y1="441.00" x2="440.92" y2="443.60" stroke="#555" stroke-width="0.5" />
<line x1="442.96" y1="441.00" x2="442.96" y2="443.60" stroke="#555" stroke-width="0.5" />
<line x1="445.00" y1="441.00" x2="445.00" y2="445.00" stroke="#555" stroke-width="0.5" />
<line x1="447.04" y1="441.00" x2="447.04" y2="443.60" stroke="#555" stroke-width="0.5" />
<line x1="449.08" y1="441.00" x2="449.08" y2="443.60" stroke="#555" stroke-width="0.5" />
<line x1="451.12" y1="441.00" x2="451.12" y2="443.60" stroke="#555" stroke-width="0.5" />
<line x1="453.16" y1="441.00" x2="453.16" y2="443.60" stroke="#555" stroke-width="0.5" />
<line x1="455.20" y1="441.00" x2="455.20" y2="446.50" stroke="#555" stroke-width="0.5" />
<line x1="457.24" y1="441.00" x2="457.24" y2="443.60" stroke="#555" stroke-width="0.5" />
<line x1="459.28" y1="441.00" x2="459.28" y2="443.60" stroke="#555" stroke-width="0.5" />
<line x1="461.32" y1="441.00" x2="461.32" y2="443.60" stroke="#555" stroke-width="0.5" />
<line x1="463.36" y1="441.00" x2="463.36" y2="443.60" stroke="#555" stroke-width="0.5" />
<line x1="465.40" y1="441.00" x2="465.40" y2="445.00" stroke="#555" stroke-width="0.5" />
<line x1="467.44" y1="441.00" x2="467.44" y2="443.60" stroke="#555" stroke-width="0.5" />
<line x1="469.48" y1="441.00" x2="469.48" y2="443.60" stroke="#555" stroke-width="0.5" />
<line x1="471.52" y1="441.00" x2="471.52" y2="443.60" stroke="#555" stroke-width="0.5" />
<line x1="473.56" y1="441.00" x2="473.56" y2="443.60" stroke="#555" stroke-width="0.5" />
<line x1="475.60" y1="441.00" x2="475.60" y2="446.50" stroke="#555" stroke-width="0.5" />
<line x1="477.64" y1="441.00" x2="477.64" y2="443.60" stroke="#555" stroke-width="0.5" />
<line x1="479.68" y1="441.00" x2="479.68" y2="443.60" stroke="#555" stroke-width="0.5" />
<line x1="481.72" y1="441.00" x2="481.72" y2="443.60" stroke="#555" stroke-width="0.5" />
<line x1="483.76" y1="441.00" x2="483.76" y2="443.60" stroke="#555" stroke-width="0.5" />
<line x1="485.80" y1="441.00" x2="485.80" y2="445.00" stroke="#555" stroke-width="0.5" />
<line x1="487.84" y1="441.00" x2="487.84" y2="443.60" stroke="#555" stroke-width="0.5" />
<line x1="489.88" y1="441.00" x2="489.88" y2="443.60" stroke="#555" stroke-width="0.5" />
<line x1="491.92" y1="441.00" x2="491.92" y2="443.60" stroke="#555" stroke-width="0.5" />
<line x1="493.96" y1="441.00" x2="493.96" y2="443.60" stroke="#555" stroke-width="0.5" />
<line x1="496.00" y1="441.00" x2="496.00" y2="446.50" stroke="#555" stroke-width="0.5" />
<line x1="498.04" y1="441.00" x2="498.04" y2="443.60" stroke="#555" stroke-width="0.5" />
<text x="434.90" y="456.30" font-size="8.4" text-anchor="middle" font-weight="normal" fill="#333" textLength="4.60" lengthAdjust="spacingAndGlyphs" >0</text>
<text x="455.30" y="456.30" font-size="8.4" text-anchor="middle" font-weight="normal" fill="#333" textLength="4.60" lengthAdjust="spacingAndGlyphs" >1</text>
<text x="475.70" y="456.30" font-size="8.4" text-anchor="middle" font-weight="normal" fill="#333" textLength="4.60" lengthAdjust="spacingAndGlyphs" >2</text>
<text x="496.10" y="456.30" font-size="8.4" text-anchor="middle" font-weight="normal" fill="#333" textLength="4.60" lengthAdjust="spacingAndGlyphs" >3</text>
<text x="0.00" y="0.00" font-size="6.9" text-anchor="middle" font-weight="normal" fill="#333" textLength="35.40" lengthAdjust="spacingAndGlyphs" transform="translate(422.20,306.80) rotate(-90)">Cladri + Ida</text>
<text x="0.00" y="0.00" font-size="6.9" text-anchor="middle" font-weight="normal" fill="#333" textLength="28.80" lengthAdjust="spacingAndGlyphs" transform="translate(422.20,350.20) rotate(-90)">Cladribine</text>
<text x="0.00" y="0.00" font-size="6.9" text-anchor="middle" font-weight="normal" fill="#333" textLength="32.70" lengthAdjust="spacingAndGlyphs" transform="translate(422.20,392.90) rotate(-90)">Idasanutlin</text>
<text x="0.00" y="0.00" font-size="6.9" text-anchor="middle" font-weight="normal" fill="#333" textLength="11.50" lengthAdjust="spacingAndGlyphs" transform="translate(422.20,425.50) rotate(-90)">ctrl</text>
<text x="0.00" y="0.00" font-size="6.9" text-anchor="middle" font-weight="normal" fill="#333" textLength="12.50" lengthAdjust="spacingAndGlyphs" transform="translate(422.20,450.00) rotate(-90)">[cm]</text>
<text x="0.00" y="0.00" font-size="6.8" text-anchor="middle" font-weight="normal" fill="#333" textLength="26.50" lengthAdjust="spacingAndGlyphs" transform="translate(508.00,299.00) rotate(-90)">330 [mg]</text>
<text x="0.00" y="0.00" font-size="6.8" text-anchor="middle" font-weight="normal" fill="#333" textLength="11.00" lengthAdjust="spacingAndGlyphs" transform="translate(508.00,353.50) rotate(-90)">560</text>
<text x="0.00" y="0.00" font-size="6.8" text-anchor="middle" font-weight="normal" fill="#333" textLength="10.90" lengthAdjust="spacingAndGlyphs" transform="translate(508.00,388.90) rotate(-90)">500</text>
<text x="0.00" y="0.00" font-size="6.8" text-anchor="middle" font-weight="normal" fill="#333" textLength="11.00" lengthAdjust="spacingAndGlyphs" transform="translate(508.00,425.50) rotate(-90)">820</text>
<rect x="0" y="0" width="520" height="1.1" fill="#555"/>
<rect x="0" y="0" width="1.1" height="662" fill="#666"/>
<rect x="518.7" y="0" width="1.3" height="662" fill="#333"/>
<rect x="0" y="660.2" width="520" height="1.8" fill="#333"/>
</svg></body></html>
